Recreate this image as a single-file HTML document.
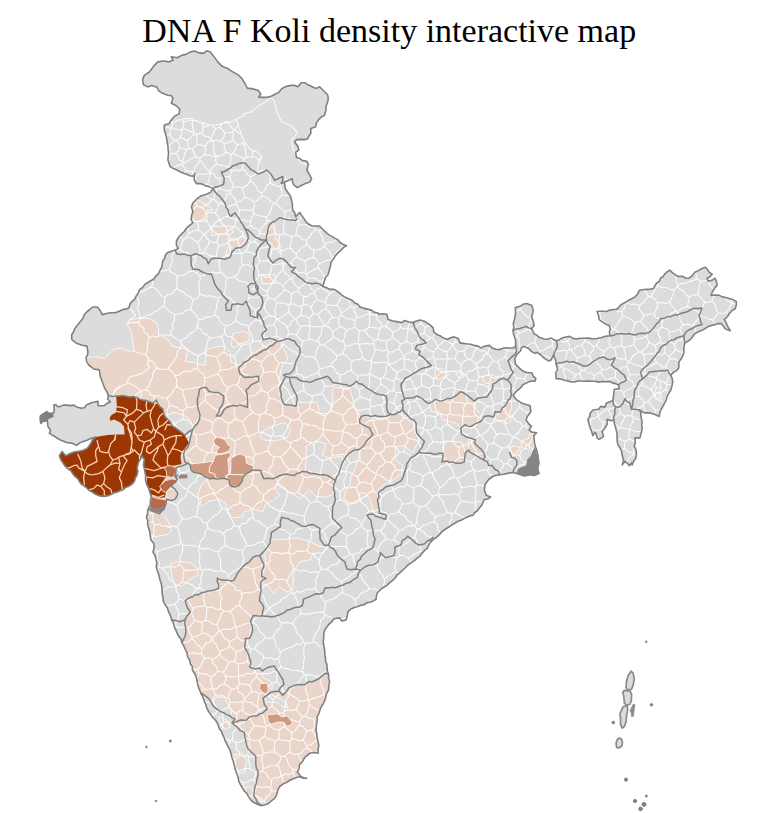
<!DOCTYPE html>
<html lang="en"><head><meta charset="utf-8"><title>DNA F Koli density interactive map</title>
<style>
html,body{margin:0;padding:0;background:#fff;}
body{width:770px;height:813px;position:relative;overflow:hidden;}
h1{position:absolute;left:142.3px;top:10.8px;margin:0;font:normal 34px/40px "Liberation Serif",serif;color:#000;white-space:nowrap;}
</style></head><body>
<h1>DNA F Koli density interactive map</h1>
<svg width="770" height="813" viewBox="0 0 770 813" style="position:absolute;left:0;top:0">
<defs><clipPath id="ind"><path d="M142.6 79.6 L144.3 75.4 L146.8 73.6 L149.4 72.0 L151.6 69.1 L153.6 66.1 L157.8 61.9 L163.7 61.0 L168.8 61.9 L173.0 60.2 L171.3 56.8 L177.2 57.7 L182.3 55.1 L185.9 54.4 L189.0 52.6 L194.1 50.9 L198.3 52.6 L203.4 53.4 L206.8 50.9 L210.1 51.8 L213.5 56.0 L215.6 58.9 L217.7 61.9 L221.9 66.1 L224.9 67.4 L227.9 68.6 L231.2 70.9 L234.6 72.9 L238.3 75.0 L241.4 77.9 L243.0 80.5 L244.7 83.0 L247.3 88.1 L253.2 88.9 L258.2 90.6 L260.8 94.0 L258.8 97.2 L263.2 97.4 L267.6 97.2 L271.0 96.4 L274.0 94.8 L278.8 92.4 L280.8 89.6 L283.6 87.6 L287.5 86.1 L291.6 85.2 L294.9 85.4 L298.0 86.8 L301.2 82.8 L305.2 82.8 L307.8 84.8 L310.8 86.0 L313.5 87.5 L316.4 88.4 L319.6 86.8 L323.6 90.8 L327.6 94.8 L328.3 98.4 L327.6 102.0 L326.1 105.9 L326.0 110.0 L324.4 115.6 L321.2 117.0 L318.8 119.6 L316.4 122.8 L315.6 126.8 L310.8 128.4 L310.8 133.2 L309.0 135.9 L307.6 138.8 L304.4 139.6 L300.4 139.4 L296.4 139.6 L294.8 142.0 L298.0 146.8 L298.8 150.0 L295.6 152.4 L296.4 157.2 L299.5 158.4 L302.0 160.4 L306.8 161.2 L308.4 164.4 L306.8 170.0 L309.2 174.0 L311.6 178.8 L310.0 182.0 L305.2 183.6 L300.4 186.0 L297.2 187.6 L294.0 185.2 L292.5 182.2 L292.4 178.8 L288.4 180.4 L284.4 182.0 L284.8 185.2 L285.2 188.4 L288.4 193.2 L290.5 196.3 L291.4 200.0 L292.2 203.1 L292.5 206.2 L292.5 209.4 L294.7 212.7 L295.6 216.6 L299.7 212.5 L301.8 215.6 L304.0 218.6 L306.0 221.8 L308.8 224.3 L312.2 226.0 L315.9 226.0 L319.5 226.0 L321.8 228.5 L324.4 230.8 L326.8 233.2 L329.4 235.1 L332.4 236.6 L335.1 238.4 L338.1 239.9 L340.4 242.7 L343.2 244.5 L346.5 245.7 L343.6 247.4 L341.3 249.9 L338.0 252.8 L335.1 256.1 L333.2 259.4 L330.9 262.3 L330.6 265.5 L329.8 268.6 L328.8 271.7 L328.0 274.8 L325.7 277.1 L324.7 280.0 L323.8 283.1 L322.6 286.2 L327.8 288.3 L330.8 289.4 L334.0 289.4 L337.2 291.3 L340.3 293.5 L342.7 295.8 L345.6 297.4 L348.6 298.7 L352.1 300.2 L354.8 302.9 L357.8 304.3 L360.0 306.9 L363.1 308.1 L367.3 309.1 L371.4 310.1 L373.8 312.1 L377.0 312.8 L379.7 314.3 L383.4 313.7 L387.0 314.3 L388.1 319.5 L392.2 320.7 L396.4 321.6 L401.6 322.6 L404.7 320.5 L408.7 322.0 L413.0 322.6 L416.5 321.0 L420.3 320.1 L424.3 321.2 L427.9 323.4 L430.6 325.4 L433.0 327.7 L433.8 331.9 L436.8 334.6 L440.6 336.1 L443.8 338.1 L447.3 339.5 L450.5 337.7 L454.1 336.9 L458.3 338.6 L460.0 342.9 L465.9 343.7 L470.2 344.2 L474.4 345.4 L478.0 346.1 L481.1 347.9 L485.1 346.0 L489.5 345.4 L492.1 347.9 L495.8 349.2 L499.7 349.6 L502.9 348.3 L506.4 347.9 L509.8 348.0 L513.2 347.9 L515.7 346.2 L515.6 340.6 L514.7 337.3 L513.5 334.0 L513.1 330.5 L513.8 327.2 L513.3 323.7 L514.2 320.4 L515.1 316.2 L515.6 311.9 L515.2 307.7 L520.6 306.0 L523.4 304.2 L526.6 303.5 L531.6 305.2 L533.3 310.3 L532.6 313.7 L531.6 317.0 L533.3 321.1 L534.2 325.5 L531.6 328.8 L534.2 333.9 L536.9 335.3 L539.2 337.3 L544.3 339.0 L547.7 339.3 L551.0 338.1 L556.1 340.7 L559.1 340.0 L561.6 338.2 L564.5 337.3 L569.6 336.4 L572.8 338.2 L576.4 339.0 L580.3 338.3 L584.3 338.2 L588.2 338.1 L592.6 338.8 L597.0 338.5 L600.9 337.7 L604.7 336.4 L610.2 335.7 L609.3 332.4 L610.3 328.9 L609.2 325.6 L605.6 324.0 L602.3 321.9 L599.1 319.6 L598.5 315.5 L597.1 311.5 L600.1 311.2 L603.1 311.2 L606.1 311.5 L609.3 310.2 L612.7 309.6 L616.2 309.5 L618.6 307.6 L620.7 305.1 L623.3 303.4 L626.1 302.0 L628.8 300.2 L631.6 298.8 L634.4 297.4 L637.5 294.2 L639.4 290.3 L642.9 289.8 L646.5 289.4 L650.1 289.3 L653.6 288.3 L655.0 285.5 L656.7 283.0 L659.4 281.1 L660.6 278.2 L663.2 276.5 L664.9 273.9 L667.1 271.8 L669.7 270.1 L672.5 272.9 L675.8 275.2 L678.9 276.6 L682.5 276.3 L685.5 278.1 L688.9 278.2 L692.3 275.6 L694.9 272.2 L698.3 270.6 L701.6 268.7 L705.0 267.1 L707.5 269.3 L709.1 272.2 L712.1 274.2 L710.0 276.7 L707.1 278.2 L708.1 281.2 L711.9 280.3 L715.1 278.2 L716.5 281.6 L717.1 285.3 L714.4 288.6 L712.1 292.3 L711.1 295.4 L715.2 295.0 L719.2 295.4 L722.4 296.9 L725.9 297.5 L729.3 298.4 L732.9 299.6 L736.3 301.4 L736.3 305.0 L735.3 308.5 L732.1 310.7 L729.3 313.5 L727.2 317.0 L724.2 319.6 L726.1 322.4 L727.2 325.6 L730.3 330.7 L725.2 328.7 L723.3 326.1 L721.2 323.6 L718.1 323.6 L715.1 324.6 L711.6 325.4 L708.1 326.6 L704.7 328.9 L701.0 330.7 L697.1 332.2 L693.9 334.7 L691.7 338.0 L688.9 340.8 L684.9 342.8 L683.8 347.8 L684.0 351.9 L682.8 355.9 L681.1 359.1 L678.8 362.0 L678.9 365.0 L678.8 368.0 L676.7 370.6 L673.8 372.1 L670.7 375.1 L672.2 378.5 L672.7 382.1 L671.9 386.2 L670.7 390.2 L668.8 393.2 L667.1 396.4 L666.2 399.9 L664.5 403.1 L662.9 406.4 L661.1 409.5 L659.8 412.8 L659.3 416.4 L654.3 414.3 L650.0 412.9 L644.3 412.9 L639.3 410.0 L640.7 412.1 L640.9 415.5 L641.3 418.8 L642.1 422.1 L641.7 425.4 L642.2 428.8 L641.4 432.1 L640.0 437.9 L635.0 437.9 L635.3 442.2 L634.3 446.4 L636.0 449.8 L636.4 453.6 L635.7 458.6 L633.4 461.5 L632.1 465.0 L631.4 462.9 L629.3 465.7 L627.4 463.3 L625.0 461.4 L622.1 465.0 L623.6 460.7 L622.1 455.0 L621.7 451.3 L620.0 447.9 L617.9 444.6 L617.1 440.7 L617.1 435.0 L616.6 431.4 L615.7 427.9 L614.6 424.0 L613.6 420.0 L610.7 420.7 L607.1 419.3 L607.1 424.3 L605.0 427.9 L602.1 431.4 L603.6 436.4 L599.3 439.3 L597.1 437.9 L596.4 434.9 L595.0 432.1 L592.9 435.7 L591.4 430.7 L590.1 427.9 L589.3 425.0 L587.9 419.3 L589.7 416.7 L590.0 413.6 L592.9 410.0 L598.6 409.3 L600.7 406.4 L605.0 407.1 L606.4 402.9 L610.7 401.4 L612.9 400.7 L613.6 395.0 L614.3 389.3 L619.3 388.6 L618.6 385.0 L615.7 383.6 L612.6 383.1 L610.0 381.4 L606.2 381.6 L602.4 381.5 L598.6 382.1 L595.2 381.3 L591.7 381.3 L588.3 381.1 L584.8 381.2 L581.4 381.0 L578.0 381.0 L574.7 382.0 L571.3 382.0 L568.0 380.9 L564.5 380.3 L560.4 378.9 L556.1 378.6 L555.8 372.7 L557.8 369.4 L556.1 364.3 L555.8 360.8 L554.4 357.5 L553.6 355.0 L551.0 360.1 L548.5 360.9 L544.3 358.4 L540.9 355.0 L537.5 352.5 L535.0 353.3 L531.6 351.6 L528.2 348.2 L524.0 346.6 L521.5 347.4 L520.6 350.8 L516.4 355.0 L514.7 359.2 L515.6 364.3 L518.2 366.8 L520.6 369.4 L523.8 371.4 L527.4 372.7 L531.6 372.7 L533.3 376.1 L535.8 378.6 L535.0 381.2 L531.5 381.1 L528.2 382.0 L523.2 384.6 L520.6 387.9 L516.4 391.3 L513.1 395.5 L516.8 400.0 L521.4 402.9 L524.3 403.9 L527.3 404.7 L530.2 405.8 L530.8 411.7 L527.3 416.4 L526.1 419.9 L528.4 423.4 L531.4 426.3 L529.0 429.8 L531.9 432.1 L536.6 432.7 L533.7 435.6 L534.3 440.9 L534.7 443.9 L535.5 446.8 L536.8 450.8 L537.8 454.9 L538.3 459.0 L539.0 463.1 L538.2 466.0 L537.8 469.0 L539.0 473.6 L534.3 475.4 L529.6 474.8 L524.9 476.0 L520.3 474.8 L516.8 473.6 L513.2 472.5 L508.6 473.1 L503.9 474.2 L499.2 474.8 L493.4 476.0 L488.7 479.5 L485.2 484.2 L484.3 489.8 L486.2 495.3 L490.7 497.1 L487.6 499.0 L484.0 499.8 L481.8 505.3 L479.4 507.9 L477.4 510.8 L474.7 512.5 L473.0 515.3 L469.8 515.9 L466.9 517.2 L464.1 518.6 L461.2 520.2 L458.1 521.2 L455.3 523.0 L452.3 524.7 L449.4 526.7 L446.4 528.5 L442.8 530.9 L439.8 534.1 L436.8 537.3 L433.1 539.6 L430.6 542.1 L428.7 545.1 L427.1 548.3 L424.3 550.7 L421.9 553.4 L419.8 556.2 L416.9 558.4 L414.2 560.9 L411.0 562.8 L407.8 565.2 L405.1 568.0 L402.1 570.6 L399.8 572.8 L397.2 574.8 L395.5 577.5 L392.8 580.3 L389.6 582.6 L387.3 585.3 L384.2 587.0 L381.3 588.8 L377.2 593.0 L376.4 596.1 L376.1 599.2 L373.4 600.9 L370.6 602.3 L367.3 602.5 L364.7 604.4 L361.2 605.2 L357.8 606.6 L354.3 607.5 L350.8 609.1 L348.0 611.7 L347.3 615.9 L346.0 620.0 L341.8 621.0 L339.7 617.9 L336.6 618.2 L333.5 619.0 L331.8 621.7 L329.4 623.9 L327.3 626.2 L324.6 630.1 L323.7 634.1 L323.7 638.3 L323.3 641.7 L323.6 645.0 L324.4 648.3 L324.8 651.4 L324.8 654.6 L325.5 657.7 L325.5 660.8 L326.8 664.1 L327.1 667.5 L327.3 671.0 L328.6 674.3 L328.6 678.0 L329.6 681.6 L328.8 685.7 L328.6 689.9 L326.4 693.8 L325.5 698.2 L324.4 701.1 L323.1 704.0 L321.3 706.5 L320.0 710.0 L318.8 713.6 L317.1 716.9 L317.2 720.4 L316.6 723.8 L316.1 727.3 L316.2 730.8 L316.8 734.2 L317.1 737.7 L318.2 741.8 L318.8 746.0 L318.0 749.6 L318.2 753.2 L314.0 752.5 L309.9 753.2 L307.3 755.4 L304.7 757.4 L302.6 761.4 L299.5 764.7 L299.1 768.5 L297.4 771.9 L300.5 776.1 L303.5 777.7 L306.8 778.2 L303.0 778.1 L299.5 776.7 L295.7 777.7 L292.2 779.2 L289.4 780.5 L286.8 782.3 L283.9 783.4 L279.7 786.5 L277.7 790.5 L276.6 794.8 L274.6 798.4 L271.4 801.0 L268.6 803.4 L265.2 804.8 L261.0 805.6 L257.9 804.4 L254.8 803.1 L251.2 800.5 L248.6 796.9 L246.9 793.5 L244.1 790.9 L242.3 787.5 L240.4 784.6 L238.9 781.6 L238.2 778.2 L237.4 775.0 L236.1 772.0 L235.1 768.8 L234.2 764.9 L233.2 761.1 L231.9 757.4 L231.1 753.9 L230.0 750.4 L228.3 747.2 L226.8 743.9 L225.1 740.9 L224.2 737.7 L222.5 734.7 L221.6 731.4 L219.4 728.9 L218.4 725.7 L217.2 722.7 L215.3 720.0 L212.5 717.2 L210.2 713.9 L208.1 710.6 L206.7 707.8 L205.9 704.6 L204.5 701.8 L203.4 698.8 L202.4 695.8 L200.8 693.0 L199.1 688.9 L197.7 684.7 L197.1 680.7 L196.2 676.9 L194.5 673.2 L192.5 670.3 L192.3 666.6 L190.3 663.7 L189.6 660.0 L187.6 656.7 L187.1 652.9 L185.3 649.5 L183.8 645.9 L181.9 642.5 L180.9 639.1 L178.8 636.3 L177.3 633.6 L176.2 630.7 L174.7 628.0 L173.7 623.7 L171.6 619.7 L170.4 615.4 L168.4 611.4 L167.3 607.6 L164.9 604.5 L163.2 601.0 L163.1 597.5 L162.1 594.1 L162.2 590.6 L161.8 587.1 L161.3 583.6 L160.1 580.2 L159.3 576.7 L158.3 573.2 L157.0 569.8 L156.2 566.4 L156.9 562.8 L156.0 559.4 L155.1 555.5 L152.9 552.1 L154.1 548.0 L153.9 543.8 L150.8 539.7 L150.2 535.9 L149.8 532.0 L148.7 528.2 L147.7 524.6 L147.8 520.8 L146.4 517.3 L147.6 513.7 L147.7 510.0 L148.9 507.2 L150.5 504.6 L150.3 500.9 L151.4 497.3 L150.4 494.3 L149.6 491.2 L148.6 488.2 L146.4 483.6 L145.5 480.0 L145.7 476.0 L145.0 472.1 L144.3 468.6 L143.6 465.0 L144.3 459.3 L141.4 455.7 L140.7 458.6 L138.6 462.1 L137.1 467.9 L137.8 471.4 L137.1 475.0 L135.3 478.0 L134.3 481.4 L131.9 484.4 L128.6 486.4 L125.5 487.4 L123.1 489.7 L120.0 490.7 L117.2 492.1 L114.1 492.7 L111.4 494.3 L107.6 495.9 L103.6 496.4 L99.5 495.9 L95.7 494.3 L92.2 492.1 L88.6 490.0 L86.4 487.8 L84.1 485.8 L81.4 484.3 L79.5 481.5 L77.7 478.6 L75.0 476.4 L72.9 474.0 L71.2 471.2 L68.6 469.3 L65.3 466.5 L62.9 462.9 L60.7 459.5 L59.3 455.7 L62.1 451.4 L65.7 455.7 L68.6 454.3 L71.4 452.9 L74.9 451.8 L78.6 451.4 L83.0 450.3 L87.1 448.6 L89.4 445.5 L91.4 442.1 L92.9 439.3 L95.7 437.1 L91.5 438.2 L86.9 440.2 L83.3 441.5 L79.8 442.8 L76.6 445.4 L74.0 444.1 L70.9 442.9 L67.5 442.8 L64.3 441.4 L61.0 440.2 L57.6 438.5 L54.5 436.3 L51.8 434.9 L49.3 433.1 L50.6 430.5 L48.0 426.6 L47.3 420.7 L42.8 421.4 L40.8 423.3 L40.2 420.1 L40.2 416.2 L42.8 414.2 L46.7 411.6 L49.3 413.6 L53.8 412.9 L54.3 409.0 L53.8 405.1 L55.8 404.5 L57.1 406.4 L60.2 406.6 L63.1 405.1 L66.2 405.1 L70.1 405.6 L74.0 405.1 L76.6 407.1 L80.4 408.1 L84.4 407.7 L86.3 405.1 L89.2 403.8 L92.1 402.5 L95.1 402.0 L98.0 401.2 L98.0 405.8 L103.8 405.8 L107.1 403.2 L110.3 401.9 L107.7 399.3 L108.4 395.4 L107.0 391.9 L104.7 388.3 L103.2 384.3 L101.8 380.4 L100.3 376.6 L99.8 373.2 L99.3 369.9 L93.6 369.0 L91.3 367.0 L88.8 365.2 L86.7 361.6 L86.0 357.6 L87.6 354.9 L87.9 351.8 L86.9 346.1 L82.2 345.2 L79.3 344.2 L76.4 343.2 L74.0 341.4 L71.7 339.4 L71.7 334.7 L73.5 332.0 L74.5 328.9 L76.8 326.1 L79.0 323.2 L81.2 320.4 L83.3 317.7 L84.5 314.3 L86.9 311.8 L89.8 309.4 L92.7 307.0 L97.4 307.0 L100.3 310.8 L102.2 314.6 L106.5 313.5 L110.8 312.7 L114.1 312.7 L117.3 312.1 L120.3 310.8 L123.1 309.5 L126.0 308.9 L128.9 308.0 L129.9 304.1 L131.9 301.4 L134.6 299.4 L136.1 296.2 L138.2 293.2 L139.4 289.8 L142.7 287.4 L145.1 284.1 L147.9 282.5 L150.7 280.7 L153.7 279.3 L155.7 276.2 L158.5 273.6 L159.9 270.5 L161.6 267.5 L162.3 264.1 L162.7 261.1 L164.6 258.5 L165.2 255.5 L167.1 253.0 L169.9 251.7 L175.5 250.1 L178.2 248.3 L176.4 245.6 L176.4 241.0 L177.9 238.3 L179.7 235.9 L181.9 233.7 L184.2 231.5 L186.0 228.7 L188.3 226.4 L192.8 222.8 L191.0 219.2 L191.7 215.2 L192.9 211.4 L191.4 207.1 L192.9 202.9 L195.1 200.9 L197.1 198.6 L201.4 195.7 L206.4 194.3 L210.7 192.1 L212.9 188.6 L208.6 186.4 L205.5 185.9 L202.9 184.3 L199.7 183.6 L196.4 183.6 L194.3 180.0 L194.1 176.7 L195.0 173.6 L193.6 176.4 L190.0 175.7 L187.2 174.6 L184.3 173.6 L180.5 172.1 L177.1 170.0 L173.3 168.6 L170.0 166.4 L169.0 163.2 L167.9 160.0 L168.2 156.4 L168.6 152.9 L168.1 149.3 L167.9 145.7 L167.0 141.4 L166.4 137.1 L165.4 133.5 L164.3 130.0 L164.3 125.0 L169.3 123.6 L170.7 120.7 L174.3 116.4 L179.3 113.6 L179.7 109.2 L176.4 105.8 L171.3 103.2 L173.0 98.2 L171.3 95.6 L167.8 95.3 L164.5 94.0 L161.3 92.7 L158.6 90.6 L156.9 87.2 L151.9 85.5 L147.7 86.9 L143.4 84.7Z"/></clipPath></defs>
<path d="M142.6 79.6 L144.3 75.4 L146.8 73.6 L149.4 72.0 L151.6 69.1 L153.6 66.1 L157.8 61.9 L163.7 61.0 L168.8 61.9 L173.0 60.2 L171.3 56.8 L177.2 57.7 L182.3 55.1 L185.9 54.4 L189.0 52.6 L194.1 50.9 L198.3 52.6 L203.4 53.4 L206.8 50.9 L210.1 51.8 L213.5 56.0 L215.6 58.9 L217.7 61.9 L221.9 66.1 L224.9 67.4 L227.9 68.6 L231.2 70.9 L234.6 72.9 L238.3 75.0 L241.4 77.9 L243.0 80.5 L244.7 83.0 L247.3 88.1 L253.2 88.9 L258.2 90.6 L260.8 94.0 L258.8 97.2 L263.2 97.4 L267.6 97.2 L271.0 96.4 L274.0 94.8 L278.8 92.4 L280.8 89.6 L283.6 87.6 L287.5 86.1 L291.6 85.2 L294.9 85.4 L298.0 86.8 L301.2 82.8 L305.2 82.8 L307.8 84.8 L310.8 86.0 L313.5 87.5 L316.4 88.4 L319.6 86.8 L323.6 90.8 L327.6 94.8 L328.3 98.4 L327.6 102.0 L326.1 105.9 L326.0 110.0 L324.4 115.6 L321.2 117.0 L318.8 119.6 L316.4 122.8 L315.6 126.8 L310.8 128.4 L310.8 133.2 L309.0 135.9 L307.6 138.8 L304.4 139.6 L300.4 139.4 L296.4 139.6 L294.8 142.0 L298.0 146.8 L298.8 150.0 L295.6 152.4 L296.4 157.2 L299.5 158.4 L302.0 160.4 L306.8 161.2 L308.4 164.4 L306.8 170.0 L309.2 174.0 L311.6 178.8 L310.0 182.0 L305.2 183.6 L300.4 186.0 L297.2 187.6 L294.0 185.2 L292.5 182.2 L292.4 178.8 L288.4 180.4 L284.4 182.0 L284.8 185.2 L285.2 188.4 L288.4 193.2 L290.5 196.3 L291.4 200.0 L292.2 203.1 L292.5 206.2 L292.5 209.4 L294.7 212.7 L295.6 216.6 L299.7 212.5 L301.8 215.6 L304.0 218.6 L306.0 221.8 L308.8 224.3 L312.2 226.0 L315.9 226.0 L319.5 226.0 L321.8 228.5 L324.4 230.8 L326.8 233.2 L329.4 235.1 L332.4 236.6 L335.1 238.4 L338.1 239.9 L340.4 242.7 L343.2 244.5 L346.5 245.7 L343.6 247.4 L341.3 249.9 L338.0 252.8 L335.1 256.1 L333.2 259.4 L330.9 262.3 L330.6 265.5 L329.8 268.6 L328.8 271.7 L328.0 274.8 L325.7 277.1 L324.7 280.0 L323.8 283.1 L322.6 286.2 L327.8 288.3 L330.8 289.4 L334.0 289.4 L337.2 291.3 L340.3 293.5 L342.7 295.8 L345.6 297.4 L348.6 298.7 L352.1 300.2 L354.8 302.9 L357.8 304.3 L360.0 306.9 L363.1 308.1 L367.3 309.1 L371.4 310.1 L373.8 312.1 L377.0 312.8 L379.7 314.3 L383.4 313.7 L387.0 314.3 L388.1 319.5 L392.2 320.7 L396.4 321.6 L401.6 322.6 L404.7 320.5 L408.7 322.0 L413.0 322.6 L416.5 321.0 L420.3 320.1 L424.3 321.2 L427.9 323.4 L430.6 325.4 L433.0 327.7 L433.8 331.9 L436.8 334.6 L440.6 336.1 L443.8 338.1 L447.3 339.5 L450.5 337.7 L454.1 336.9 L458.3 338.6 L460.0 342.9 L465.9 343.7 L470.2 344.2 L474.4 345.4 L478.0 346.1 L481.1 347.9 L485.1 346.0 L489.5 345.4 L492.1 347.9 L495.8 349.2 L499.7 349.6 L502.9 348.3 L506.4 347.9 L509.8 348.0 L513.2 347.9 L515.7 346.2 L515.6 340.6 L514.7 337.3 L513.5 334.0 L513.1 330.5 L513.8 327.2 L513.3 323.7 L514.2 320.4 L515.1 316.2 L515.6 311.9 L515.2 307.7 L520.6 306.0 L523.4 304.2 L526.6 303.5 L531.6 305.2 L533.3 310.3 L532.6 313.7 L531.6 317.0 L533.3 321.1 L534.2 325.5 L531.6 328.8 L534.2 333.9 L536.9 335.3 L539.2 337.3 L544.3 339.0 L547.7 339.3 L551.0 338.1 L556.1 340.7 L559.1 340.0 L561.6 338.2 L564.5 337.3 L569.6 336.4 L572.8 338.2 L576.4 339.0 L580.3 338.3 L584.3 338.2 L588.2 338.1 L592.6 338.8 L597.0 338.5 L600.9 337.7 L604.7 336.4 L610.2 335.7 L609.3 332.4 L610.3 328.9 L609.2 325.6 L605.6 324.0 L602.3 321.9 L599.1 319.6 L598.5 315.5 L597.1 311.5 L600.1 311.2 L603.1 311.2 L606.1 311.5 L609.3 310.2 L612.7 309.6 L616.2 309.5 L618.6 307.6 L620.7 305.1 L623.3 303.4 L626.1 302.0 L628.8 300.2 L631.6 298.8 L634.4 297.4 L637.5 294.2 L639.4 290.3 L642.9 289.8 L646.5 289.4 L650.1 289.3 L653.6 288.3 L655.0 285.5 L656.7 283.0 L659.4 281.1 L660.6 278.2 L663.2 276.5 L664.9 273.9 L667.1 271.8 L669.7 270.1 L672.5 272.9 L675.8 275.2 L678.9 276.6 L682.5 276.3 L685.5 278.1 L688.9 278.2 L692.3 275.6 L694.9 272.2 L698.3 270.6 L701.6 268.7 L705.0 267.1 L707.5 269.3 L709.1 272.2 L712.1 274.2 L710.0 276.7 L707.1 278.2 L708.1 281.2 L711.9 280.3 L715.1 278.2 L716.5 281.6 L717.1 285.3 L714.4 288.6 L712.1 292.3 L711.1 295.4 L715.2 295.0 L719.2 295.4 L722.4 296.9 L725.9 297.5 L729.3 298.4 L732.9 299.6 L736.3 301.4 L736.3 305.0 L735.3 308.5 L732.1 310.7 L729.3 313.5 L727.2 317.0 L724.2 319.6 L726.1 322.4 L727.2 325.6 L730.3 330.7 L725.2 328.7 L723.3 326.1 L721.2 323.6 L718.1 323.6 L715.1 324.6 L711.6 325.4 L708.1 326.6 L704.7 328.9 L701.0 330.7 L697.1 332.2 L693.9 334.7 L691.7 338.0 L688.9 340.8 L684.9 342.8 L683.8 347.8 L684.0 351.9 L682.8 355.9 L681.1 359.1 L678.8 362.0 L678.9 365.0 L678.8 368.0 L676.7 370.6 L673.8 372.1 L670.7 375.1 L672.2 378.5 L672.7 382.1 L671.9 386.2 L670.7 390.2 L668.8 393.2 L667.1 396.4 L666.2 399.9 L664.5 403.1 L662.9 406.4 L661.1 409.5 L659.8 412.8 L659.3 416.4 L654.3 414.3 L650.0 412.9 L644.3 412.9 L639.3 410.0 L640.7 412.1 L640.9 415.5 L641.3 418.8 L642.1 422.1 L641.7 425.4 L642.2 428.8 L641.4 432.1 L640.0 437.9 L635.0 437.9 L635.3 442.2 L634.3 446.4 L636.0 449.8 L636.4 453.6 L635.7 458.6 L633.4 461.5 L632.1 465.0 L631.4 462.9 L629.3 465.7 L627.4 463.3 L625.0 461.4 L622.1 465.0 L623.6 460.7 L622.1 455.0 L621.7 451.3 L620.0 447.9 L617.9 444.6 L617.1 440.7 L617.1 435.0 L616.6 431.4 L615.7 427.9 L614.6 424.0 L613.6 420.0 L610.7 420.7 L607.1 419.3 L607.1 424.3 L605.0 427.9 L602.1 431.4 L603.6 436.4 L599.3 439.3 L597.1 437.9 L596.4 434.9 L595.0 432.1 L592.9 435.7 L591.4 430.7 L590.1 427.9 L589.3 425.0 L587.9 419.3 L589.7 416.7 L590.0 413.6 L592.9 410.0 L598.6 409.3 L600.7 406.4 L605.0 407.1 L606.4 402.9 L610.7 401.4 L612.9 400.7 L613.6 395.0 L614.3 389.3 L619.3 388.6 L618.6 385.0 L615.7 383.6 L612.6 383.1 L610.0 381.4 L606.2 381.6 L602.4 381.5 L598.6 382.1 L595.2 381.3 L591.7 381.3 L588.3 381.1 L584.8 381.2 L581.4 381.0 L578.0 381.0 L574.7 382.0 L571.3 382.0 L568.0 380.9 L564.5 380.3 L560.4 378.9 L556.1 378.6 L555.8 372.7 L557.8 369.4 L556.1 364.3 L555.8 360.8 L554.4 357.5 L553.6 355.0 L551.0 360.1 L548.5 360.9 L544.3 358.4 L540.9 355.0 L537.5 352.5 L535.0 353.3 L531.6 351.6 L528.2 348.2 L524.0 346.6 L521.5 347.4 L520.6 350.8 L516.4 355.0 L514.7 359.2 L515.6 364.3 L518.2 366.8 L520.6 369.4 L523.8 371.4 L527.4 372.7 L531.6 372.7 L533.3 376.1 L535.8 378.6 L535.0 381.2 L531.5 381.1 L528.2 382.0 L523.2 384.6 L520.6 387.9 L516.4 391.3 L513.1 395.5 L516.8 400.0 L521.4 402.9 L524.3 403.9 L527.3 404.7 L530.2 405.8 L530.8 411.7 L527.3 416.4 L526.1 419.9 L528.4 423.4 L531.4 426.3 L529.0 429.8 L531.9 432.1 L536.6 432.7 L533.7 435.6 L534.3 440.9 L534.7 443.9 L535.5 446.8 L536.8 450.8 L537.8 454.9 L538.3 459.0 L539.0 463.1 L538.2 466.0 L537.8 469.0 L539.0 473.6 L534.3 475.4 L529.6 474.8 L524.9 476.0 L520.3 474.8 L516.8 473.6 L513.2 472.5 L508.6 473.1 L503.9 474.2 L499.2 474.8 L493.4 476.0 L488.7 479.5 L485.2 484.2 L484.3 489.8 L486.2 495.3 L490.7 497.1 L487.6 499.0 L484.0 499.8 L481.8 505.3 L479.4 507.9 L477.4 510.8 L474.7 512.5 L473.0 515.3 L469.8 515.9 L466.9 517.2 L464.1 518.6 L461.2 520.2 L458.1 521.2 L455.3 523.0 L452.3 524.7 L449.4 526.7 L446.4 528.5 L442.8 530.9 L439.8 534.1 L436.8 537.3 L433.1 539.6 L430.6 542.1 L428.7 545.1 L427.1 548.3 L424.3 550.7 L421.9 553.4 L419.8 556.2 L416.9 558.4 L414.2 560.9 L411.0 562.8 L407.8 565.2 L405.1 568.0 L402.1 570.6 L399.8 572.8 L397.2 574.8 L395.5 577.5 L392.8 580.3 L389.6 582.6 L387.3 585.3 L384.2 587.0 L381.3 588.8 L377.2 593.0 L376.4 596.1 L376.1 599.2 L373.4 600.9 L370.6 602.3 L367.3 602.5 L364.7 604.4 L361.2 605.2 L357.8 606.6 L354.3 607.5 L350.8 609.1 L348.0 611.7 L347.3 615.9 L346.0 620.0 L341.8 621.0 L339.7 617.9 L336.6 618.2 L333.5 619.0 L331.8 621.7 L329.4 623.9 L327.3 626.2 L324.6 630.1 L323.7 634.1 L323.7 638.3 L323.3 641.7 L323.6 645.0 L324.4 648.3 L324.8 651.4 L324.8 654.6 L325.5 657.7 L325.5 660.8 L326.8 664.1 L327.1 667.5 L327.3 671.0 L328.6 674.3 L328.6 678.0 L329.6 681.6 L328.8 685.7 L328.6 689.9 L326.4 693.8 L325.5 698.2 L324.4 701.1 L323.1 704.0 L321.3 706.5 L320.0 710.0 L318.8 713.6 L317.1 716.9 L317.2 720.4 L316.6 723.8 L316.1 727.3 L316.2 730.8 L316.8 734.2 L317.1 737.7 L318.2 741.8 L318.8 746.0 L318.0 749.6 L318.2 753.2 L314.0 752.5 L309.9 753.2 L307.3 755.4 L304.7 757.4 L302.6 761.4 L299.5 764.7 L299.1 768.5 L297.4 771.9 L300.5 776.1 L303.5 777.7 L306.8 778.2 L303.0 778.1 L299.5 776.7 L295.7 777.7 L292.2 779.2 L289.4 780.5 L286.8 782.3 L283.9 783.4 L279.7 786.5 L277.7 790.5 L276.6 794.8 L274.6 798.4 L271.4 801.0 L268.6 803.4 L265.2 804.8 L261.0 805.6 L257.9 804.4 L254.8 803.1 L251.2 800.5 L248.6 796.9 L246.9 793.5 L244.1 790.9 L242.3 787.5 L240.4 784.6 L238.9 781.6 L238.2 778.2 L237.4 775.0 L236.1 772.0 L235.1 768.8 L234.2 764.9 L233.2 761.1 L231.9 757.4 L231.1 753.9 L230.0 750.4 L228.3 747.2 L226.8 743.9 L225.1 740.9 L224.2 737.7 L222.5 734.7 L221.6 731.4 L219.4 728.9 L218.4 725.7 L217.2 722.7 L215.3 720.0 L212.5 717.2 L210.2 713.9 L208.1 710.6 L206.7 707.8 L205.9 704.6 L204.5 701.8 L203.4 698.8 L202.4 695.8 L200.8 693.0 L199.1 688.9 L197.7 684.7 L197.1 680.7 L196.2 676.9 L194.5 673.2 L192.5 670.3 L192.3 666.6 L190.3 663.7 L189.6 660.0 L187.6 656.7 L187.1 652.9 L185.3 649.5 L183.8 645.9 L181.9 642.5 L180.9 639.1 L178.8 636.3 L177.3 633.6 L176.2 630.7 L174.7 628.0 L173.7 623.7 L171.6 619.7 L170.4 615.4 L168.4 611.4 L167.3 607.6 L164.9 604.5 L163.2 601.0 L163.1 597.5 L162.1 594.1 L162.2 590.6 L161.8 587.1 L161.3 583.6 L160.1 580.2 L159.3 576.7 L158.3 573.2 L157.0 569.8 L156.2 566.4 L156.9 562.8 L156.0 559.4 L155.1 555.5 L152.9 552.1 L154.1 548.0 L153.9 543.8 L150.8 539.7 L150.2 535.9 L149.8 532.0 L148.7 528.2 L147.7 524.6 L147.8 520.8 L146.4 517.3 L147.6 513.7 L147.7 510.0 L148.9 507.2 L150.5 504.6 L150.3 500.9 L151.4 497.3 L150.4 494.3 L149.6 491.2 L148.6 488.2 L146.4 483.6 L145.5 480.0 L145.7 476.0 L145.0 472.1 L144.3 468.6 L143.6 465.0 L144.3 459.3 L141.4 455.7 L140.7 458.6 L138.6 462.1 L137.1 467.9 L137.8 471.4 L137.1 475.0 L135.3 478.0 L134.3 481.4 L131.9 484.4 L128.6 486.4 L125.5 487.4 L123.1 489.7 L120.0 490.7 L117.2 492.1 L114.1 492.7 L111.4 494.3 L107.6 495.9 L103.6 496.4 L99.5 495.9 L95.7 494.3 L92.2 492.1 L88.6 490.0 L86.4 487.8 L84.1 485.8 L81.4 484.3 L79.5 481.5 L77.7 478.6 L75.0 476.4 L72.9 474.0 L71.2 471.2 L68.6 469.3 L65.3 466.5 L62.9 462.9 L60.7 459.5 L59.3 455.7 L62.1 451.4 L65.7 455.7 L68.6 454.3 L71.4 452.9 L74.9 451.8 L78.6 451.4 L83.0 450.3 L87.1 448.6 L89.4 445.5 L91.4 442.1 L92.9 439.3 L95.7 437.1 L91.5 438.2 L86.9 440.2 L83.3 441.5 L79.8 442.8 L76.6 445.4 L74.0 444.1 L70.9 442.9 L67.5 442.8 L64.3 441.4 L61.0 440.2 L57.6 438.5 L54.5 436.3 L51.8 434.9 L49.3 433.1 L50.6 430.5 L48.0 426.6 L47.3 420.7 L42.8 421.4 L40.8 423.3 L40.2 420.1 L40.2 416.2 L42.8 414.2 L46.7 411.6 L49.3 413.6 L53.8 412.9 L54.3 409.0 L53.8 405.1 L55.8 404.5 L57.1 406.4 L60.2 406.6 L63.1 405.1 L66.2 405.1 L70.1 405.6 L74.0 405.1 L76.6 407.1 L80.4 408.1 L84.4 407.7 L86.3 405.1 L89.2 403.8 L92.1 402.5 L95.1 402.0 L98.0 401.2 L98.0 405.8 L103.8 405.8 L107.1 403.2 L110.3 401.9 L107.7 399.3 L108.4 395.4 L107.0 391.9 L104.7 388.3 L103.2 384.3 L101.8 380.4 L100.3 376.6 L99.8 373.2 L99.3 369.9 L93.6 369.0 L91.3 367.0 L88.8 365.2 L86.7 361.6 L86.0 357.6 L87.6 354.9 L87.9 351.8 L86.9 346.1 L82.2 345.2 L79.3 344.2 L76.4 343.2 L74.0 341.4 L71.7 339.4 L71.7 334.7 L73.5 332.0 L74.5 328.9 L76.8 326.1 L79.0 323.2 L81.2 320.4 L83.3 317.7 L84.5 314.3 L86.9 311.8 L89.8 309.4 L92.7 307.0 L97.4 307.0 L100.3 310.8 L102.2 314.6 L106.5 313.5 L110.8 312.7 L114.1 312.7 L117.3 312.1 L120.3 310.8 L123.1 309.5 L126.0 308.9 L128.9 308.0 L129.9 304.1 L131.9 301.4 L134.6 299.4 L136.1 296.2 L138.2 293.2 L139.4 289.8 L142.7 287.4 L145.1 284.1 L147.9 282.5 L150.7 280.7 L153.7 279.3 L155.7 276.2 L158.5 273.6 L159.9 270.5 L161.6 267.5 L162.3 264.1 L162.7 261.1 L164.6 258.5 L165.2 255.5 L167.1 253.0 L169.9 251.7 L175.5 250.1 L178.2 248.3 L176.4 245.6 L176.4 241.0 L177.9 238.3 L179.7 235.9 L181.9 233.7 L184.2 231.5 L186.0 228.7 L188.3 226.4 L192.8 222.8 L191.0 219.2 L191.7 215.2 L192.9 211.4 L191.4 207.1 L192.9 202.9 L195.1 200.9 L197.1 198.6 L201.4 195.7 L206.4 194.3 L210.7 192.1 L212.9 188.6 L208.6 186.4 L205.5 185.9 L202.9 184.3 L199.7 183.6 L196.4 183.6 L194.3 180.0 L194.1 176.7 L195.0 173.6 L193.6 176.4 L190.0 175.7 L187.2 174.6 L184.3 173.6 L180.5 172.1 L177.1 170.0 L173.3 168.6 L170.0 166.4 L169.0 163.2 L167.9 160.0 L168.2 156.4 L168.6 152.9 L168.1 149.3 L167.9 145.7 L167.0 141.4 L166.4 137.1 L165.4 133.5 L164.3 130.0 L164.3 125.0 L169.3 123.6 L170.7 120.7 L174.3 116.4 L179.3 113.6 L179.7 109.2 L176.4 105.8 L171.3 103.2 L173.0 98.2 L171.3 95.6 L167.8 95.3 L164.5 94.0 L161.3 92.7 L158.6 90.6 L156.9 87.2 L151.9 85.5 L147.7 86.9 L143.4 84.7Z" fill="#dcdcdc"/>
<g clip-path="url(#ind)">
<polygon points="86.0,357.6 95.5,356.6 105.1,358.5 108.9,353.7 114.6,349.0 122.2,348.0 128.0,350.9 133.7,350.9 132.7,340.4 130.8,330.8 127.0,325.1 128.9,320.4 137.5,318.4 148.9,318.4 156.6,323.2 158.5,328.9 158.5,334.7 168.0,339.4 171.8,346.1 185.0,349.0 187.4,351.2 185.4,361.2 194.8,362.9 204.8,365.4 206.2,349.9 215.0,346.9 225.0,346.2 230.0,352.4 231.2,362.4 237.5,364.9 240.0,364.9 249.9,355.4 262.4,347.9 274.9,341.2 279.9,339.9 282.4,347.4 286.1,352.4 287.4,359.9 282.4,364.9 281.1,369.9 279.9,376.1 278.7,389.9 281.1,399.9 288.6,405.4 296.1,406.9 297.9,402.4 307.4,402.4 317.4,402.4 319.4,413.6 327.3,413.6 332.3,407.4 332.3,389.9 334.8,387.4 349.8,388.6 352.3,397.4 354.8,407.4 359.8,414.9 359.7,422.9 369.7,427.9 373.0,434.5 366.4,441.2 361.4,447.8 349.7,452.8 344.7,459.4 341.4,469.4 338.1,479.4 336.0,481.1 332.4,494.8 324.9,497.3 314.9,496.1 309.9,489.8 299.9,498.6 290.0,492.3 277.5,482.3 275.0,489.8 279.6,495.0 273.4,500.2 265.1,504.4 263.0,511.6 254.7,509.5 244.3,511.6 242.2,516.8 232.9,517.9 227.7,513.7 225.6,503.3 219.4,499.2 209.0,501.2 201.7,506.4 198.6,503.3 198.2,493.2 201.5,484.9 207.4,478.6 195.0,472.3 190.0,464.8 185.0,462.3 183.7,453.6 187.5,447.4 190.0,439.9 192.5,429.9 184.9,435.3 178.3,429.8 171.7,425.4 168.3,419.8 163.9,414.3 162.8,408.8 158.4,404.3 156.2,400.0 152.8,403.2 142.9,400.0 134.0,396.6 125.2,396.0 116.2,396.0 108.4,395.4 107.0,391.9 103.2,384.3 100.3,376.6 99.3,369.9 93.6,369.0 88.8,365.2" fill="#e9d5ca" stroke="#fff" stroke-width="1" stroke-opacity=".8" stroke-linejoin="round"/>
<polygon points="232.0,340.0 232.5,333.7 243.7,331.2 249.9,334.9 248.7,341.2 239.9,343.7 235.0,347.4 231.2,346.2" fill="#e9d5ca" stroke="#fff" stroke-width="1" stroke-opacity=".8" stroke-linejoin="round"/>
<polygon points="359.9,416.2 369.9,416.9 384.8,418.7 397.3,412.4 406.1,418.7 414.8,425.4 414.8,432.4 419.8,439.9 412.3,452.4 404.8,446.1 396.1,446.1 394.8,459.9 402.3,464.9 401.8,473.6 389.8,482.3 383.6,484.8 377.3,491.1 378.6,507.3 379.8,516.1 373.6,512.8 369.9,499.8 366.1,493.6 359.9,492.3 358.6,499.8 349.9,503.6 343.6,498.6 346.1,489.8 349.9,484.8 351.1,476.1 354.9,469.9 357.4,459.9 359.9,453.6 361.1,447.4 367.4,442.4 373.6,433.7 369.9,427.4 362.4,424.9 359.9,419.9" fill="#e9d5ca" stroke="#fff" stroke-width="1" stroke-opacity=".8" stroke-linejoin="round"/>
<polygon points="271.2,540.0 287.8,539.0 296.1,537.9 308.6,541.0 319.0,546.2 326.2,547.3 323.1,552.5 312.7,553.5 310.6,559.7 300.3,561.8 295.1,568.1 293.0,576.4 293.0,588.8 286.8,592.0 279.5,586.8 273.2,593.0 269.1,586.8 262.9,584.7 261.8,576.4 266.0,563.9 264.9,553.5" fill="#e9d5ca" stroke="#fff" stroke-width="1" stroke-opacity=".8" stroke-linejoin="round"/>
<polygon points="185.1,619.7 190.3,612.4 187.1,607.2 185.1,601.0 192.3,596.8 201.7,592.7 212.1,590.6 218.3,588.5 217.3,578.1 224.5,580.2 233.9,580.2 237.0,574.0 240.0,570.1 246.2,563.9 252.5,557.7 259.7,555.6 263.9,563.9 261.8,576.4 266.0,578.4 260.8,582.6 260.8,593.0 259.7,601.3 263.9,607.5 261.8,615.8 253.6,615.5 250.5,621.8 252.6,630.1 249.5,638.4 245.3,638.4 245.3,648.8 248.6,654.5 250.6,660.8 249.6,667.0 254.8,669.1 260.0,668.1 262.1,671.2 269.4,667.0 274.5,666.0 277.7,671.2 279.7,674.3 282.9,679.5 283.9,684.7 280.8,686.8 278.7,690.9 282.9,695.1 286.0,692.0 289.1,687.8 296.4,684.7 304.7,684.7 308.8,681.6 315.1,680.5 321.3,676.4 325.5,673.2 328.6,674.3 329.6,681.6 328.6,689.9 325.5,698.2 321.3,706.5 317.1,716.9 316.1,727.3 317.1,737.7 318.8,746.0 318.2,753.2 309.9,753.2 304.7,757.4 299.5,764.7 297.4,771.9 300.5,776.1 306.8,778.2 299.5,776.7 292.2,779.2 283.9,783.4 279.7,786.5 276.6,794.8 271.4,801.0 265.2,804.8 261.0,805.6 256.9,802.1 253.8,795.8 254.8,787.5 256.9,779.2 257.9,770.9 255.8,764.7 255.8,756.4 252.7,753.2 247.5,748.1 245.5,739.7 244.4,732.5 240.3,730.4 236.1,726.2 231.9,723.1 235.1,719.0 229.9,715.8 223.6,712.7 216.4,708.6 211.2,702.3 207.0,697.1 200.8,693.0 197.7,684.7 194.5,673.2 190.3,663.7 187.1,652.9 181.9,642.5 185.1,636.3 185.7,628.0" fill="#e9d5ca" stroke="#fff" stroke-width="1" stroke-opacity=".8" stroke-linejoin="round"/>
<polygon points="429.6,404.5 435.5,399.4 440.6,401.1 447.3,398.6 454.1,396.9 460.0,391.8 465.9,394.4 470.1,397.7 474.4,401.1 476.0,409.5 482.8,416.3 481.1,420.5 474.4,423.1 471.0,426.4 465.1,424.7 460.8,427.3 455.8,423.1 449.0,421.4 442.3,419.7 440.6,412.9 431.3,411.2" fill="#e9d5ca" stroke="#fff" stroke-width="1" stroke-opacity=".8" stroke-linejoin="round"/>
<polygon points="443.1,443.3 446.4,441.1 461.9,442.2 464.1,448.9 465.2,453.3 464.1,462.1 456.4,463.2 446.4,461.0 442.0,462.1 443.1,453.3" fill="#e9d5ca" stroke="#fff" stroke-width="1" stroke-opacity=".8" stroke-linejoin="round"/>
<polygon points="468.5,438.5 475.3,440.3 475.3,443.8 478.8,447.3 481.7,450.3 484.6,453.8 485.2,457.3 482.9,458.4 478.2,454.9 473.5,452.6 468.5,450.0" fill="#e9d5ca" stroke="#fff" stroke-width="1" stroke-opacity=".8" stroke-linejoin="round"/>
<polygon points="435.5,369.0 440.6,368.2 446.5,372.4 449.0,374.9 444.0,376.6 439.7,379.2 434.7,378.3" fill="#e9d5ca" stroke="#fff" stroke-width="1" stroke-opacity=".8" stroke-linejoin="round"/>
<polygon points="455.8,374.1 460.8,372.4 464.2,376.6 459.2,378.3" fill="#e9d5ca" stroke="#fff" stroke-width="1" stroke-opacity=".8" stroke-linejoin="round"/>
<polygon points="483.6,375.8 492.9,374.9 498.0,378.3 494.6,382.5 487.0,383.4 482.8,380.8" fill="#e9d5ca" stroke="#fff" stroke-width="1" stroke-opacity=".8" stroke-linejoin="round"/>
<polygon points="261.1,274.7 275.0,274.7 275.0,283.5 262.0,283.5" fill="#e9d5ca" stroke="#fff" stroke-width="1" stroke-opacity=".8" stroke-linejoin="round"/>
<polygon points="495.1,416.9 500.4,412.9 505.1,406.4 508.6,402.3 510.9,399.0 511.5,407.0 509.7,412.9 510.9,421.0 507.4,423.4 501.6,422.2 496.9,420.5" fill="#e9d5ca" stroke="#fff" stroke-width="1" stroke-opacity=".8" stroke-linejoin="round"/>
<polygon points="521.4,440.9 528.4,438.6 529.6,433.9 533.1,435.1 533.7,442.1 534.3,446.8 531.9,451.4 528.4,449.1 524.9,448.5 521.4,446.8" fill="#e9d5ca" stroke="#fff" stroke-width="1" stroke-opacity=".8" stroke-linejoin="round"/>
<polygon points="510.3,446.8 515.6,446.2 520.3,447.9 519.1,450.3 516.2,452.0 514.4,455.5 511.5,452.6" fill="#e9d5ca" stroke="#fff" stroke-width="1" stroke-opacity=".8" stroke-linejoin="round"/>
<polygon points="193.6,202.9 198.6,200.7 210.0,207.1 212.9,210.0 207.1,210.0 207.1,221.4 192.9,221.4 191.4,217.1 192.9,211.4 191.4,207.1" fill="#e9d5ca" stroke="#fff" stroke-width="1" stroke-opacity=".8" stroke-linejoin="round"/>
<polygon points="211.9,226.4 232.9,226.1 232.9,232.8 229.2,234.6 221.0,233.7 211.9,235.5" fill="#e9d5ca" stroke="#fff" stroke-width="1" stroke-opacity=".8" stroke-linejoin="round"/>
<polygon points="228.3,240.1 233.8,241.0 239.2,237.4 243.8,236.4 245.6,240.1 242.0,244.6 239.2,249.2 233.8,248.3 231.0,247.4 229.2,255.6 225.6,255.6 227.4,248.3 229.2,244.6" fill="#e9d5ca" stroke="#fff" stroke-width="1" stroke-opacity=".8" stroke-linejoin="round"/>
<polygon points="270.0,226.0 275.0,229.0 275.0,238.0 280.0,244.0 280.0,253.0 275.0,249.0 271.0,243.0 266.0,241.0" fill="#e9d5ca" stroke="#fff" stroke-width="1" stroke-opacity=".8" stroke-linejoin="round"/>
<polygon points="146.0,513.7 161.2,512.7 165.3,516.8 168.4,522.0 171.6,530.3 167.4,534.5 154.9,536.6 147.0,535.0 146.0,524.1" fill="#e9d5ca" stroke="#fff" stroke-width="1" stroke-opacity=".8" stroke-linejoin="round"/>
<polygon points="170.5,564.6 177.8,561.5 190.3,562.5 196.5,567.7 198.6,575.0 192.3,578.1 186.1,582.3 181.9,586.4 174.7,584.4 171.6,576.0" fill="#e9d5ca" stroke="#fff" stroke-width="1" stroke-opacity=".8" stroke-linejoin="round"/>
<polygon points="168.0,489.5 173.0,488.8 177.0,492.0 177.0,497.0 172.0,499.8 167.0,498.0 166.2,494.0" fill="#e9d5ca" stroke="#fff" stroke-width="1" stroke-opacity=".8" stroke-linejoin="round"/>
<polygon points="218.4,716.9 226.8,720.0 229.9,727.3 224.7,729.4 220.5,723.1" fill="#e9d5ca" stroke="#fff" stroke-width="1" stroke-opacity=".8" stroke-linejoin="round"/>
<polygon points="233.0,755.3 242.3,753.2 246.5,760.5 244.4,773.0 238.2,773.0 234.4,764.7" fill="#e9d5ca" stroke="#fff" stroke-width="1" stroke-opacity=".8" stroke-linejoin="round"/>
<polygon points="245.5,787.5 251.7,786.5 253.8,795.8 250.6,797.9 246.5,793.8" fill="#e9d5ca" stroke="#fff" stroke-width="1" stroke-opacity=".8" stroke-linejoin="round"/>
<polygon points="261.2,432.3 272.4,426.1 284.9,422.3 291.1,429.8 287.4,437.3 274.9,441.1 263.7,439.8 259.9,436.1" fill="#dcdcdc" stroke="#fff" stroke-width="1" stroke-opacity=".8" stroke-linejoin="round"/>
<polygon points="306.1,446.1 314.9,441.1 326.1,443.6 322.3,454.8 329.8,458.5 341.1,456.0 344.8,462.3 338.6,469.8 334.8,478.5 324.9,474.8 314.9,472.3 304.9,471.0 306.1,459.8" fill="#dcdcdc" stroke="#fff" stroke-width="1" stroke-opacity=".8" stroke-linejoin="round"/>
<polygon points="167.4,414.9 174.9,412.4 183.6,414.9 189.9,419.9 193.6,427.3 191.1,434.8 186.1,436.1 179.9,429.8 173.6,422.3 168.6,418.6" fill="#dcdcdc" stroke="#fff" stroke-width="1" stroke-opacity=".8" stroke-linejoin="round"/>
<polygon points="265.2,696.1 271.4,695.1 279.7,698.2 286.0,702.3 288.1,707.5 281.8,706.5 277.7,702.3 271.4,702.3 266.2,702.3" fill="#dcdcdc" stroke="#fff" stroke-width="1" stroke-opacity=".8" stroke-linejoin="round"/>
<polygon points="262.1,671.2 269.4,667.0 274.5,666.0 277.7,671.2 282.9,679.5 283.9,684.7 280.8,686.8 278.7,690.9 271.4,691.9 272.5,684.7 270.4,681.6 263.1,677.4" fill="#dcdcdc" stroke="#fff" stroke-width="1" stroke-opacity=".8" stroke-linejoin="round"/>
<polygon points="213.2,700.3 219.5,695.1 224.7,696.1 226.8,702.3 231.9,710.6 230.9,715.8 223.6,712.7 216.4,708.6" fill="#dcdcdc" stroke="#fff" stroke-width="1" stroke-opacity=".8" stroke-linejoin="round"/>
<polygon points="254.8,795.8 259.0,797.0 263.1,800.0 262.0,805.6 257.0,803.0" fill="#dcdcdc" stroke="#fff" stroke-width="1" stroke-opacity=".8" stroke-linejoin="round"/>
<polygon points="284.8,377.4 279.9,387.4 281.1,397.4 283.6,403.7 289.8,404.9 296.1,406.2 297.3,398.7 294.8,392.4 291.1,384.9 289.8,377.4" fill="#dcdcdc" stroke="#fff" stroke-width="1" stroke-opacity=".8" stroke-linejoin="round"/>
<polygon points="213.2,440.6 216.4,437.5 221.6,438.0 225.7,440.6 227.8,444.7 230.9,446.8 228.8,451.0 223.6,453.1 218.4,454.1 216.4,451.0 219.5,447.3 215.3,445.3" fill="#cf9a82" stroke="#fdeee6" stroke-width="1"/>
<polygon points="215.3,455.1 223.6,454.1 228.8,452.5 230.9,455.1 227.8,459.3 228.8,468.6 228.8,473.8 225.7,475.9 225.7,478.5 216.4,478.5 214.3,473.8 209.1,472.3 209.6,466.6 213.2,461.4" fill="#cf9a82" stroke="#fdeee6" stroke-width="1"/>
<polygon points="230.9,458.2 236.6,455.1 240.3,454.1 245.5,456.2 246.5,463.4 253.8,466.0 252.7,469.7 247.5,472.8 244.4,474.9 229.9,474.4 230.9,468.6" fill="#cf9a82" stroke="#fdeee6" stroke-width="1"/>
<polygon points="190.4,464.0 200.8,462.9 211.2,461.4 213.2,461.4 209.6,466.6 209.1,472.3 214.3,473.8 216.4,478.5 210.1,478.5 204.9,476.9 198.7,473.3 193.5,472.3 190.9,469.7" fill="#cf9a82" stroke="#fdeee6" stroke-width="1"/>
<polygon points="225.7,475.9 229.9,474.4 244.4,474.9 242.3,481.1 239.2,485.3 231.9,486.8 229.4,484.2 229.4,480.1" fill="#cf9a82" stroke="#fdeee6" stroke-width="1"/>
<polygon points="260.0,683.6 267.3,683.2 268.3,689.9 266.2,694.4 262.1,691.9 259.6,688.8" fill="#cf9a82" stroke="#fdeee6" stroke-width="1"/>
<polygon points="267.3,714.8 277.7,713.8 281.8,716.9 287.0,715.8 292.2,722.1 291.2,725.2 286.0,726.2 283.9,722.1 277.7,722.1 271.4,724.2 268.3,722.1" fill="#cf9a82" stroke="#fdeee6" stroke-width="1"/>
<polygon points="116.2,396.0 116.8,404.5 116.2,412.3 111.6,414.9 109.7,417.5 110.3,420.7 114.2,419.4 120.7,422.7 124.0,426.6 124.6,434.4 116.8,434.4 107.7,435.0 99.9,436.3 95.7,437.1 92.9,439.3 91.4,442.1 87.1,448.6 78.6,451.4 71.4,452.9 65.7,455.7 62.1,451.4 59.3,455.7 62.9,462.9 68.6,469.3 75.0,476.4 81.4,484.3 88.6,490.0 95.7,494.3 103.6,496.4 111.4,494.3 120.0,490.7 128.6,486.4 134.3,481.4 137.1,475.0 137.1,467.9 138.6,462.1 140.7,458.6 141.4,455.7 144.3,459.3 143.6,465.0 145.0,472.1 147.1,477.9 146.4,483.6 149.3,489.3 151.4,496.4 152.3,495.5 157.7,498.2 165.0,497.3 165.9,492.8 162.3,490.9 159.6,486.4 165.0,478.2 166.8,476.4 166.4,471.8 164.1,467.7 167.8,465.5 171.4,465.9 176.1,465.2 181.6,464.1 180.5,457.5 181.6,451.9 184.9,448.6 188.9,443.1 184.9,435.3 178.3,429.8 171.7,425.4 168.3,419.8 163.9,414.3 162.8,408.8 158.4,404.3 152.8,403.2 142.9,400.0 134.0,396.6 125.2,396.0" fill="#9c3703"/>
<polygon points="164.1,467.7 167.8,465.5 171.4,465.9 175.0,467.3 175.9,470.9 174.1,476.4 171.4,477.3 166.8,476.4 166.4,471.8" fill="#b8694a" stroke="#fbd3b4" stroke-width="1"/>
<polygon points="159.6,486.4 165.0,480.9 171.4,479.1 177.3,479.6 176.4,482.8 171.4,486.4 168.7,489.1 165.9,492.8 162.3,490.9" fill="#b8694a" stroke="#fbd3b4" stroke-width="1"/>
<polygon points="151.4,496.4 157.7,498.7 165.0,499.6 166.8,501.0 165.0,508.2 160.5,512.8 155.0,511.9 149.6,509.1 150.5,502.8" fill="#b8694a" stroke="#fbd3b4" stroke-width="1"/>
<polygon points="175.0,474.6 187.3,474.6 187.3,478.2 176.0,478.8" fill="#938583"/>
<polygon points="149.6,507.0 158.0,508.5 164.0,506.0 164.1,509.1 160.5,512.8 155.0,511.9 149.6,509.1" fill="#938583"/>
<path d="M204.9 591.7 L199.9 588.1 M204.9 591.7 L203.7 595.2 L203.8 598.7 L204.0 602.2 L205.2 605.7 M188.0 599.9 L190.5 604.4 L193.3 608.8 M188.0 599.9 L191.5 597.6 L193.2 593.6 L195.7 590.4 L199.3 588.3 M205.2 605.7 L201.2 606.5 L197.0 606.6 L193.3 608.8 M199.3 588.3 L199.9 588.1 M736.3 304.4 L735.7 304.3 L731.7 303.0 M728.7 314.5 L726.4 312.0 M731.7 303.0 L729.5 307.7 L726.4 312.0 M731.7 303.0 L731.6 302.6 M731.7 299.2 L731.6 302.6 M221.9 570.5 L220.6 566.9 L220.4 563.1 L220.7 559.2 L218.5 555.7 L218.6 551.8 M221.9 570.5 L218.0 571.3 L214.1 571.2 L210.1 569.3 L206.2 569.5 L202.3 570.6 M200.4 568.6 L202.3 570.6 M200.4 568.6 L199.9 565.0 L199.3 561.4 L199.7 557.8 L199.9 554.2 L198.5 550.7 L199.3 547.1 M218.6 551.8 L214.6 551.4 L211.0 549.5 L207.2 548.2 L202.9 549.2 L199.4 547.1 M199.4 547.1 L199.3 547.1 M140.3 318.8 L143.8 317.0 L147.2 315.3 L151.2 314.4 L154.2 311.8 L157.8 310.5 L160.6 307.4 L164.3 306.2 M140.3 318.8 L139.8 314.9 L138.5 311.2 L137.2 307.5 L138.9 303.3 L138.4 299.5 L136.7 295.9 M164.3 306.2 L164.5 301.9 L164.9 297.6 M164.9 297.6 L161.2 295.3 L158.5 291.8 L155.7 288.5 L151.6 286.8 M136.7 295.9 L139.8 292.6 L144.0 291.0 L147.5 288.5 L151.6 286.8 M205.3 703.3 L207.7 702.3 L212.9 702.3 M203.4 688.8 L200.5 692.3 M203.4 688.8 L207.7 689.7 L211.9 688.3 M215.2 695.1 L213.1 698.5 L212.9 702.3 M215.2 695.1 L213.2 689.2 M211.9 688.3 L213.2 689.2 M248.2 796.0 L254.0 794.5 M258.0 804.4 L258.3 803.9 L261.2 801.1 M254.0 794.5 L258.0 797.3 L261.2 801.1 M261.2 801.1 L264.3 801.5 M264.3 801.5 L266.5 804.2 M212.9 702.3 L215.7 706.3 L217.7 710.7 M217.7 710.7 L215.2 713.7 L211.7 715.3 L211.3 715.4 M178.8 614.6 L178.2 610.8 L176.5 607.4 L174.5 604.2 M178.8 614.6 L183.0 613.5 L187.2 613.4 L191.5 613.7 M188.0 599.9 L183.3 600.2 L178.9 598.7 M191.5 613.7 L193.3 608.8 M178.9 598.7 L177.4 602.0 L174.5 604.2 M215.2 695.1 L219.5 696.9 L224.0 697.5 L228.5 697.8 M228.5 697.8 L230.2 702.0 M217.7 710.7 L221.1 712.1 M221.1 712.1 L224.4 709.1 L228.5 707.3 M228.5 707.3 L230.2 702.0 M242.9 788.6 L243.8 786.2 L243.0 782.7 M243.0 782.7 L238.5 779.5 M238.1 777.7 L238.9 775.0 L238.3 770.9 M234.7 767.2 L234.9 767.0 M234.9 767.0 L238.3 770.9 M236.5 713.7 L232.2 710.8 L228.5 707.3 M236.5 713.7 L239.2 711.2 L242.5 709.8 M230.2 702.0 L234.4 702.2 L238.6 702.2 L242.8 701.6 M242.5 709.8 L243.1 705.7 L242.8 701.6 M136.7 295.9 L136.5 295.6 M151.6 286.8 L152.9 283.0 L151.9 280.1 M152.5 541.9 L151.9 538.8 L153.8 535.5 L154.1 532.0 L153.8 528.3 L154.7 524.9 M154.1 548.1 L154.3 548.2 L157.2 551.5 M157.2 551.5 L160.6 550.4 L163.8 548.7 L167.3 548.0 L170.9 547.5 L174.1 545.8 L177.5 544.9 L180.8 543.5 M154.7 524.9 L158.5 524.3 L162.1 526.0 L165.8 525.9 L169.4 527.4 L173.3 526.0 L176.9 527.2 M176.9 527.2 L179.1 530.9 L179.5 535.2 L180.6 539.2 L180.8 543.5 M152.8 522.2 L148.8 522.2 L147.7 522.5 M152.8 522.2 L154.7 524.9 M166.6 501.6 L168.6 502.2 L173.2 503.2 L177.0 505.8 M177.0 505.8 L178.2 510.4 L179.6 514.8 L182.6 518.6 M182.6 518.6 L179.7 522.8 L176.9 527.2 M152.8 522.2 L153.1 517.9 L152.2 513.8 L151.0 509.8 M304.6 674.7 L302.5 672.1 M304.6 674.7 L301.5 677.3 L299.9 681.2 L297.2 684.2 L294.0 686.6 L290.6 688.9 L288.8 692.6 M283.7 691.2 L281.5 687.9 L279.7 684.4 L276.6 681.9 M283.7 691.2 L288.3 692.7 M288.8 692.6 L288.3 692.7 M302.5 672.1 L298.9 670.8 L295.2 670.3 L291.3 670.2 L287.9 668.5 L284.0 668.6 L280.7 666.5 M280.7 666.5 L277.3 672.3 M276.6 681.9 L276.8 677.1 L277.3 672.3 M273.1 637.4 L269.2 638.6 L265.3 637.2 M273.1 637.4 L275.1 641.0 L275.8 645.2 L278.3 648.5 L280.4 652.0 M265.3 637.2 L263.1 640.6 L259.4 642.6 L256.3 645.2 L254.6 648.9 M280.4 652.0 L280.1 655.7 L278.0 658.7 M278.0 658.7 L274.4 659.5 L271.0 657.6 L267.3 658.8 L263.8 657.4 M254.6 648.9 L257.7 651.7 L261.5 653.8 L263.8 657.4 M252.5 623.0 L248.2 622.9 L244.3 624.3 L240.4 626.0 L236.3 626.7 M252.5 623.0 L251.8 626.9 L250.4 630.5 L250.0 634.5 L249.0 638.3 L246.6 641.6 M236.3 626.7 L236.8 630.3 L237.0 633.8 L237.1 637.4 M246.6 641.6 L241.4 640.5 L237.1 637.4 M282.3 623.4 L279.3 620.9 L277.7 617.2 L274.9 614.5 L272.1 611.9 L269.8 608.8 M282.3 623.4 L280.6 627.3 L277.5 630.2 L274.8 633.5 L273.1 637.4 M253.3 622.4 L254.4 618.9 M253.3 622.4 L256.3 624.8 L258.7 627.9 L260.0 631.7 L263.0 634.2 L265.3 637.2 M254.4 618.9 L257.7 617.2 L260.2 614.4 L264.3 613.9 L266.6 610.7 L269.8 608.8 M229.8 642.2 L233.3 639.6 L237.1 637.4 M229.8 642.2 L227.1 639.7 L223.9 637.6 L222.3 634.1 L219.9 631.3 M236.3 626.7 L235.5 626.3 M235.5 626.3 L231.9 628.7 L227.9 629.4 L223.4 628.9 L219.9 631.3 M282.3 623.4 L285.9 622.5 L289.4 622.7 L292.8 624.2 M280.4 652.0 L283.4 650.1 L286.8 648.8 L290.1 647.6 L293.5 646.5 L296.3 644.1 L300.4 644.6 L303.2 642.1 M292.8 624.2 L295.6 627.4 L296.1 631.8 L298.9 635.0 L302.0 638.0 L303.2 642.1 M302.5 672.1 L302.7 668.5 L303.9 664.9 L303.1 661.2 L304.6 657.7 L303.9 653.9 L303.7 650.2 L304.0 646.6 L305.3 643.1 M280.7 666.5 L279.8 662.4 L278.0 658.7 M303.2 642.1 L305.3 643.1 M207.9 527.6 L206.7 523.2 M207.9 527.6 L211.4 530.0 L215.5 530.9 L219.8 531.2 L223.4 533.6 M206.7 523.2 L209.2 520.7 L211.7 518.2 L214.3 515.8 L217.6 514.1 L220.0 511.4 L222.1 508.5 M223.4 533.6 L226.5 530.3 L231.3 529.0 L234.2 525.4 M234.2 525.4 L232.9 521.3 L230.7 517.6 L228.8 513.8 L227.5 509.7 M227.5 509.7 L222.1 508.5 M199.4 547.1 L199.8 543.4 L201.3 540.2 L204.2 537.6 L204.9 534.0 L205.8 530.5 L207.9 527.6 M199.3 547.1 L195.3 546.1 L191.1 545.6 L186.9 545.3 L182.8 545.0 M182.8 545.0 L180.8 543.5 M182.6 518.6 L186.3 519.2 L189.8 518.4 L193.2 516.4 L196.8 517.0 M196.8 517.0 L200.6 518.3 L202.7 522.2 L206.7 523.2 M225.9 545.7 L221.5 547.8 L218.6 551.8 M225.9 545.7 L224.7 541.7 L224.8 537.5 L223.4 533.6 M205.8 394.2 L204.8 390.7 L202.9 387.5 M205.8 394.2 L204.8 400.3 M204.8 400.3 L201.2 403.1 L198.7 406.8 M182.8 390.0 L186.7 388.7 L190.8 388.8 L194.8 387.8 L198.8 387.0 L202.9 387.5 M182.8 390.0 L182.9 394.5 L184.8 398.5 L185.5 402.9 L187.8 406.7 M187.8 406.7 L191.4 407.7 L195.1 405.9 L198.7 406.8 M422.6 453.4 L421.2 449.1 L419.9 444.7 L417.7 440.7 M422.6 453.4 L419.2 455.0 L416.0 457.3 L412.1 457.7 M403.9 451.9 L408.5 454.2 L412.1 457.7 M403.9 451.9 L405.0 448.4 L405.3 444.7 L408.0 441.7 L408.0 437.9 M408.0 437.9 L412.9 439.2 L417.7 440.7 M267.8 686.6 L269.2 686.1 L272.4 683.0 L276.6 681.9 M263.3 683.4 L263.2 683.2 L259.8 680.0 L256.4 676.7 M277.3 672.3 L273.7 671.5 L270.4 673.4 L266.8 673.4 L263.4 673.8 L259.8 673.6 L256.3 673.7 M256.4 676.7 L256.3 673.7 M253.3 622.4 L252.5 623.0 M254.6 648.9 L251.6 648.9 M246.6 641.6 L249.1 647.2 M251.6 648.9 L249.1 647.2 M203.4 688.8 L201.7 685.4 L198.7 683.0 L197.1 680.8 M211.9 688.3 L212.3 684.3 L210.3 680.5 L211.5 676.6 M211.5 676.6 L208.2 675.2 L205.1 673.5 L201.2 673.8 L198.3 671.6 M196.7 679.3 L198.2 676.0 L198.3 671.6 M211.5 676.6 L215.2 674.7 L217.3 671.1 M217.3 671.1 L216.7 666.7 L212.9 663.7 L212.1 659.4 M198.3 671.6 L197.8 670.2 M197.8 670.2 L200.3 666.4 L202.5 662.5 L204.4 658.3 M204.4 658.3 L208.4 657.9 L212.1 659.4 M188.1 628.2 L189.8 632.9 L192.2 637.2 M188.1 628.2 L191.7 624.8 L194.3 620.5 M192.2 637.2 L196.1 636.7 L199.4 634.9 L202.6 632.8 M202.6 632.8 L201.4 629.4 L202.6 625.7 L201.5 622.3 M194.3 620.5 L197.9 621.3 L201.5 622.3 M175.0 623.9 L176.3 626.5 M175.0 623.9 L177.7 619.6 L178.8 614.6 M191.5 613.7 L193.3 616.9 L194.3 620.5 M176.3 626.5 L180.1 627.9 L184.3 626.7 L188.1 628.2 M211.7 637.8 L207.8 634.2 L202.6 632.8 M211.7 637.8 L211.7 638.4 M191.9 638.5 L192.2 637.2 M191.9 638.5 L194.6 641.1 L196.5 644.4 L199.7 646.4 L201.8 649.5 M201.8 649.5 L203.9 646.4 L206.1 643.4 L210.1 642.0 L211.7 638.4 M205.4 620.2 L209.5 621.2 L213.0 624.0 L217.2 624.4 M205.4 620.2 L201.5 622.3 M211.7 637.8 L215.8 634.9 L218.9 631.0 M217.2 624.4 L218.9 631.0 M205.2 605.7 L207.3 607.7 M207.3 607.7 L206.3 611.8 L206.5 616.1 L205.4 620.2 M163.3 601.3 L163.3 601.0 L163.2 601.0 M165.5 605.3 L169.5 605.5 L174.5 604.2 M178.9 598.7 L178.7 594.4 L176.1 590.8 L176.0 586.6 M162.1 589.2 L164.4 589.9 L167.9 587.1 L172.0 586.9 L176.0 586.6 M157.2 551.5 L157.0 555.5 L157.3 559.4 L159.7 563.2 L158.9 567.3 M158.9 567.3 L156.9 569.3 M175.0 623.9 L173.6 623.6 M149.6 509.0 L148.2 508.8 M149.7 505.9 L149.8 507.6 M221.1 712.1 L222.8 715.3 L223.0 718.9 L223.8 722.3 M236.5 713.7 L236.9 717.2 L235.2 720.7 L236.1 724.2 M236.1 724.2 L231.8 724.7 L228.0 722.0 L223.8 722.3 M247.7 755.5 L248.2 751.5 L250.1 747.8 L249.1 743.6 L250.0 739.7 M247.7 755.5 L243.7 755.9 L239.8 755.3 M249.2 739.0 L250.0 739.7 M249.2 739.0 L245.4 738.5 L242.1 740.9 L238.7 742.4 L234.9 742.0 M239.8 755.3 L239.3 751.7 L236.1 749.1 L236.8 745.1 L234.9 742.0 M288.8 692.6 L291.8 695.8 L295.8 697.7 L299.1 700.5 M288.3 692.7 L288.3 696.7 L285.7 700.1 L285.9 704.1 L284.6 707.8 L284.3 711.7 M284.3 711.7 L287.9 709.8 L292.2 710.6 L295.9 709.1 M295.9 709.1 L298.5 705.2 L299.1 700.5 M304.6 674.7 L305.9 675.3 M305.9 675.3 L306.3 678.8 L307.1 682.2 L305.8 685.8 L305.6 689.3 L306.4 692.8 L308.2 696.2 L307.3 699.8 M299.1 700.5 L303.3 701.1 L307.3 699.8 M323.5 694.0 L323.9 690.2 L322.1 686.8 L321.0 683.2 L319.9 679.6 L320.3 675.8 M323.5 694.0 L320.1 696.4 L316.1 697.5 L312.2 698.8 L308.4 700.5 M305.9 675.3 L309.6 674.5 L313.1 675.7 L316.7 676.4 L320.3 675.8 M307.3 699.8 L308.4 700.5 M295.9 709.1 L298.9 713.2 L302.3 717.0 M309.7 704.6 L308.4 708.5 L307.2 712.5 L304.9 716.0 M309.7 704.6 L308.4 700.5 M304.9 716.0 L302.3 717.0 M283.7 691.2 L280.4 692.9 L277.6 695.3 L274.8 697.5 L272.5 700.5 M272.5 700.5 L270.3 696.8 L266.0 695.1 L265.1 693.8 M284.3 711.7 L282.9 713.1 M279.8 712.8 L282.9 713.1 M279.8 712.8 L276.0 709.3 L271.9 706.3 M272.5 700.5 L271.9 706.3 M513.8 436.9 L516.2 434.3 L519.3 432.3 L520.5 428.8 L523.0 426.3 M513.8 436.9 L517.5 438.3 L520.3 440.9 L524.0 442.2 L526.8 445.0 M533.4 434.3 L531.2 431.6 M529.3 429.4 L528.3 428.2 L525.1 425.7 M533.4 434.3 L532.0 438.0 L531.0 441.8 L528.3 444.9 M526.8 445.0 L528.3 444.9 M523.0 426.3 L525.1 425.7 M512.9 437.1 L509.0 433.9 M512.9 437.1 L511.3 441.8 L508.6 446.0 M509.0 433.9 L504.9 434.4 L500.7 433.2 L496.5 434.4 M508.6 446.0 L505.4 447.9 L501.7 448.1 M501.7 448.1 L497.7 445.5 L493.6 443.0 M496.5 434.4 L494.5 438.5 L493.6 443.0 M513.4 454.6 L519.7 455.6 M513.4 454.6 L510.2 450.8 L508.6 446.0 M519.7 455.6 L521.0 451.4 L524.7 448.7 L526.8 445.0 M513.8 436.9 L512.9 437.1 M461.5 501.0 L458.5 504.5 L456.6 508.6 L454.8 512.8 M461.5 501.0 L466.0 501.5 L470.5 502.7 L475.1 502.8 M454.8 512.8 L458.4 514.4 L461.6 516.8 L465.7 517.5 L465.9 517.7 M475.1 502.8 L475.5 506.5 L474.8 510.1 L474.9 512.4 M497.5 458.7 L491.5 459.4 M497.5 458.7 L498.3 454.9 L499.8 451.5 L501.7 448.1 M491.5 459.4 L487.1 456.9 L484.2 452.7 M493.6 443.0 L487.9 444.6 M484.2 452.7 L487.0 449.1 L487.9 444.6 M490.7 426.2 L488.1 430.0 L484.8 433.0 L480.8 435.4 M490.7 426.2 L494.2 429.9 L496.5 434.4 M487.9 444.6 L486.0 441.2 L482.9 438.6 L480.8 435.4 M447.4 512.1 L451.6 513.9 M447.4 512.1 L445.8 508.5 L443.7 505.2 L443.0 501.2 L439.9 498.4 L439.0 494.5 M451.6 513.9 L454.8 512.8 M461.5 501.0 L458.4 494.7 M458.4 494.7 L454.5 493.9 L450.6 494.8 L446.8 494.8 L442.9 494.7 L439.0 494.5 M451.6 513.9 L452.0 518.2 L449.8 522.2 L449.4 526.4 L449.4 526.7 M410.7 563.0 L410.6 561.5 L407.6 557.9 M423.1 552.0 L420.7 551.3 M420.7 551.3 L417.4 552.9 L414.0 554.4 L411.3 557.1 L407.6 557.9 M342.6 246.2 L341.6 243.5 M342.6 246.2 L344.0 247.2 M298.0 221.5 L299.1 224.3 M298.0 221.5 L300.3 218.4 L301.6 215.2 M313.2 226.8 L309.5 227.3 L306.3 224.4 L302.6 225.1 L299.1 224.3 M313.2 226.8 L313.4 226.0 M682.5 352.5 L683.9 350.1 M682.5 352.5 L678.9 351.2 L675.6 349.3 M686.2 342.1 L682.1 339.7 M682.1 339.7 L677.6 340.8 L674.1 344.0 M675.6 349.3 L674.1 344.0 M675.6 349.3 L672.6 353.1 L669.1 356.4 M674.1 344.0 L670.3 342.1 M670.3 342.1 L665.5 344.5 M669.1 356.4 L664.9 353.3 M664.9 353.3 L664.8 348.9 L665.5 344.5 M101.4 496.0 L101.3 496.1 M122.2 490.0 L122.1 489.9 M99.7 495.6 L99.9 495.9 M239.7 605.4 L239.7 601.5 L241.9 597.9 L241.7 593.9 M239.7 605.4 L235.7 606.3 L233.0 609.3 L229.8 611.4 M229.8 611.4 L223.5 611.1 M241.7 593.9 L239.8 590.8 L235.6 590.1 L234.6 585.9 L231.4 584.3 L228.6 582.1 M221.1 608.7 L223.5 611.1 M221.1 608.7 L220.5 605.0 L220.5 601.2 L221.8 597.4 L219.3 593.7 L220.2 589.9 M228.6 582.1 L225.6 584.5 L222.7 587.0 L220.2 589.9 M254.4 618.9 L251.0 616.7 L248.1 613.9 L245.3 611.1 L241.9 608.9 L239.7 605.4 M269.8 608.8 L269.9 607.9 M269.9 607.9 L266.9 605.0 L265.2 601.3 L263.8 597.4 L262.0 593.8 L259.9 590.3 M257.9 589.6 L259.9 590.3 M257.9 589.6 L254.1 591.6 L250.1 592.9 L245.7 592.5 L241.7 593.9 M235.5 626.3 L234.3 622.5 L233.6 618.4 L232.3 614.7 L229.8 611.4 M217.2 624.4 L218.5 621.0 L220.2 617.7 L221.1 614.1 L223.5 611.1 M218.9 631.0 L219.9 631.3 M207.3 607.7 L212.0 607.1 L216.4 609.4 L221.1 608.7 M204.9 591.7 L208.8 592.3 L212.5 590.5 L216.4 590.8 L220.2 589.9 M228.3 575.0 L225.5 572.2 L221.9 570.5 M228.3 575.0 L228.7 578.6 L228.6 582.1 M199.9 588.1 L199.6 584.5 L201.8 581.2 L200.1 577.4 L202.3 574.2 L202.3 570.6 M384.5 579.5 L387.7 576.3 L391.6 574.1 L395.4 571.8 M384.5 579.5 L384.1 584.3 L381.9 588.4 M395.4 571.8 L398.8 573.5 M396.7 557.9 L395.6 562.5 L394.8 567.1 L395.4 571.8 M396.7 557.9 L392.8 556.7 L388.7 557.8 L384.7 557.7 L380.8 556.9 M380.8 556.9 L379.6 561.3 L377.1 565.1 M377.1 565.1 L378.3 569.0 L380.0 572.7 L383.2 575.6 L384.5 579.5 M396.7 557.9 L399.7 555.5 M399.7 555.5 L404.0 555.6 L407.6 557.9 M225.9 545.7 L229.9 547.9 L234.1 548.8 L238.3 550.0 L242.8 549.9 M228.3 575.0 L231.4 573.3 L233.9 570.8 L237.0 569.1 L240.2 567.5 L242.4 564.5 M242.4 564.5 L243.5 560.9 L243.8 557.2 L242.3 553.5 L242.8 549.9 M257.9 589.6 L257.4 586.1 L255.3 583.1 L255.2 579.5 L254.4 576.1 L253.3 572.7 L252.5 569.3 M242.4 564.5 L245.3 567.1 L249.0 567.9 L252.5 569.3 M275.0 578.8 L274.1 574.5 L270.6 571.4 L269.0 567.4 L267.8 563.3 M275.0 578.8 L272.5 581.8 L269.3 583.8 L265.2 584.8 L262.7 587.8 L259.9 590.3 M252.5 569.3 L256.3 567.7 L260.3 566.6 L263.7 564.1 L267.8 563.3 M287.1 581.0 L289.1 577.3 L291.4 573.8 L293.0 570.0 M287.1 581.0 L288.4 585.0 L291.3 588.5 L292.0 592.8 M293.0 570.0 L296.7 569.5 L300.2 571.4 L303.9 570.3 L307.5 571.3 L311.0 572.8 L314.7 571.8 L318.3 572.6 M292.0 592.8 L293.8 593.7 M293.8 593.7 L297.0 591.5 L301.0 592.2 L304.2 590.3 L307.7 589.0 L311.6 589.4 L314.9 587.9 M318.3 572.6 L317.6 576.4 L315.5 580.0 L316.3 584.2 L314.9 587.9 M275.0 578.8 L279.0 579.8 L283.3 579.1 L287.1 581.0 M272.3 552.9 L269.7 555.9 L270.4 560.3 L267.8 563.3 M272.3 552.9 L276.4 552.3 L280.6 554.1 L284.8 552.8 L288.9 553.2 M288.9 553.2 L289.5 553.6 M289.5 553.6 L290.4 557.7 L290.4 562.0 L293.3 565.6 L293.0 570.0 M269.9 607.9 L272.7 605.3 L276.3 603.7 L279.7 601.9 L281.9 598.4 L286.0 597.5 L288.5 594.4 L292.0 592.8 M292.8 624.2 L294.6 619.8 L298.1 616.8 L301.1 613.2 M301.1 613.2 L300.3 609.1 L298.1 605.4 L297.6 601.2 L295.4 597.6 L293.8 593.7 M301.1 613.2 L304.9 614.1 L308.7 614.1 L312.4 612.7 L316.2 613.3 L320.0 611.8 L323.8 612.7 M323.8 612.7 L325.2 607.6 L325.4 602.4 M325.4 602.4 L323.3 599.5 L320.9 596.8 L319.9 593.1 L316.6 591.1 L314.9 587.9 M378.9 590.4 L378.7 591.5 M378.9 590.4 L374.0 589.1 L369.0 589.0 M369.0 589.0 L366.4 591.4 L362.6 592.3 L359.9 594.5 L357.9 597.8 L354.7 599.4 M354.7 599.4 L355.5 602.9 L356.1 606.4 L356.2 607.0 M381.1 589.0 L378.9 590.4 M333.0 619.8 L330.8 616.9 L327.4 615.9 L324.5 613.9 M324.5 613.9 L323.9 617.8 L320.4 620.5 L320.1 624.4 L319.2 628.1 L317.6 631.6 L315.0 634.6 L313.7 638.1 L313.1 641.9 M313.1 641.9 L316.6 642.9 L319.0 645.9 L322.9 646.2 L324.1 646.9 M342.4 592.5 L339.1 594.7 L336.0 597.2 L332.8 599.4 L328.5 599.9 L325.4 602.4 M342.4 592.5 L345.3 594.4 L349.0 595.2 L352.1 596.9 L354.7 599.4 M323.8 612.7 L324.5 613.9 M346.7 617.6 L344.6 618.3 L340.6 619.1 L340.5 619.1 M305.3 643.1 L309.3 643.1 L313.1 641.9 M320.3 675.8 L324.3 672.5 L327.3 670.9 M420.3 485.8 L416.6 486.3 L413.5 488.4 M420.3 485.8 L424.1 487.7 L427.5 490.0 L429.8 493.7 L433.1 496.2 M413.5 488.4 L414.2 493.0 L413.4 497.6 L413.0 502.2 M433.1 496.2 L430.6 499.5 L428.4 503.0 L425.2 505.6 M413.0 502.2 L416.4 505.1 L420.5 506.9 M425.2 505.6 L420.5 506.9 M406.6 484.6 L410.2 486.1 L413.5 488.4 M406.6 484.6 L407.2 480.9 L407.7 477.2 L407.0 473.3 L408.1 469.7 M423.4 476.2 L420.0 473.9 L416.1 472.8 L412.1 471.8 L409.1 468.8 M423.4 476.2 L422.4 481.1 L420.3 485.8 M408.1 469.7 L409.1 468.8 M447.4 512.1 L443.8 514.8 L439.2 515.1 L435.4 517.3 M438.9 494.4 L439.0 494.5 M438.9 494.4 L433.1 496.2 M435.4 517.3 L433.3 514.0 L430.4 511.4 L428.3 508.0 L425.2 505.6 M255.7 454.1 L253.1 450.9 L252.5 447.0 L250.4 443.6 L250.1 439.6 L248.6 436.0 M255.7 454.1 L260.0 453.7 L264.0 451.7 L268.3 451.3 M268.3 451.3 L267.9 447.3 L270.5 443.8 L270.3 439.8 L271.5 436.0 M271.5 436.0 L267.2 435.1 L263.4 432.5 L259.0 431.9 M259.0 431.9 L255.7 433.6 L252.3 435.2 L248.6 436.0 M259.8 414.6 L256.2 414.2 L253.2 412.4 M259.8 414.6 L259.8 418.9 L258.3 423.2 L258.4 427.5 L259.0 431.9 M253.2 412.4 L249.5 415.1 L246.0 417.9 L243.0 421.5 M248.6 436.0 L247.8 435.8 M247.8 435.8 L246.0 432.4 L245.4 428.6 L243.3 425.3 L243.0 421.5 M385.9 539.0 L384.6 535.7 L381.8 533.2 L380.8 529.8 M385.9 539.0 L383.2 541.4 L380.7 544.1 L378.9 547.3 L377.1 550.5 M377.1 550.5 L373.2 547.6 L368.3 547.0 M368.3 547.0 L367.3 542.9 L366.9 538.8 L367.9 534.6 L367.5 530.4 M380.8 529.8 L376.4 531.2 L371.9 530.1 L367.5 530.4 M423.4 453.9 L427.3 454.4 L431.0 456.0 L434.9 456.9 L439.0 456.5 L442.9 456.8 M423.4 453.9 L424.0 458.0 L426.5 461.3 L427.2 465.3 L429.8 468.6 L430.6 472.6 M430.6 472.6 L432.1 473.0 M432.1 473.0 L434.8 470.7 L438.3 469.6 L440.6 466.6 L444.1 465.6 L447.2 463.9 M447.2 463.9 L446.1 459.7 L442.9 456.8 M423.4 476.2 L426.8 473.9 L430.6 472.6 M409.1 468.8 L411.0 465.4 L409.9 461.1 L412.1 457.7 M422.9 453.5 L423.4 453.9 M422.9 453.5 L422.6 453.4 M440.0 487.5 L438.5 490.8 L438.9 494.4 M440.0 487.5 L437.9 483.9 L435.7 480.4 L433.3 477.0 L432.1 473.0 M448.8 464.4 L451.6 468.1 L453.5 472.1 L454.3 476.7 M448.8 464.4 L447.2 463.9 M454.3 476.7 L451.0 478.2 L448.0 480.3 L445.7 483.1 L443.1 485.6 L440.0 487.5 M341.5 471.3 L338.7 473.6 L335.1 474.9 L332.4 477.2 L330.1 480.2 L327.2 482.3 M341.5 471.3 L345.1 471.8 M340.2 492.1 L337.2 489.4 L334.2 486.6 L330.4 484.8 L327.2 482.3 M340.2 492.1 L345.0 487.5 M345.1 471.8 L346.2 475.7 L343.8 479.6 L343.9 483.6 L345.0 487.5 M198.3 355.8 L203.6 353.0 M198.3 355.8 L194.4 354.6 L191.3 352.2 L188.0 350.0 L185.1 347.3 L182.0 344.9 M203.6 353.0 L205.8 349.5 L206.9 345.5 L207.6 341.4 L210.2 338.1 M182.0 344.9 L180.8 341.5 M180.8 341.5 L183.4 338.9 L186.9 337.4 L189.1 334.3 L192.4 332.5 L195.4 330.3 L197.4 327.1 M210.2 338.1 L207.5 334.8 L203.2 333.3 L201.0 329.4 L197.4 327.1 M164.9 297.6 L167.5 294.7 L171.6 293.8 L174.1 290.8 L176.9 288.2 M159.6 271.3 L161.5 271.2 L165.4 270.6 L169.2 269.4 M176.9 288.2 L177.3 284.3 L176.7 280.2 L177.4 276.3 M169.2 269.4 L171.3 272.4 L174.9 273.7 L177.4 276.3 M177.0 505.8 L178.7 502.6 L180.8 499.7 L184.5 498.0 L186.1 494.7 L187.9 491.6 M196.8 517.0 L196.8 513.3 L198.0 509.8 L197.6 505.9 L200.4 502.7 L200.0 498.9 M187.9 491.6 L191.2 493.0 L193.9 495.4 L197.1 496.9 L200.0 498.9 M214.0 493.6 L213.6 493.4 M214.0 493.6 L217.6 492.4 L220.2 489.7 L223.6 488.1 L226.4 485.7 L229.7 484.5 M229.1 479.8 L229.0 480.2 L229.4 482.1 M230.4 471.5 L228.8 469.2 M207.0 477.6 L207.2 480.5 L208.6 483.8 L209.9 487.2 L213.1 489.8 L213.6 493.4 M214.0 493.6 L216.7 497.0 L218.8 500.7 L220.0 504.8 L222.1 508.5 M200.0 498.9 L203.0 496.6 L206.6 495.7 L209.9 494.3 L213.6 493.4 M166.8 397.8 L170.1 395.7 L172.4 392.8 L173.9 389.2 L176.9 386.8 M166.8 397.8 L162.5 398.1 L158.6 395.6 L154.3 396.2 M154.3 396.2 L150.6 395.2 L149.1 391.1 L145.5 389.9 M145.5 389.9 L147.9 387.2 L149.6 384.2 L150.7 380.8 L152.5 377.7 L152.5 373.8 L154.5 370.9 L156.8 368.1 M176.9 386.8 L176.3 382.9 L176.6 378.9 L174.7 375.3 M174.7 375.3 L172.0 371.8 L168.3 369.3 M168.3 369.3 L164.4 369.3 L160.6 369.2 L156.8 368.1 M182.8 390.0 L176.9 386.8 M197.5 368.5 L200.0 371.6 L203.3 373.9 L204.9 377.7 M197.5 368.5 L193.6 369.1 L190.1 371.5 L185.8 370.9 L182.1 372.3 L178.9 375.4 L174.7 375.3 M202.9 387.5 L204.8 382.8 L204.9 377.7 M198.3 355.8 L197.1 360.0 L197.7 364.3 L197.5 368.5 M182.0 344.9 L180.2 348.5 L177.3 351.4 L176.9 355.8 L174.8 359.2 L172.9 362.7 L169.7 365.4 L168.3 369.3 M140.3 318.8 L138.7 322.5 M164.3 306.2 L167.3 309.4 L170.6 312.2 L174.3 314.4 M174.3 314.4 L174.5 318.0 L173.9 321.5 L171.9 324.7 L173.6 328.5 L170.5 331.6 L171.3 335.3 M171.3 335.3 L167.5 335.1 L163.7 335.0 L160.0 335.4 L156.5 337.2 L152.6 336.0 L149.0 337.7 M138.7 322.5 L140.1 326.0 L143.7 328.0 L144.2 332.1 L147.7 334.2 L149.0 337.7 M171.3 335.3 L174.3 337.5 L177.5 339.6 L180.8 341.5 M156.8 368.1 L155.0 365.0 L153.1 361.9 L149.4 360.3 L147.8 357.0 L146.8 355.9 M146.8 355.9 L146.8 355.9 M145.6 354.6 L145.4 354.3 M149.0 337.7 L148.1 341.9 L147.6 346.1 L147.2 350.4 L145.4 354.3 M255.3 671.7 L255.3 672.2 M255.3 671.7 L252.6 668.1 L249.8 664.6 L247.0 661.3 M255.3 672.2 L251.3 673.7 L246.9 673.4 L243.1 675.9 L238.7 675.6 M247.0 661.3 L242.6 663.3 L237.9 663.9 M238.7 675.6 L238.5 671.7 L238.5 667.8 L237.9 663.9 M263.8 657.4 L262.1 661.2 L260.4 665.0 L256.5 667.6 L255.3 671.7 M256.3 673.7 L255.3 672.2 M251.6 648.9 L249.4 652.8 L248.0 657.0 L247.0 661.3 M229.3 662.1 L234.3 661.3 M229.3 662.1 L225.7 659.9 L222.3 657.4 L219.6 654.2 M234.3 661.3 L236.0 656.5 L235.9 651.5 M235.9 651.5 L232.6 648.6 L229.3 645.7 M229.3 645.7 L226.9 648.5 L223.4 649.7 L220.4 651.5 M220.4 651.5 L219.6 654.2 M223.1 672.2 L225.8 669.2 L227.5 665.6 L229.3 662.1 M223.1 672.2 L217.3 671.1 M212.1 659.4 L216.4 657.6 L219.6 654.2 M249.1 647.2 L244.4 647.7 L240.4 650.5 L235.9 651.5 M237.9 663.9 L234.3 661.3 M229.8 642.2 L229.3 645.7 M211.7 638.4 L213.5 641.9 L216.4 644.7 L217.6 648.7 L220.4 651.5 M201.6 653.6 L204.4 658.3 M201.6 653.6 L201.8 649.5 M191.9 638.5 L188.9 641.8 L184.2 642.8 L182.9 644.3 M201.6 653.6 L198.1 653.9 L194.5 652.8 L191.0 653.2 L187.5 653.9 L187.2 653.9 M176.3 626.5 L174.9 628.4 M243.0 782.7 L246.9 782.4 L250.2 780.1 L254.1 780.0 M254.0 794.5 L255.5 790.4 L256.7 786.3 M254.1 780.0 L256.7 786.3 M234.9 767.0 L235.5 763.3 L234.9 759.6 M238.3 770.9 L242.1 770.1 L245.6 768.2 L249.6 768.5 M247.7 755.5 L248.6 756.2 M234.9 759.6 L239.8 755.3 M249.6 768.5 L249.9 764.3 L248.2 760.3 L248.6 756.2 M254.1 780.0 L256.2 773.5 M249.6 768.5 L253.1 770.7 L256.2 773.5 M181.7 582.3 L182.9 578.4 L183.1 574.2 L184.4 570.4 M181.7 582.3 L176.1 586.4 M176.1 586.4 L174.6 582.9 L171.1 580.8 L168.6 578.1 L167.8 574.1 L164.7 571.7 L163.1 568.3 M163.1 568.3 L167.0 566.5 L171.2 566.7 L175.4 566.9 L179.2 565.0 M184.4 570.4 L182.6 566.9 L179.2 565.0 M199.3 588.3 L195.3 588.3 L192.6 584.9 L189.0 583.7 L185.6 582.2 L181.7 582.3 M200.4 568.6 L196.4 569.4 L192.5 570.6 L188.4 569.9 L184.4 570.4 M176.0 586.6 L176.1 586.4 M158.9 567.3 L163.1 568.3 M182.8 545.0 L182.5 549.1 L182.1 553.1 L180.0 556.9 L180.0 561.0 L179.2 565.0 M249.2 739.0 L248.6 734.5 M236.3 724.4 L236.5 728.8 L233.2 732.3 L232.4 736.4 L232.2 740.6 M236.3 724.4 L238.4 724.6 M234.9 742.0 L232.2 740.6 M238.4 724.6 L240.5 727.6 L242.7 730.4 L245.8 732.3 L248.6 734.5 M223.8 722.3 L222.7 723.7 M218.4 725.7 L219.4 725.4 L222.7 723.7 M282.9 713.1 L284.6 716.3 M302.3 717.0 L299.4 722.0 M290.6 720.1 L292.7 719.7 L295.9 721.3 L299.4 722.0 M537.0 451.4 L534.5 448.7 L530.4 448.1 L528.3 444.9 M533.4 434.3 L534.8 434.5 M512.0 415.9 L514.8 413.1 L517.0 409.7 L519.9 406.9 M512.0 415.9 L508.8 416.5 M503.5 400.4 L501.0 403.1 M503.5 400.4 L507.5 401.2 L511.5 401.3 L515.5 401.2 L519.5 401.7 M519.6 401.7 L519.9 406.9 M501.0 403.1 L503.5 406.1 L505.3 409.6 L505.9 413.7 L508.8 416.5 M490.9 424.3 L490.7 426.2 M490.9 424.3 L494.8 421.0 M509.0 433.9 L507.3 429.7 L505.3 425.5 L505.1 420.7 M494.8 421.0 L499.9 420.2 L505.1 420.7 M512.0 415.9 L514.2 419.1 L516.9 421.7 L520.8 423.1 L523.0 426.3 M508.8 416.5 L505.1 420.7 M669.0 392.9 L668.0 392.5 M668.0 392.5 L666.7 396.2 L665.3 399.9 L664.5 403.1 M666.0 389.0 L668.0 392.5 M666.0 389.0 L666.4 384.3 M666.4 384.3 L670.1 384.6 L672.1 384.9 M624.7 448.5 L621.2 450.3 M624.7 448.5 L628.5 451.9 L633.5 452.9 M626.7 462.5 L629.2 457.8 L633.4 454.4 M626.7 462.5 L626.2 462.4 M624.5 462.1 L623.2 461.8 M633.5 452.9 L633.4 454.4 M627.2 463.2 L626.7 462.5 M633.4 454.4 L636.0 456.1 M537.2 452.3 L537.2 452.4 M537.2 452.3 L535.1 455.4 L534.1 458.9 M534.1 458.9 L535.8 463.8 L538.1 466.7 M537.1 452.1 L537.2 452.3 M519.7 455.6 L521.5 459.5 L524.5 462.5 M524.5 462.5 L529.6 461.6 L534.1 458.9 M475.1 502.8 L475.3 502.6 M475.3 502.6 L479.5 501.3 L483.7 500.6 M524.5 462.5 L524.2 463.4 M538.0 471.5 L538.2 470.7 M538.0 471.5 L532.9 472.4 L528.3 475.0 M524.2 463.4 L525.1 467.5 L526.7 471.2 L528.3 475.0 M538.6 472.1 L538.0 471.5 M528.3 475.0 L528.2 475.1 M422.9 453.5 L425.5 450.8 L428.4 448.3 L429.6 444.4 L432.9 442.3 M444.7 442.1 L443.7 441.5 M444.7 442.1 L443.6 445.7 L443.4 449.5 L444.1 453.3 L442.9 456.8 M432.9 442.3 L436.4 441.5 L440.2 442.9 L443.7 441.5 M471.3 461.2 L467.3 460.9 L464.4 457.5 L460.4 457.2 M471.3 461.2 L475.0 458.3 L477.2 454.2 M460.4 457.2 L458.6 452.6 L459.4 447.6 M477.2 454.2 L475.7 449.9 L472.7 446.3 L471.3 442.0 M459.4 447.6 L463.1 445.1 L467.7 444.7 L471.3 442.0 M448.8 464.4 L453.2 462.9 L456.5 459.6 L460.4 457.2 M444.7 442.1 L448.8 441.4 L452.9 441.1 M459.4 447.6 L455.3 445.2 L452.9 441.1 M471.3 461.2 L471.5 465.6 L473.4 469.5 M454.3 476.7 L457.2 478.1 M473.4 469.5 L470.2 471.3 L466.6 472.3 L464.0 475.3 L460.7 476.9 L457.2 478.1 M475.3 502.6 L475.2 498.6 L476.1 494.7 L475.6 490.7 L475.5 486.7 M458.4 494.7 L460.9 491.2 L461.1 486.9 M475.5 486.7 L471.9 486.6 L468.3 485.9 L464.7 488.0 L461.1 486.9 M461.1 486.9 L459.0 482.6 L457.2 478.1 M434.1 521.7 L430.4 522.4 L427.2 524.8 L423.3 525.1 L420.5 528.3 L416.5 528.4 M434.1 521.7 L437.5 524.3 L437.6 529.1 L440.0 532.4 L440.8 533.0 M416.5 528.4 L420.3 530.1 L424.0 532.0 L426.4 536.0 L431.1 536.3 L433.6 539.3 M435.4 517.3 L434.1 521.7 M394.7 540.3 L394.9 536.4 L398.1 533.5 L398.7 529.7 M394.7 540.3 L398.0 542.9 L399.6 546.8 M399.6 546.8 L403.3 544.6 L407.3 542.7 L410.5 539.7 L414.2 537.3 M398.7 529.7 L402.6 530.0 L405.7 527.1 L409.3 526.0 L413.1 525.7 M414.2 537.3 L416.3 533.1 L416.5 528.4 M416.5 528.4 L414.6 526.1 M414.6 526.1 L413.1 525.7 M385.9 539.0 L390.3 539.9 L394.7 540.3 M380.8 529.8 L384.1 527.1 L384.8 522.6 L387.9 519.7 M387.9 519.7 L390.4 522.4 L393.4 524.6 L396.0 527.3 L398.7 529.7 M380.8 556.9 L379.6 553.3 L377.1 550.5 M399.7 555.5 L398.6 551.2 L399.6 546.8 M420.7 551.3 L420.3 547.3 L416.9 544.6 L416.9 540.3 L414.2 537.3 M399.0 511.2 L395.6 513.4 L391.3 513.7 L388.0 516.1 M399.0 511.2 L401.3 514.6 L405.5 516.1 L407.2 520.1 L410.9 522.2 L413.1 525.7 M387.9 519.7 L388.0 516.1 M416.5 528.4 L416.5 528.4 M420.5 506.9 L418.9 510.6 L417.8 514.4 L416.9 518.4 L416.8 522.6 L414.6 526.1 M402.3 504.1 L400.8 507.7 L399.0 511.2 M402.3 504.1 L406.0 503.9 L409.5 503.4 L413.0 502.2 M342.6 246.2 L340.4 249.4 L337.0 251.7 L335.2 255.5 L332.1 258.0 M325.2 244.1 L328.8 241.9 L333.2 242.2 L336.3 239.0 M325.2 244.1 L324.4 246.4 M324.4 246.4 L327.7 249.8 L330.5 253.5 L332.1 258.0 M325.2 244.1 L322.9 241.1 L322.8 237.2 L320.3 234.3 L319.6 230.6 M319.6 230.6 L322.3 229.0 M285.6 218.4 L289.9 218.6 L293.6 221.4 L298.0 221.5 M285.6 218.4 L285.3 217.9 M285.3 217.9 L284.6 211.3 M292.5 207.7 L291.4 209.0 L288.3 210.8 L284.6 211.3 M548.2 339.1 L551.8 339.9 M552.6 338.9 L551.8 339.9 M520.5 306.0 L520.0 309.5 M520.0 309.5 L523.0 312.6 L525.9 315.9 L530.0 317.6 M530.0 317.6 L531.7 317.3 M520.0 309.5 L515.6 312.0 M530.0 317.6 L531.2 321.7 L528.7 325.9 L530.0 330.0 M533.8 333.1 L532.8 332.3 L530.0 330.0 M731.6 302.6 L727.6 301.0 L724.9 297.3 M722.2 296.8 L720.5 296.4 L718.8 295.4 M651.3 296.7 L655.1 299.3 L657.6 303.1 M651.3 296.7 L653.1 292.8 L655.7 289.3 L657.8 285.6 M657.8 285.6 L661.7 287.4 L666.0 287.4 L669.7 289.4 L674.0 289.5 M674.0 289.5 L673.4 293.8 L671.6 297.8 L669.9 301.8 M669.9 301.8 L665.9 303.4 L661.7 302.4 L657.6 303.1 M728.7 328.1 L726.6 329.3 M694.1 334.5 L694.1 334.5 L696.1 331.2 M697.7 331.9 L696.1 331.2 M683.3 354.4 L682.5 352.5 M680.5 359.9 L678.4 360.9 M669.1 356.4 L670.0 359.0 M678.4 360.9 L674.5 358.8 L670.0 359.0 M665.9 383.3 L668.0 379.8 L668.6 375.6 L671.1 372.4 M665.9 383.3 L666.4 384.3 M671.1 372.4 L673.2 372.7 M678.4 360.9 L678.8 362.5 M670.0 359.0 L667.2 362.3 L666.0 366.5 M666.0 366.5 L668.0 370.0 L671.1 372.4 M666.0 389.0 L662.3 391.7 L658.3 394.0 L653.7 394.8 M664.2 403.8 L661.1 400.5 L656.3 399.2 L653.5 395.5 M653.7 394.8 L653.5 395.5 M665.9 383.3 L661.6 381.0 L657.0 379.3 M662.3 366.9 L660.7 370.9 L658.5 374.5 L656.2 378.1 M662.3 366.9 L666.0 366.5 M657.0 379.3 L656.2 378.1 M653.7 394.8 L651.4 389.7 M657.0 379.3 L655.3 382.8 L652.8 386.0 L651.4 389.7 M651.3 296.7 L648.5 296.5 M639.0 305.6 L642.9 303.2 L645.5 299.6 L648.5 296.5 M639.0 305.6 L639.5 309.6 L642.4 312.5 L643.6 316.2 M657.6 303.1 L657.3 307.0 L655.5 310.4 L654.2 314.0 M643.6 316.2 L647.0 314.6 L650.5 314.1 L654.2 314.0 M643.0 405.0 L644.5 402.3 M643.0 405.0 L644.7 409.3 L644.4 412.9 M655.9 410.4 L652.9 407.7 L650.7 404.1 L647.2 401.9 M655.9 410.4 L654.2 414.2 L654.1 414.2 M647.2 401.9 L644.5 402.3 M661.0 409.8 L655.9 410.4 M653.5 395.5 L650.5 398.8 L647.2 401.9 M624.7 448.5 L624.3 444.7 L625.8 441.2 M625.8 441.2 L620.8 439.7 L617.1 437.5 M633.5 452.9 L633.6 452.8 M634.7 447.2 L633.5 449.0 L633.6 452.8 M635.3 441.5 L629.3 439.0 M625.8 441.2 L629.3 439.0 M626.9 302.3 L626.7 301.6 M626.9 302.3 L630.7 304.4 L635.1 304.0 L639.0 305.6 M648.5 296.5 L646.8 293.1 L644.1 290.6 L643.1 289.8 M656.3 283.6 L657.8 285.6 M246.9 545.3 L251.3 545.7 L255.2 544.2 L259.1 542.5 L263.3 541.8 M246.9 545.3 L245.1 541.8 L243.9 538.0 L241.2 534.8 L240.5 530.8 L239.3 527.0 M239.3 527.0 L242.1 523.8 L246.7 523.2 L248.9 519.0 L252.9 517.6 M252.9 517.6 L254.9 520.8 L259.2 521.1 L261.4 524.2 L264.9 525.5 L267.0 528.6 M267.0 528.6 L265.8 533.0 L264.7 537.5 L263.3 541.8 M242.8 549.9 L246.9 545.3 M272.3 552.9 L269.4 550.7 L267.3 547.8 L265.2 544.8 L263.3 541.8 M234.2 525.4 L239.3 527.0 M274.7 524.1 L278.5 525.2 L280.4 529.2 L284.4 529.9 L287.4 532.1 L290.4 534.3 M274.7 524.1 L270.8 526.2 L267.0 528.6 M288.9 553.2 L289.1 549.4 L290.6 545.8 L289.6 541.9 L288.9 538.0 L290.4 534.3 M289.5 553.6 L293.2 554.1 L296.3 551.2 L299.9 551.1 L303.6 551.6 L307.0 550.3 M321.7 568.9 L318.3 572.6 M321.7 568.9 L319.3 564.8 L319.3 560.1 M319.3 560.1 L316.1 557.9 L313.6 554.6 L309.6 553.3 L307.0 550.3 M326.6 569.5 L330.1 571.4 L332.9 574.1 L335.1 577.5 L338.3 579.8 L341.9 581.6 M326.6 569.5 L329.2 567.1 L332.0 565.0 L335.8 564.3 L338.7 562.3 L340.6 558.7 L344.3 557.8 L347.4 556.1 L350.1 553.8 M341.9 581.6 L345.1 579.3 L348.7 577.3 L351.5 574.4 L355.2 572.7 L358.2 570.1 M350.1 553.8 L352.9 555.4 M352.9 555.4 L353.2 559.3 L354.5 562.8 L356.9 565.9 L358.4 569.4 M358.2 570.1 L358.4 569.4 M342.4 592.5 L342.7 588.8 L341.2 585.2 L341.9 581.6 M321.7 568.9 L326.6 569.5 M369.0 589.0 L367.8 585.5 L365.0 582.9 L362.6 580.1 L361.4 576.6 L359.5 573.5 L358.2 570.1 M377.1 565.1 L373.3 565.9 L369.3 565.6 L365.6 566.7 L362.1 568.5 L358.4 569.4 M368.3 547.0 L365.3 548.9 L361.5 549.3 L359.6 553.0 L355.7 553.1 L352.9 555.4 M247.0 473.2 L249.2 474.4 L252.9 473.3 M231.4 486.3 L232.8 487.9 L235.9 491.1 L240.2 492.9 M252.9 473.3 L253.5 477.1 L252.2 480.7 L252.2 484.5 M252.2 484.5 L249.6 487.2 L245.8 488.2 L243.2 490.9 L240.2 492.9 M227.5 509.7 L230.4 507.6 L233.2 505.1 L237.3 504.9 L240.0 502.4 M252.9 517.6 L252.4 513.5 L251.9 509.3 M251.9 509.3 L248.5 506.1 L243.8 505.0 L240.0 502.4 M240.0 502.4 L240.0 497.6 L240.2 492.9 M274.7 524.1 L276.0 519.7 L279.2 516.3 L280.0 511.8 M251.9 509.3 L254.6 506.8 L256.9 503.7 L260.2 501.8 L263.4 499.9 M280.0 511.8 L276.4 509.8 L272.9 507.7 L269.4 505.5 L266.8 502.1 L263.4 499.9 M252.2 484.5 L255.8 486.3 L257.8 489.8 L260.2 492.9 L263.6 494.8 M263.4 499.9 L263.6 494.8 M215.0 444.7 L212.3 447.2 L211.6 451.9 M220.7 437.9 L221.0 437.8 L225.0 438.4 L228.9 437.5 M211.6 451.9 L215.4 453.2 L216.8 454.9 M228.9 437.5 L234.7 441.0 M234.7 441.0 L235.0 445.6 L234.1 450.2 L234.4 454.8 M234.4 454.8 L232.9 457.1 M230.9 458.6 L228.8 459.6 L228.0 461.2 M247.8 435.8 L244.0 435.9 L240.9 437.6 L237.9 439.5 L234.7 441.0 M229.0 423.5 L232.5 421.0 L236.2 419.0 M229.0 423.5 L227.9 427.0 L227.7 430.5 L228.1 434.0 L228.9 437.5 M236.2 419.0 L239.4 420.8 L243.0 421.5 M252.8 458.3 L255.7 454.1 M252.8 458.3 L249.3 456.5 L245.6 456.8 M235.9 455.5 L234.4 454.8 M252.8 458.3 L254.2 461.7 L252.3 465.3 L252.4 465.5 M253.4 467.4 L254.1 468.7 L253.8 472.3 M253.8 472.3 L252.9 473.3 M204.8 400.3 L207.2 403.0 L210.2 404.9 L212.5 407.7 L215.5 409.5 L218.5 411.5 M218.5 411.5 L217.9 418.1 M217.9 418.1 L212.5 422.6 M198.7 406.8 L198.7 410.5 L199.2 414.1 L200.9 417.5 M200.9 417.5 L204.7 419.4 L208.8 420.5 L212.5 422.6 M217.9 418.1 L222.1 418.9 L225.2 421.8 L229.0 423.5 M216.1 437.7 L214.5 435.4 L211.6 431.7 M212.5 422.6 L212.4 427.2 L211.6 431.7 M264.6 412.9 L259.8 414.6 M264.6 412.9 L267.9 414.4 L271.6 415.2 L274.2 418.1 M271.5 436.0 L272.3 435.6 M274.2 418.1 L274.9 421.7 L273.7 425.1 L271.9 428.4 L273.8 432.2 L272.3 435.6 M187.8 406.7 L183.8 410.2 M166.8 397.8 L168.5 401.6 L169.7 405.6 M183.8 410.2 L179.9 410.2 L176.9 407.2 L173.3 406.3 L169.7 405.6 M154.5 403.3 L153.9 400.0 L154.3 396.2 M169.7 405.6 L167.6 409.5 L167.1 414.0 L165.6 416.1 M345.1 471.8 L345.8 471.5 M345.0 487.5 L348.8 488.2 L352.7 487.1 L356.5 487.7 M356.5 487.7 L359.3 483.0 M359.3 483.0 L357.7 477.0 M345.8 471.5 L350.1 472.6 L353.8 475.1 L357.7 477.0 M388.0 516.1 L386.1 512.7 L381.8 511.9 L379.8 508.6 M367.5 530.4 L363.9 528.8 L361.9 525.4 M361.8 524.3 L361.9 525.4 M361.8 524.3 L363.2 520.8 L365.7 518.0 L366.7 514.3 L368.7 511.2 M379.8 508.6 L376.3 510.4 L372.6 511.2 L368.7 511.2 M347.6 504.3 L352.0 503.8 L356.3 502.7 L360.0 500.1 M347.6 504.3 L348.5 509.4 L348.1 514.5 M348.1 514.5 L350.8 518.0 L355.5 518.6 L358.8 521.2 L361.8 524.3 M368.7 511.2 L367.4 507.7 L365.3 505.0 L361.9 503.2 L360.0 500.1 M347.6 504.3 L344.3 501.2 L340.2 499.4 M340.2 492.1 L340.2 495.8 L340.2 499.4 M356.5 487.7 L357.3 491.7 L359.4 495.4 L360.2 499.4 M360.0 500.1 L360.2 499.4 M277.7 248.3 L271.8 249.6 M277.7 248.3 L279.3 244.1 L278.9 239.5 L279.9 235.2 M267.1 236.2 L266.2 239.8 L267.3 243.3 L268.0 246.7 M267.1 236.2 L271.2 234.5 L275.5 233.4 M271.8 249.6 L268.0 246.7 M275.5 233.4 L279.9 235.2 M259.9 233.3 L257.2 237.5 L254.1 241.4 M259.9 233.3 L263.9 233.8 L267.1 236.2 M254.1 241.4 L257.5 244.0 L259.4 247.9 M259.4 247.9 L263.8 247.9 L268.0 246.7 M260.0 261.3 L263.8 260.8 L267.7 260.6 M260.0 261.3 L257.6 255.7 M267.7 260.6 L270.3 257.4 L271.3 253.6 L271.8 249.6 M257.6 255.7 L259.1 251.9 L259.4 247.9 M285.6 218.4 L284.0 222.1 L283.7 225.9 L283.6 229.7 L284.3 233.6 M284.3 233.6 L279.9 235.2 M285.3 217.9 L281.7 218.3 L278.3 219.4 L275.1 220.7 L271.9 222.3 M271.9 222.3 L274.2 225.6 L274.2 229.7 L275.5 233.4 M146.1 482.5 L146.3 482.4 M211.6 451.9 L208.0 452.9 M211.6 431.7 L207.6 432.3 L203.7 433.8 L199.7 434.8 L195.6 435.0 M195.6 435.0 L196.4 438.7 L196.3 442.4 L196.9 446.1 M208.0 452.9 L204.0 451.1 L200.1 449.2 L196.9 446.1 M182.8 451.0 L184.4 453.3 M184.4 453.3 L181.0 455.9 M162.1 483.0 L162.7 483.2 M163.2 481.4 L163.5 482.4 M164.0 499.5 L163.6 497.7 M138.7 322.5 L134.9 322.3 L131.2 322.8 L127.5 323.8 M239.4 683.9 L237.2 687.5 M239.4 683.9 L238.9 680.1 L238.3 676.2 M238.3 676.2 L234.0 676.6 L229.7 676.9 L225.5 675.3 M231.9 689.7 L237.2 687.5 M231.9 689.7 L228.5 686.1 L224.0 684.1 M224.0 684.1 L226.0 679.9 L225.5 675.3 M256.4 676.7 L253.7 679.3 L251.2 682.0 L249.9 685.7 M238.7 675.6 L238.3 676.2 M249.9 685.7 L246.5 684.4 L243.0 683.8 L239.4 683.9 M223.1 672.2 L225.5 675.3 M228.5 697.8 L229.1 693.3 L231.9 689.7 M213.2 689.2 L217.2 688.3 L220.2 685.3 L224.0 684.1 M257.6 706.7 L257.6 702.3 L258.2 698.1 L259.4 693.9 M257.6 706.7 L254.0 705.5 L251.3 702.6 L247.3 702.3 L244.3 700.0 M244.3 700.0 L244.5 699.0 M244.5 699.0 L247.0 696.5 L249.1 693.6 L252.3 691.7 M259.4 693.9 L256.2 691.7 L252.3 691.7 M242.8 701.6 L244.3 700.0 M237.2 687.5 L238.6 692.0 L243.1 694.5 L244.5 699.0 M249.9 685.7 L252.3 691.7 M262.5 692.2 L259.4 693.9 M256.7 786.3 L261.2 787.2 L265.8 786.8 L270.3 787.7 M256.2 773.5 L262.2 770.9 M262.2 770.9 L266.2 773.2 L268.2 777.4 L271.6 780.2 M271.6 780.2 L271.4 784.0 L270.3 787.7 M264.3 801.5 L265.9 797.2 L269.9 794.3 L271.4 789.8 M271.4 789.8 L270.3 787.7 M262.2 770.9 L263.6 768.4 M248.6 756.2 L253.1 756.8 L257.5 755.7 L262.0 755.1 M263.6 768.4 L262.7 764.0 L261.9 759.6 L262.0 755.1 M271.6 780.2 L274.3 777.6 L278.5 777.9 L281.3 775.5 M281.3 775.5 L280.2 772.0 L279.8 768.2 L277.4 765.1 M263.6 768.4 L267.0 767.4 L270.3 765.8 L273.9 765.6 L277.4 765.1 M259.2 740.7 L254.6 740.5 L250.0 739.7 M259.2 740.7 L261.0 744.8 L262.5 749.0 L263.2 753.5 M263.2 753.5 L262.0 755.1 M316.2 726.2 L315.1 726.1 M318.1 714.9 L316.9 716.3 L313.6 719.3 M315.1 726.1 L313.6 719.3 M317.5 739.3 L317.0 739.2 M311.9 730.1 L314.7 734.5 L317.0 739.2 M311.9 730.1 L315.1 726.1 M319.6 711.0 L319.6 711.1 M319.6 711.0 L316.2 709.1 L312.9 706.9 L309.7 704.6 M304.9 716.0 L309.0 718.2 L313.6 719.3 M318.1 751.5 L316.6 752.0 L315.1 752.7 M307.0 747.9 L307.0 746.1 M307.0 747.9 L310.4 750.2 L312.3 752.8 M317.0 739.2 L314.3 742.4 L311.0 744.7 L307.0 746.1 M250.9 715.6 L255.7 713.8 L259.1 709.9 M250.9 715.6 L249.8 718.9 M249.8 718.9 L252.0 722.5 L254.0 726.1 M260.0 710.3 L259.1 709.9 M260.0 710.3 L262.2 713.9 L263.9 717.8 L264.6 722.1 L266.7 725.9 M254.0 726.1 L257.9 725.7 L261.7 726.4 L265.5 727.3 M266.7 725.9 L265.5 727.3 M242.5 709.8 L246.1 713.6 L250.9 715.6 M257.6 706.7 L259.1 709.9 M236.1 724.2 L236.3 724.4 M238.4 724.6 L242.4 723.1 L245.6 719.9 L249.8 718.9 M248.6 734.5 L251.1 730.2 L254.0 726.1 M271.9 706.3 L268.3 708.7 L263.7 708.0 L260.0 710.3 M279.8 712.8 L278.3 714.3 M271.1 724.0 L269.0 725.4 M269.0 725.4 L266.7 725.9 M264.2 736.2 L265.7 731.8 L265.5 727.3 M264.2 736.2 L259.2 740.7 M264.2 736.2 L267.4 738.7 L271.6 739.3 L274.9 741.7 M263.2 753.5 L266.8 752.7 L270.5 751.9 L274.3 751.8 M274.9 741.7 L274.3 746.8 L274.3 751.8 M277.4 765.1 L279.9 761.3 L280.9 756.8 M274.3 751.8 L277.7 754.2 L280.9 756.8 M269.0 725.4 L271.9 727.5 L275.0 729.1 L278.4 730.2 M284.8 723.8 L284.6 726.7 M278.4 730.2 L281.3 728.2 L284.6 726.7 M274.9 741.7 L278.9 738.6 M278.4 730.2 L279.1 734.4 L278.9 738.6 M299.7 725.0 L296.9 727.4 L295.2 730.9 L291.8 732.7 M299.7 725.0 L303.8 727.2 L306.6 730.9 M306.6 730.9 L304.9 735.5 L303.1 739.9 M303.1 739.9 L299.2 740.7 L295.6 739.3 L291.9 738.7 M291.9 738.7 L291.8 732.7 M299.4 722.0 L299.7 725.0 M284.6 726.7 L288.1 729.8 L291.8 732.7 M311.9 730.1 L306.6 730.9 M307.0 746.1 L305.1 743.0 L303.1 739.9 M278.9 738.6 L282.3 740.5 L286.2 740.5 L289.9 741.0 M289.9 741.0 L291.9 738.7 M516.8 378.3 L520.7 378.2 L524.5 378.9 M516.8 378.3 L515.9 381.7 L513.8 384.8 L513.3 388.4 M513.3 388.4 L515.7 391.9 L515.9 392.0 M526.5 381.7 L524.5 378.9 M526.5 381.7 L525.9 383.2 M503.8 389.8 L503.6 393.3 L503.0 396.8 L503.5 400.4 M503.8 389.8 L508.4 388.3 L513.3 388.4 M528.9 381.8 L526.5 381.7 M525.1 425.7 L527.6 422.2 M519.9 406.9 L522.9 410.3 L526.8 412.5 M527.6 416.0 L526.8 412.5 M633.6 452.8 L636.4 453.1 M588.9 417.8 L590.4 419.1 M590.4 419.1 L590.3 423.0 L589.6 426.3 M595.6 409.7 L597.6 412.2 L598.5 416.0 M598.5 416.0 L598.4 416.0 M598.4 416.0 L594.7 418.4 L590.4 419.1 M595.1 430.5 L589.9 427.1 M595.1 430.5 L595.0 432.1 M513.6 469.0 L512.9 472.5 M513.6 469.0 L510.5 466.4 L507.6 463.6 M507.6 463.6 L504.0 464.0 M504.0 464.0 L502.3 467.7 L499.9 471.1 L499.0 474.8 M524.2 463.4 L520.5 465.0 L517.0 467.0 L513.6 469.0 M513.4 454.6 L512.3 458.2 L508.9 460.2 L507.6 463.6 M497.5 458.7 L501.2 460.7 L504.0 464.0 M417.7 440.7 L420.0 437.1 L421.6 433.2 L424.3 429.8 M432.9 442.3 L431.6 437.8 L429.4 433.8 L426.3 430.3 M424.3 429.8 L426.3 430.3 M477.2 454.2 L480.8 453.7 L484.2 452.7 M480.8 435.4 L479.7 435.3 M471.3 442.0 L471.6 441.0 M479.7 435.3 L475.3 437.7 L471.6 441.0 M490.9 424.3 L486.6 422.8 L483.2 420.0 L479.6 417.4 M479.6 417.4 L478.9 417.4 M478.9 417.4 L477.6 420.8 L476.6 424.3 L474.3 427.2 M479.7 435.3 L477.7 430.7 L474.3 427.2 M471.6 441.0 L469.2 438.1 L467.4 434.5 L463.1 433.3 L461.5 429.7 M474.3 427.2 L470.6 428.2 L466.8 427.5 L463.0 427.4 M463.0 427.4 L461.5 429.7 M452.9 441.1 L453.7 437.2 L456.7 434.6 L458.3 431.2 M458.3 431.2 L461.5 429.7 M478.9 417.4 L475.9 415.5 M463.0 427.4 L462.5 422.3 L462.8 417.1 M475.9 415.5 L471.6 416.4 L467.1 416.0 L462.8 417.1 M474.7 470.6 L474.5 474.4 L475.2 478.1 L476.6 481.7 L476.5 485.5 M474.7 470.6 L479.0 471.5 L483.2 469.7 L487.5 470.3 M476.5 485.5 L481.2 484.8 L485.0 485.7 M487.5 470.3 L489.5 474.3 L492.9 476.4 M473.4 469.5 L474.7 470.6 M475.5 486.7 L476.5 485.5 M491.5 459.4 L489.9 462.9 L489.1 466.7 L487.5 470.3 M188.5 233.9 L188.5 229.8 L187.2 227.4 M188.5 233.9 L192.9 231.0 L198.2 230.4 M191.9 221.0 L192.5 220.1 M192.5 220.1 L197.0 221.9 M198.2 230.4 L198.6 226.0 L197.0 221.9 M194.6 257.2 L200.0 253.3 M194.6 257.2 L191.4 254.9 L187.9 253.1 L183.9 252.2 L180.6 249.9 M200.0 253.3 L200.0 249.4 L199.0 245.8 L197.5 242.3 M197.5 242.3 L194.2 240.3 L191.2 237.7 L187.2 237.0 M180.6 249.9 L180.9 246.3 L182.2 243.1 L183.4 239.7 M187.2 237.0 L183.4 239.7 M169.2 269.4 L170.7 265.3 L172.6 261.4 L171.3 256.7 L173.5 252.9 M177.4 276.3 L181.6 275.6 L185.6 274.3 L189.2 271.6 L193.6 271.5 M173.5 252.9 L176.7 250.5 L180.6 249.9 M193.6 271.5 L193.5 267.9 L193.0 264.3 L195.5 260.9 L194.6 257.2 M188.5 233.9 L187.2 237.0 M198.2 230.4 L204.1 233.9 M204.1 233.9 L202.1 236.8 L200.1 239.8 L197.5 242.3 M179.1 236.7 L180.1 237.2 L183.4 239.7 M191.2 218.3 L192.5 220.1 M173.5 252.9 L172.0 251.1 M259.9 233.3 L259.7 232.2 M271.9 222.3 L267.3 219.8 M267.3 219.8 L265.8 223.1 L263.3 225.9 L261.1 228.8 L259.7 232.2 M332.1 258.0 L332.2 259.3 M332.2 259.3 L333.1 259.5 M319.6 230.6 L315.6 230.1 M315.6 230.1 L313.2 226.8 M626.9 302.3 L625.0 305.3 L624.2 308.9 L621.7 311.5 M613.4 309.6 L614.0 309.9 L617.8 311.2 L621.7 311.5 M635.1 322.7 L632.2 320.4 L629.2 318.5 L626.0 317.0 L622.5 316.0 M635.1 322.7 L640.8 321.0 M643.6 316.2 L640.8 321.0 M621.7 311.5 L622.5 316.0 M415.4 371.8 L416.7 368.2 L414.9 364.3 L416.4 360.8 M415.4 371.8 L411.4 373.0 M416.4 360.8 L412.3 361.3 L408.5 359.4 L404.5 358.9 M411.4 373.0 L408.5 370.9 L405.5 368.7 M404.5 358.9 L404.0 363.9 L405.5 368.7 M530.0 330.0 L526.1 329.5 L522.9 332.1 L519.2 332.2 M513.4 324.6 L515.4 326.1 L515.9 330.2 L519.2 332.2 M669.4 270.3 L670.1 270.5 M674.0 289.5 L677.4 286.6 M677.4 286.6 L677.6 286.0 M677.6 286.0 L676.5 281.5 L675.8 277.0 L674.8 274.5 M717.9 313.0 L716.1 308.8 L714.8 304.3 L711.9 300.6 M717.9 313.0 L715.5 316.6 L712.8 319.9 M712.8 319.9 L708.5 318.7 L704.3 317.0 L699.7 316.6 M711.9 300.6 L708.5 302.5 L704.7 301.9 M704.7 301.9 L703.2 305.7 L701.8 309.6 L698.8 312.6 M698.8 312.6 L699.7 316.6 M726.4 312.0 L722.3 313.7 L717.9 313.0 M715.6 295.1 L713.6 296.7 L711.9 300.6 M714.4 324.8 L712.8 319.9 M696.1 331.2 L693.4 325.4 M693.4 325.4 L694.9 322.0 L697.9 319.7 L699.7 316.6 M687.6 306.4 L691.1 308.8 L695.2 310.3 L698.8 312.6 M687.6 306.4 L688.2 301.5 L689.3 296.8 M689.3 296.8 L693.3 295.0 L697.7 294.4 M697.7 294.4 L701.3 298.1 L704.7 301.9 M669.7 331.3 L674.9 331.4 L679.6 329.1 M669.7 331.3 L666.2 328.4 L661.9 327.2 M661.9 327.2 L661.9 322.2 M661.9 322.2 L664.1 319.3 L667.5 317.8 L669.8 315.0 L672.4 312.5 L675.9 311.2 M679.6 329.1 L683.3 324.6 M683.3 324.6 L681.0 321.6 L679.8 318.1 L679.4 314.2 L676.6 311.5 M676.6 311.5 L675.9 311.2 M682.1 339.7 L681.1 336.2 L681.4 332.4 L679.6 329.1 M670.3 342.1 L669.7 338.5 L669.1 335.0 L669.7 331.3 M669.9 301.8 L670.8 305.6 L674.1 307.9 L675.9 311.2 M654.2 314.0 L655.8 317.6 L659.9 318.9 L661.9 322.2 M693.4 325.4 L688.4 324.2 L683.3 324.6 M687.6 306.4 L683.8 307.8 L680.1 309.4 L676.6 311.5 M689.3 296.8 L685.8 294.8 L683.8 291.2 L680.1 289.5 L677.4 286.6 M635.1 322.7 L634.1 326.5 L632.6 330.1 L631.3 333.8 M631.3 333.8 L626.1 333.0 L620.9 333.9 M622.5 316.0 L620.3 319.2 L618.4 322.5 L616.7 326.1 L613.9 328.8 M620.9 333.9 L617.3 331.5 L613.9 328.8 M640.8 321.0 L643.3 324.8 L646.6 327.9 L648.5 332.1 M661.9 327.2 L658.8 329.9 M648.5 332.1 L653.4 329.9 L658.8 329.9 M665.5 344.5 L659.9 342.3 M658.8 329.9 L657.9 334.1 L660.7 338.0 L659.9 342.3 M631.3 333.8 L634.9 339.1 M648.5 332.1 L646.6 336.1 M634.9 339.1 L639.0 339.0 L642.9 337.7 L646.6 336.1 M659.9 342.3 L654.8 345.5 M654.8 345.5 L648.9 342.5 M646.6 336.1 L648.9 342.5 M551.8 339.9 L552.8 341.7 M563.8 337.5 L564.0 337.9 L567.0 341.0 M567.0 341.0 L563.5 342.4 L559.8 340.1 L558.2 340.2 M555.7 340.5 L552.8 341.7 M535.7 334.7 L536.0 338.6 L534.5 342.4 M534.5 342.4 L537.4 346.7 L539.7 351.4 M539.7 351.4 L544.0 350.1 L547.7 347.4 L552.0 345.9 M552.0 345.9 L552.8 341.7 M598.4 416.0 L599.9 420.2 L603.5 422.7 M595.1 430.5 L598.8 430.5 L601.9 428.5 M603.5 422.7 L601.9 428.5 M603.3 429.9 L601.9 428.5 M638.8 396.4 L642.1 399.0 L644.5 402.3 M638.8 396.4 L634.2 396.4 L630.5 399.1 L626.1 400.1 M643.0 405.0 L640.1 407.6 L636.4 408.7 L632.7 409.4 M632.7 409.4 L631.0 406.1 L627.4 404.3 L625.9 400.9 M626.1 400.1 L625.9 400.9 M616.6 431.3 L618.4 428.3 M603.5 422.7 L607.1 421.2 M609.9 420.4 L611.8 419.9 M618.4 428.3 L616.8 425.0 L614.6 423.7 M612.1 420.4 L611.8 419.9 M348.1 514.5 L344.0 516.2 L340.2 518.2 L336.9 521.1 L333.5 523.8 M361.9 525.4 L359.2 527.7 L355.9 529.2 L353.9 532.5 L350.9 534.3 L347.6 535.9 M333.5 523.8 L337.1 525.4 L339.6 528.1 L341.4 531.7 L344.7 533.7 L347.6 535.9 M319.3 560.1 L320.2 556.6 L322.8 554.0 L324.1 550.7 L327.4 548.6 L328.6 545.2 M350.1 553.8 L348.5 550.4 L346.4 547.3 M328.6 545.2 L332.0 546.5 L335.7 546.3 L339.2 546.6 L342.9 546.4 L346.4 547.3 M346.4 547.3 L347.1 543.5 L346.2 539.6 L347.6 535.9 M253.2 412.4 L250.1 409.1 L249.9 404.2 L247.1 400.8 M236.2 419.0 L234.3 414.9 L234.3 410.5 L233.9 406.1 M247.1 400.8 L244.1 402.8 L240.9 404.3 L237.3 404.9 L233.9 406.1 M218.5 411.5 L222.1 409.3 L224.8 405.9 L228.4 403.7 M228.4 403.7 L233.9 406.1 M205.8 394.2 L209.7 394.4 L213.6 393.3 L217.5 394.2 L221.4 393.4 L225.3 393.7 M228.4 403.7 L226.7 400.6 L226.4 397.0 L225.3 393.7 M267.4 392.8 L270.9 390.2 L274.2 387.4 L278.0 385.3 L281.4 382.7 M267.4 392.8 L261.4 390.2 M261.4 390.2 L260.9 386.3 L258.5 383.1 L257.6 379.3 M275.9 372.1 L271.7 371.4 L267.4 372.1 L263.2 372.5 M275.9 372.1 L277.5 375.8 L279.1 379.4 L281.4 382.7 M263.2 372.5 L261.3 376.6 L257.6 379.3 M264.6 412.9 L267.0 409.6 L266.0 405.2 L268.3 401.9 L269.4 398.2 M269.4 398.2 L267.4 392.8 M247.1 400.8 L247.7 399.0 M247.7 399.0 L250.4 395.7 L255.2 395.6 L258.0 392.5 L261.4 390.2 M300.8 437.6 L300.5 434.1 L300.8 430.5 L302.4 427.2 L302.3 423.6 M300.8 437.6 L304.4 438.6 L306.8 441.6 L310.6 442.3 L313.4 444.8 M302.3 423.6 L305.9 424.1 L309.4 424.9 L313.0 425.2 L316.5 426.4 L319.5 429.1 L323.3 428.8 M313.4 444.8 L316.4 441.2 L319.9 438.2 L322.7 434.4 M322.7 434.4 L323.5 429.4 M323.5 429.4 L323.3 428.8 M380.6 384.0 L380.5 379.0 M380.6 384.0 L378.8 387.0 L376.5 389.7 L374.0 392.2 M380.5 379.0 L376.7 377.3 L373.0 375.7 L369.5 373.6 M369.5 373.6 L369.5 373.6 M369.5 373.6 L369.4 378.2 L370.0 382.9 L368.4 387.4 M368.4 387.4 L370.7 390.4 L374.0 392.2 M383.4 397.3 L386.4 394.2 L389.3 391.1 M383.4 397.3 L379.0 394.8 L374.1 393.2 M380.6 384.0 L384.0 385.8 L386.9 388.1 L389.3 391.1 M374.1 393.2 L374.0 392.2 M183.0 418.9 L178.3 420.9 L174.8 424.6 M183.0 418.9 L187.0 420.2 L190.2 422.8 L193.3 425.7 M174.8 424.6 L174.8 427.2 M185.6 436.1 L186.1 436.1 L189.9 434.3 L194.0 433.4 M194.0 433.4 L192.9 429.6 L193.3 425.7 M183.8 410.2 L183.1 414.5 L183.0 418.9 M170.1 422.3 L170.8 422.5 L174.8 424.6 M200.9 417.5 L197.8 419.7 L195.9 423.0 L193.3 425.7 M184.4 453.3 L184.7 453.3 M195.6 435.0 L194.0 433.4 M196.9 446.1 L193.2 446.9 L190.8 449.7 L187.9 451.7 L184.7 453.3 M367.3 467.0 L363.3 469.6 L360.7 473.4 L357.7 477.0 M367.3 467.0 L366.5 464.7 M366.5 464.7 L363.3 462.6 L360.0 460.7 M345.8 471.5 L347.0 466.7 L350.4 463.1 M350.4 463.1 L355.1 461.4 L360.0 460.7 M341.2 442.2 L345.2 445.2 L349.1 448.2 M341.2 442.2 L337.8 445.0 L333.5 446.2 M332.4 455.3 L331.7 450.6 L333.5 446.2 M332.4 455.3 L336.9 454.9 L341.5 454.2 L346.0 455.1 M346.0 455.1 L346.6 451.2 L349.1 448.2 M343.6 432.0 L342.0 437.0 L341.2 442.2 M343.6 432.0 L343.2 430.9 M322.7 434.4 L325.6 437.2 L328.0 440.4 L330.3 443.7 L333.5 446.2 M343.2 430.9 L339.2 430.9 L335.2 431.6 L331.3 430.5 L327.4 429.8 L323.5 429.4 M341.5 471.3 L337.9 468.7 L335.6 465.0 L332.2 462.3 L329.6 458.9 M329.6 458.9 L332.4 455.3 M350.4 463.1 L347.3 459.6 L346.0 455.1 M359.4 448.6 L356.4 445.7 M359.4 448.6 L363.2 448.5 L366.9 448.0 L370.7 447.7 M356.4 445.7 L357.1 438.8 M370.7 447.7 L371.8 443.0 L372.3 438.1 M372.3 438.1 L368.7 436.9 L365.5 434.4 L361.5 434.2 M357.1 438.8 L361.5 434.2 M360.0 460.7 L359.9 456.7 L359.6 452.6 L359.4 448.6 M349.1 448.2 L352.5 446.2 L356.4 445.7 M366.5 464.7 L369.6 462.5 L371.2 459.1 L373.9 456.6 L375.3 453.1 M375.3 453.1 L373.5 450.0 L370.7 447.7 M343.6 432.0 L347.4 432.8 L350.7 434.7 L353.5 437.6 L357.1 438.8 M331.0 410.7 L326.1 415.4 M331.0 410.7 L331.2 405.0 M326.1 415.4 L322.4 415.2 L319.5 412.9 L315.9 412.1 L313.0 409.8 L309.6 408.7 M331.2 405.0 L328.4 402.5 L325.6 400.0 L324.2 396.2 L321.1 393.9 M321.1 393.9 L316.6 394.8 L312.0 396.0 M309.6 408.7 L310.0 404.4 L312.3 400.4 L312.0 396.0 M373.3 490.7 L376.0 493.2 L379.8 493.8 L382.4 496.4 M373.3 490.7 L371.4 484.1 M376.2 474.5 L375.1 477.9 L372.5 480.6 L371.4 484.1 M376.2 474.5 L380.0 475.2 L383.2 477.2 L386.1 479.9 L389.8 480.7 M382.4 496.4 L385.4 493.3 L389.2 491.6 L393.0 489.9 M389.8 480.7 L391.2 485.3 L393.1 489.8 M393.1 489.8 L393.0 489.9 M379.8 508.6 L380.8 504.6 L380.3 500.2 L382.4 496.4 M360.2 499.4 L363.7 497.5 L367.1 495.5 L369.7 492.3 L373.3 490.7 M359.3 483.0 L363.5 482.1 L367.4 483.2 L371.4 484.1 M375.8 473.2 L370.9 470.9 L367.3 467.0 M375.8 473.2 L376.2 474.5 M402.3 504.1 L401.0 499.9 L396.7 497.6 L394.8 493.8 L393.0 489.9 M395.8 469.6 L399.9 470.4 L404.0 470.0 L408.1 469.7 M395.8 469.6 L392.8 472.8 L391.7 476.9 L389.8 480.7 M406.6 484.6 L403.7 487.1 L399.6 486.5 L396.4 488.4 L393.1 489.8 M255.6 310.2 L259.5 307.7 L264.1 307.0 M255.6 310.2 L255.4 315.2 L256.0 320.1 M270.7 315.7 L267.9 313.2 L265.4 310.6 L264.1 307.0 M270.7 315.7 L266.5 316.6 L263.1 319.8 L258.7 320.6 M258.7 320.6 L256.0 320.1 M255.6 310.2 L252.4 307.8 L249.8 304.8 L246.9 302.1 M246.9 302.1 L243.1 304.7 L238.4 305.1 M248.4 326.7 L251.7 322.9 L256.0 320.1 M248.4 326.7 L245.4 324.8 L241.7 324.6 L238.8 322.4 L235.4 321.3 M238.4 305.1 L237.0 309.0 L237.4 313.3 L236.1 317.2 L235.4 321.3 M268.8 297.7 L265.5 301.8 L264.1 307.0 M268.8 297.7 L267.5 295.8 M246.9 302.1 L249.1 298.1 M249.1 298.1 L252.7 296.9 L256.5 297.8 L260.1 296.1 L263.8 295.8 L267.5 295.8 M256.4 266.2 L258.1 270.6 L258.8 275.2 M256.4 266.2 L251.8 266.5 L247.4 264.6 L242.9 265.3 M258.8 275.2 L256.8 279.1 L253.8 282.4 M242.9 265.3 L240.2 267.8 L238.9 271.4 L237.2 274.7 L234.0 276.8 M234.0 276.8 L237.3 279.4 L241.1 281.2 L245.4 282.0 L248.8 284.6 M253.8 282.4 L248.8 284.6 M227.4 278.2 L234.0 276.8 M227.4 278.2 L225.5 281.9 L226.1 286.2 L225.4 290.1 L223.8 293.9 M238.4 305.1 L235.5 302.8 L232.3 300.9 L230.0 297.8 L226.5 296.4 L223.8 293.9 M249.1 298.1 L249.5 293.6 L247.9 289.1 L248.8 284.6 M267.5 295.8 L267.3 291.7 M267.3 291.7 L263.6 289.9 L260.2 287.6 L257.6 284.2 L253.8 282.4 M251.1 241.9 L248.5 244.9 L247.5 249.1 L244.7 252.0 M251.1 241.9 L246.8 238.9 L242.8 235.5 M242.8 235.5 L237.6 239.8 M237.6 239.8 L238.9 244.2 L239.3 248.9 L240.6 253.4 M244.7 252.0 L241.4 253.8 M241.4 253.8 L240.6 253.4 M254.1 241.4 L251.1 241.9 M257.6 255.7 L253.5 253.7 L249.3 252.1 L244.7 252.0 M242.8 232.7 L242.8 235.5 M242.8 232.7 L245.3 230.0 L247.5 227.1 L250.9 225.4 M259.7 232.2 L257.4 229.0 L253.5 228.1 L250.9 225.4 M260.0 261.3 L256.4 266.2 M242.9 265.3 L241.3 261.6 L242.2 257.6 L241.4 253.8 M220.6 271.7 L219.1 266.7 L219.4 261.6 M220.6 271.7 L224.0 275.0 L227.4 278.2 M240.6 253.4 L236.1 253.6 L231.7 252.9 M231.7 252.9 L228.2 254.4 L224.9 256.3 L221.8 258.5 L219.4 261.6 M199.7 276.0 L197.2 272.9 L193.6 271.5 M199.7 276.0 L203.3 275.8 L206.5 273.6 L209.9 272.6 L213.4 272.0 L217.3 273.3 L220.6 271.7 M202.9 253.0 L200.0 253.3 M202.9 253.0 L206.7 253.2 L209.5 256.2 L213.4 255.8 L216.5 257.8 M216.5 257.8 L219.4 261.6 M190.9 469.2 L188.3 470.7 L184.8 472.6 L180.7 472.5 M187.5 489.7 L189.4 486.6 L191.5 483.7 L195.3 482.3 L196.4 478.6 L198.3 475.5 L200.5 474.3 M187.5 489.7 L183.6 487.8 L180.7 484.7 L177.7 481.7 M177.7 481.7 L178.1 476.8 L180.7 472.5 M208.0 452.9 L205.4 455.7 L204.5 459.5 L203.2 462.6 M184.7 453.3 L186.0 457.0 L189.6 458.9 L190.9 462.5 L193.2 463.7 M176.9 465.2 L177.9 466.0 L178.8 469.6 L180.7 472.5 M187.9 491.6 L187.5 489.7 M176.6 482.1 L177.7 481.7 M145.4 354.3 L145.2 354.5 M197.2 206.0 L202.0 207.7 M197.2 206.0 L195.5 202.8 L195.3 200.7 M202.0 207.7 L205.2 204.9 L209.3 203.1 L211.9 199.6 M211.9 199.6 L207.9 196.9 L205.6 194.5 M210.1 173.0 L209.7 177.1 L208.9 181.0 L206.9 184.6 M210.1 173.0 L213.8 173.9 L215.8 177.4 L219.2 178.6 M206.9 184.6 L210.5 185.8 L213.6 187.9 L216.8 189.8 M219.2 178.6 L220.2 183.5 L218.9 188.4 M216.8 189.8 L218.9 188.4 M213.9 199.5 L211.9 199.6 M213.9 199.5 L214.9 194.5 L216.8 189.8 M206.4 186.0 L206.5 184.9 M206.5 184.9 L206.9 184.6 M182.3 161.3 L178.8 159.6 L178.0 155.3 L174.5 153.6 M182.3 161.3 L183.9 157.4 L184.8 153.3 L186.6 149.5 M174.5 153.6 L178.0 151.4 L179.8 147.8 M186.6 149.5 L179.8 147.8 M170.8 127.9 L167.3 127.2 L164.3 127.9 M170.8 127.9 L171.1 127.6 M171.1 127.6 L172.3 124.0 L171.9 122.3 M171.9 122.3 L171.8 122.0 M179.9 137.6 L176.6 140.2 M179.9 137.6 L183.9 138.7 L187.4 140.7 M176.6 140.2 L178.9 143.7 L179.8 147.8 M186.6 149.5 L189.1 148.3 M187.4 140.7 L187.8 144.6 L189.1 148.3 M169.7 134.6 L166.1 136.1 L166.1 136.1 M169.7 134.6 L172.0 138.0 L175.3 140.2 M175.3 140.2 L172.3 142.6 L169.4 145.3 M169.4 145.3 L167.6 144.4 M170.8 127.9 L169.7 134.6 M179.9 137.6 L181.7 133.7 L181.6 129.4 M176.6 140.2 L175.3 140.2 M171.1 127.6 L174.5 129.0 L178.0 129.7 L181.6 129.4 M170.0 152.2 L171.0 153.4 M170.0 152.2 L169.4 145.3 M171.0 153.4 L174.5 153.6 M168.5 152.0 L170.0 152.2 M172.2 167.7 L171.5 167.4 M172.2 167.7 L172.3 167.9 M171.0 153.4 L169.0 156.4 L168.7 160.1 L168.3 161.0 M197.8 670.2 L193.9 668.9 L192.4 668.7 M323.5 694.0 L325.9 696.3 M319.6 711.0 L319.7 710.9 M234.9 759.6 L232.6 759.5 M222.5 734.5 L222.4 734.5 M222.5 734.5 L225.8 738.5 L230.2 741.0 M230.2 741.0 L228.6 744.3 L227.5 745.5 M222.7 723.7 L222.3 727.3 L221.7 730.9 L222.5 734.5 M232.2 740.6 L230.2 741.0 M280.9 756.8 L284.7 756.1 M289.9 741.0 L290.1 744.7 L289.9 748.4 L289.8 752.2 M289.8 752.2 L284.7 756.1 M307.0 747.9 L303.7 749.5 L301.6 753.0 L297.8 753.9 M289.8 752.2 L293.5 754.3 L297.8 753.9 M297.8 753.9 L299.2 757.1 L300.7 760.3 L301.5 762.6 M526.8 412.5 L530.8 411.7 M539.7 351.4 L539.5 354.0 M554.8 350.7 L552.0 345.9 M554.8 350.7 L553.8 354.8 L553.7 355.4 M541.0 355.1 L543.0 355.5 L546.7 355.7 L549.7 358.0 L551.8 358.6 M527.7 372.7 L526.5 375.1 L524.5 378.9 M443.7 441.5 L442.8 437.4 L442.7 433.1 L440.9 429.3 M426.3 430.3 L431.1 429.5 L435.3 426.9 M440.9 429.3 L435.3 426.9 M458.3 431.2 L454.3 429.4 L450.7 427.0 L447.5 424.0 M440.9 429.3 L443.7 425.9 L447.5 424.0 M473.3 404.1 L474.4 407.9 L474.1 411.9 L475.9 415.5 M473.3 404.1 L466.9 402.9 M462.8 417.1 L462.6 416.9 M462.6 416.9 L463.9 412.7 L463.6 408.2 L465.2 404.0 M466.9 402.9 L465.2 404.0 M192.4 210.1 L194.0 208.9 L197.2 206.0 M242.8 232.7 L238.7 229.7 L235.1 226.0 M250.9 225.4 L250.5 221.5 M235.7 219.2 L235.1 226.0 M235.7 219.2 L235.8 219.2 M235.8 219.2 L239.2 221.0 L243.2 219.4 L246.7 221.2 L250.5 221.5 M284.3 233.6 L288.0 235.4 L292.0 236.4 M299.1 224.3 L297.1 227.5 L296.4 231.2 L296.1 235.0 M292.0 236.4 L296.1 235.0 M315.6 230.1 L312.0 233.0 L309.7 237.2 L306.2 240.2 M296.1 235.0 L299.5 236.7 L302.3 239.4 L306.2 240.2 M324.4 246.4 L321.3 248.7 L317.7 249.7 L314.0 250.3 M314.0 250.3 L310.2 247.9 L307.1 244.6 M306.2 240.2 L307.1 244.6 M314.0 250.3 L313.2 257.3 M332.2 259.3 L331.5 260.2 M313.2 257.3 L316.8 259.5 L318.7 263.3 M331.5 260.2 L327.0 260.2 L323.0 262.5 L318.7 263.3 M267.3 291.7 L269.5 288.2 L271.2 284.5 L273.5 281.1 M258.8 275.2 L262.3 275.0 L265.6 277.2 L269.2 276.6 M273.5 281.1 L269.2 276.6 M283.1 285.5 L286.4 281.6 L290.7 278.7 M283.1 285.5 L278.7 283.4 L274.5 281.0 M290.7 278.7 L288.5 275.4 L285.1 273.3 L283.2 269.8 M274.5 281.0 L275.9 277.7 L277.9 274.7 L280.5 272.1 L283.2 269.8 M267.7 260.6 L272.0 264.1 M269.2 276.6 L270.1 272.5 L271.8 268.5 L272.0 264.1 M259.3 341.3 L252.7 341.1 M259.3 341.3 L263.4 338.0 M252.7 341.1 L252.3 337.3 L251.5 333.6 L248.6 330.6 L248.4 326.7 M258.7 320.6 L262.6 323.7 L265.8 327.4 M265.8 327.4 L263.9 330.7 L264.3 334.5 L263.4 338.0 M265.8 327.4 L269.5 325.1 L273.8 324.7 M263.4 338.0 L267.7 337.2 L272.1 337.4 L276.3 336.0 M273.8 324.7 L275.9 328.2 L276.6 332.0 L276.3 336.0 M599.8 312.6 L600.5 318.8 M599.8 312.6 L597.4 312.3 M600.5 318.8 L599.5 319.9 M600.3 311.2 L599.8 312.6 M613.0 329.0 L613.9 328.8 M613.0 329.0 L610.0 326.3 L607.0 323.6 L603.6 321.4 L600.5 318.8 M445.0 338.6 L444.8 339.9 M454.5 342.6 L455.6 338.1 L455.6 337.5 M454.5 342.6 L453.0 344.2 M444.8 339.9 L448.6 342.1 L452.5 344.2 M453.0 344.2 L452.5 344.2 M461.4 364.1 L457.6 362.0 L454.9 358.6 M461.4 364.1 L460.6 370.4 M460.6 370.4 L457.0 371.4 L453.2 371.2 L449.5 371.4 L445.8 372.1 M454.9 358.6 L448.4 359.0 M445.8 372.1 L446.6 367.7 L446.5 363.1 L448.4 359.0 M444.8 339.9 L441.6 343.4 L437.6 346.1 M437.6 346.1 L435.5 341.5 L432.0 337.8 M432.0 337.8 L435.6 333.5 M433.1 328.3 L432.5 327.2 M420.6 320.2 L420.8 323.2 M420.8 323.2 L425.3 327.1 M430.7 325.5 L425.3 327.1 M392.6 336.0 L392.8 331.9 M392.6 336.0 L394.6 339.2 L398.2 341.1 L400.3 344.2 M400.3 344.2 L406.6 341.5 M407.6 328.2 L403.9 329.0 L400.5 327.2 M407.6 328.2 L408.3 328.9 M392.8 331.9 L397.1 330.3 L400.5 327.2 M406.6 341.5 L406.8 337.2 L407.6 333.1 L408.3 328.9 M409.7 322.1 L409.5 324.2 L407.6 328.2 M420.8 323.2 L417.6 325.4 L414.4 327.5 L410.9 329.1 M408.3 328.9 L410.9 329.1 M389.3 391.1 L393.3 390.6 M380.5 379.0 L382.7 377.8 M382.7 377.8 L386.5 378.1 L390.0 380.5 L394.0 380.2 M393.3 390.6 L394.2 385.4 L394.0 380.2 M373.4 343.4 L369.8 343.9 L366.2 343.5 L362.6 343.7 L359.1 344.4 M373.4 343.4 L375.1 349.9 M359.1 344.4 L360.0 348.9 L362.1 353.0 L362.3 357.6 M362.3 357.6 L366.1 360.2 L370.7 360.6 M375.1 349.9 L374.2 353.7 L372.5 357.2 L370.7 360.6 M358.0 376.3 L361.7 374.7 L365.9 375.5 L369.5 373.6 M358.0 376.3 L354.2 373.9 L351.5 370.3 M351.5 370.3 L350.9 365.8 L352.3 361.4 M352.3 361.4 L355.4 359.6 L359.3 359.7 L362.3 357.6 M369.5 373.6 L370.4 369.7 L371.5 365.8 L371.3 361.7 M370.7 360.6 L371.3 361.7 M399.1 348.7 L401.5 352.9 L403.9 357.2 M399.1 348.7 L395.7 350.0 L392.6 352.0 L388.8 351.9 M388.8 351.9 L387.4 355.6 L388.8 359.5 L388.0 363.3 M403.9 357.2 L403.9 358.1 M403.9 358.1 L399.9 359.1 L396.6 361.6 L393.0 363.5 L388.8 364.1 M388.0 363.3 L388.8 364.1 M388.8 364.1 L388.8 364.1 M392.6 336.0 L390.5 339.3 L386.8 340.6 M400.3 344.2 L399.1 348.7 M386.8 340.6 L386.6 345.4 L386.9 350.1 M386.9 350.1 L388.8 351.9 M375.1 349.9 L379.1 349.5 L383.0 351.2 L386.9 350.1 M371.3 361.7 L375.4 363.1 L379.7 362.4 L383.9 362.1 L388.0 363.3 M404.5 358.9 L403.9 358.1 M405.5 368.7 L400.9 370.1 L396.8 372.4 M396.8 372.4 L393.8 370.0 L391.0 367.3 L388.8 364.1 M382.7 377.8 L384.8 374.6 L386.3 371.2 L386.1 367.0 L388.8 364.1 M396.8 372.4 L396.3 378.0 M394.0 380.2 L396.3 378.0 M461.4 364.1 L464.4 361.1 L468.4 359.5 M458.2 351.7 L456.1 354.9 L454.9 358.6 M458.2 351.7 L463.8 351.1 M463.8 351.1 L465.1 355.8 L468.4 359.5 M469.2 380.0 L467.7 383.4 L466.5 386.9 L465.3 390.4 M469.2 380.0 L473.1 380.7 L477.1 380.7 M477.1 380.7 L478.7 383.9 M478.7 383.9 L476.3 387.5 L475.1 391.6 M475.1 391.6 L470.7 390.9 L466.3 391.4 M466.3 391.4 L465.3 390.4 M476.4 367.3 L478.3 372.1 L479.1 377.2 M476.4 367.3 L473.0 370.2 L468.4 371.3 L465.4 374.9 M465.4 374.9 L469.2 380.0 M479.1 377.2 L477.1 380.7 M488.6 391.6 L486.0 394.2 L482.9 396.2 L479.2 396.9 M488.6 391.6 L490.1 394.8 L491.7 398.0 L492.5 401.5 L494.4 404.5 M487.0 406.6 L483.2 403.1 L478.5 400.9 M487.0 406.6 L493.3 405.7 M478.5 400.9 L479.2 396.9 M493.3 405.7 L494.4 404.5 M479.6 417.4 L482.6 414.2 L483.7 409.7 L487.0 406.6 M473.3 404.1 L478.5 400.9 M494.8 421.0 L493.4 417.2 L493.1 413.4 L493.2 409.5 L493.3 405.7 M466.9 402.9 L467.3 399.0 L465.8 395.2 L466.3 391.4 M475.1 391.6 L479.2 396.9 M501.0 403.1 L494.4 404.5 M519.2 332.2 L517.3 335.5 M534.5 342.4 L530.7 343.6 L527.4 345.6 L525.4 347.1 M520.9 349.7 L520.9 349.7 M517.3 335.5 L518.5 339.0 L519.9 342.4 L519.5 346.3 L520.9 349.7 M520.4 351.0 L520.4 350.7 M520.9 349.7 L520.4 350.7 M695.5 271.9 L696.2 274.3 L696.4 278.7 M707.8 280.4 L707.7 280.5 M707.7 280.5 L701.1 281.4 M701.1 281.4 L696.4 278.7 M677.6 286.0 L680.9 283.4 L685.3 283.6 L688.8 281.4 L692.9 280.7 L696.4 278.7 M714.1 289.1 L711.4 287.3 L709.2 284.2 L707.7 280.5 M697.7 294.4 L698.6 290.0 L699.1 285.5 L701.1 281.4 M645.0 368.4 L644.7 363.9 L644.7 359.3 L643.9 354.9 M645.0 368.4 L649.0 366.9 L652.7 364.7 L656.5 362.8 M643.9 354.9 L647.6 353.7 L651.5 353.6 L655.4 354.0 M656.5 362.8 L655.4 358.8 L656.3 354.8 M656.3 354.8 L655.4 354.0 M662.3 366.9 L659.7 364.5 L656.5 362.8 M656.2 378.1 L652.5 376.4 L648.3 375.9 L644.9 373.3 M644.9 373.3 L644.8 368.8 M644.8 368.8 L645.0 368.4 M654.8 345.5 L656.3 349.6 L655.4 354.0 M641.3 352.3 L643.9 349.1 L647.3 346.5 L648.9 342.5 M641.3 352.3 L643.9 354.9 M664.9 353.3 L660.8 355.1 L656.3 354.8 M634.9 339.1 L633.8 344.5 M641.3 352.3 L638.5 351.7 M633.8 344.5 L636.2 348.0 L638.5 351.7 M620.9 333.9 L622.2 337.8 L621.6 341.8 L621.6 345.8 M621.6 345.8 L624.1 347.2 M633.8 344.5 L629.1 346.5 L624.1 347.2 M620.7 427.6 L621.2 423.6 L623.7 420.4 L624.7 416.6 M620.7 427.6 L625.0 428.5 L629.3 429.7 M629.3 429.7 L630.4 429.1 M630.4 429.1 L630.5 425.0 L633.0 421.6 L633.5 417.7 M624.7 416.6 L628.2 415.4 L631.9 415.9 M633.5 417.7 L631.9 415.9 M629.3 439.0 L628.9 434.4 L629.3 429.7 M618.4 428.3 L620.7 427.6 M641.6 431.3 L637.8 431.7 L634.0 431.1 L630.4 429.1 M641.5 419.4 L638.4 419.3 L633.5 417.7 M632.7 409.4 L631.9 415.9 M611.8 419.9 L612.1 418.9 M624.7 416.6 L620.5 413.3 M612.1 418.9 L616.6 416.6 L620.5 413.3 M625.9 400.9 L622.8 403.6 L619.3 405.7 M619.3 405.7 L619.6 409.6 L620.5 413.3 M333.5 523.8 L332.2 523.7 M328.6 545.2 L328.2 541.1 L325.3 538.2 L325.0 534.1 L322.5 530.9 M332.2 523.7 L328.6 525.5 L325.4 528.1 L322.5 530.9 M340.2 499.4 L336.9 500.9 L334.2 503.3 L331.0 505.1 L327.7 506.4 M332.2 523.7 L332.0 520.0 L329.9 516.9 L330.7 513.0 L328.8 509.8 L327.7 506.4 M307.0 550.3 L308.9 546.5 L308.8 542.2 L311.1 538.5 L311.3 534.2 L312.2 530.2 M322.5 530.9 L317.4 529.3 L312.2 530.2 M290.4 534.3 L294.2 533.5 L296.3 529.8 L299.7 528.4 L303.5 527.6 L306.3 525.2 M306.3 525.2 L309.0 528.0 L312.2 530.2 M268.7 472.7 L272.3 474.9 L275.0 478.0 L277.9 481.0 M268.7 472.7 L269.7 468.6 L272.2 465.0 L273.1 460.8 L273.9 456.6 M277.9 481.0 L280.8 478.2 L284.0 475.6 L286.5 472.3 L289.5 469.5 M289.5 469.5 L286.7 466.8 L284.1 463.8 L282.6 460.1 L280.3 456.9 M273.9 456.6 L280.3 456.9 M253.8 472.3 L257.5 472.5 L261.3 471.7 L265.0 471.5 L268.7 472.7 M263.6 494.8 L266.8 492.9 L269.0 489.7 L272.9 488.6 L275.5 485.9 L278.0 483.1 M278.0 483.1 L277.9 481.0 M268.3 451.3 L270.6 454.6 L273.9 456.6 M290.5 446.5 L288.3 449.5 L286.1 452.5 L283.2 454.7 L280.3 456.9 M290.5 446.5 L290.5 443.4 M290.5 443.4 L286.1 440.4 L282.9 436.2 M272.3 435.6 L275.8 436.4 L279.4 435.8 L282.9 436.2 M290.5 446.5 L292.7 449.3 L295.5 451.5 L297.5 454.5 L300.2 456.8 L302.6 459.4 M289.5 469.5 L293.7 469.1 L297.9 469.0 M297.9 469.0 L298.6 465.4 L301.6 462.9 L302.6 459.4 M300.8 437.6 L297.7 440.1 L293.6 440.9 L290.5 443.4 M313.4 444.8 L314.5 449.7 L313.3 454.6 M302.6 459.4 L306.0 457.5 L309.6 456.0 L313.3 454.6 M329.6 458.9 L326.0 459.5 L322.5 460.8 M313.3 454.6 L316.6 456.3 L319.2 459.1 L322.5 460.8 M280.0 511.8 L280.3 511.6 M278.0 483.1 L280.4 487.0 L285.1 488.7 L287.4 492.6 M280.3 511.6 L282.3 508.0 L284.4 504.4 L285.4 500.5 L286.9 496.8 L287.4 492.6 M306.3 525.2 L304.4 520.5 L304.1 515.5 M280.3 511.6 L284.4 511.5 L288.2 513.2 L292.3 513.1 L296.2 514.4 L300.1 515.2 L304.1 515.5 M247.7 399.0 L246.2 395.7 L243.4 393.3 L242.0 389.9 L239.0 387.7 L237.2 384.6 M257.6 379.3 L254.0 377.8 L249.9 377.7 L246.8 374.7 L242.8 374.2 M242.8 374.2 L239.8 377.0 L239.5 381.4 L237.2 384.6 M225.3 393.7 L228.5 387.6 M228.5 387.6 L232.5 385.2 L237.2 384.6 M204.9 377.7 L209.2 377.2 L213.0 375.1 L217.3 374.2 M228.5 387.6 L225.4 385.7 L223.1 383.0 L221.8 379.5 L220.2 376.3 L217.3 374.2 M343.2 430.9 L344.7 427.6 L346.2 424.3 M323.3 428.8 L323.1 424.1 L324.1 419.6 L326.1 415.4 M331.0 410.7 L334.8 412.2 L338.8 413.3 L342.5 415.3 M346.2 424.3 L343.4 420.2 L342.5 415.3 M361.5 434.2 L362.7 429.6 L361.4 425.0 M361.4 425.0 L358.4 423.1 M346.2 424.3 L350.3 424.2 L354.4 424.0 L358.4 423.1 M331.2 405.0 L334.4 402.9 L337.1 400.3 L340.4 398.5 L342.4 395.1 M321.1 393.9 L323.5 390.2 L324.5 386.0 M324.5 386.0 L328.3 386.3 L332.1 386.4 L335.7 383.7 L339.5 384.6 M339.5 384.6 L343.0 389.1 M343.0 389.1 L342.4 395.1 M340.1 375.0 L340.0 379.8 L339.5 384.6 M340.1 375.0 L344.3 374.3 L347.5 371.4 L351.5 370.3 M358.0 376.3 L356.7 381.1 L355.2 386.0 M343.0 389.1 L347.4 389.2 L350.9 385.9 L355.2 386.0 M368.4 387.4 L363.4 387.4 L359.0 389.6 M355.2 386.0 L359.0 389.6 M395.8 469.6 L394.3 465.4 L391.0 462.5 M403.9 451.9 L399.2 451.7 M399.2 451.7 L396.9 455.6 L392.9 458.3 L391.0 462.5 M375.8 473.2 L377.8 469.8 L379.8 466.6 L383.6 464.9 L385.7 461.7 M375.3 453.1 L380.1 453.3 M380.1 453.3 L382.5 457.7 L385.7 461.7 M385.7 461.7 L391.0 462.5 M372.3 438.1 L377.6 435.0 M361.4 425.0 L365.4 423.9 L368.6 421.0 L372.8 420.2 M372.8 420.2 L373.3 420.5 M377.6 435.0 L377.1 431.2 L375.6 427.7 L374.0 424.2 L373.3 420.5 M383.4 397.3 L384.2 402.3 M384.2 402.3 L389.4 402.0 L394.3 403.8 M393.3 390.6 L396.1 392.6 M394.3 403.8 L393.8 399.9 L396.4 396.5 L396.1 392.6 M291.6 397.0 L292.3 397.1 M291.6 397.0 L288.4 399.1 L285.9 402.2 L282.1 403.7 M292.3 397.1 L293.1 401.0 L294.8 404.5 L298.4 407.0 L298.1 411.5 L301.0 414.4 M282.1 403.7 L282.8 407.5 L282.8 411.4 L282.5 415.2 M282.5 415.2 L287.0 417.3 L291.2 419.9 M291.2 419.9 L295.2 419.9 L299.1 418.8 M299.1 418.8 L301.0 414.4 M269.4 398.2 L274.2 398.8 L278.3 400.9 L282.1 403.7 M281.9 382.8 L283.8 386.7 L287.5 389.4 L289.1 393.5 L291.6 397.0 M281.9 382.8 L281.4 382.7 M309.6 408.7 L305.2 411.4 L301.0 414.4 M312.0 396.0 L307.5 394.0 L304.3 390.3 M304.3 390.3 L300.0 392.1 L295.6 393.7 L292.3 397.1 M274.2 418.1 L278.5 417.3 L282.5 415.2 M282.9 436.2 L284.3 432.9 L286.9 430.0 L287.6 426.3 L289.5 423.2 L291.2 419.9 M302.3 423.6 L299.1 418.8 M217.8 297.7 L218.2 301.4 L216.4 304.6 L216.9 308.3 L215.0 311.5 L215.0 315.1 M217.8 297.7 L214.2 297.1 L210.8 295.7 L207.0 296.2 L203.5 295.3 L200.0 294.5 M215.0 315.1 L211.0 316.9 L206.5 316.8 L202.7 319.3 L198.3 319.5 M192.7 299.9 L197.1 298.2 L200.0 294.5 M192.7 299.9 L192.0 304.9 L190.8 309.7 M190.8 309.7 L193.9 312.5 L196.7 315.6 L198.3 319.5 M235.4 321.3 L231.5 324.3 L226.7 325.9 M226.7 325.9 L223.0 324.1 L220.0 321.4 L218.5 317.2 L215.0 315.1 M223.8 293.9 L221.4 296.7 L217.8 297.7 M199.7 276.0 L200.3 279.7 L198.7 283.4 L199.5 287.1 L199.0 290.8 L200.0 294.5 M210.2 338.1 L214.3 337.8 L218.3 337.3 L222.1 335.5 M197.4 327.1 L198.0 323.3 L198.3 319.5 M226.7 325.9 L224.6 329.1 L224.6 333.0 M222.1 335.5 L224.6 333.0 M176.9 288.2 L179.8 290.8 L183.8 292.1 L186.3 295.3 L190.2 296.7 L192.7 299.9 M174.3 314.4 L178.7 314.0 L182.9 313.2 L186.4 309.9 L190.8 309.7 M237.6 239.8 L233.8 238.8 L229.9 239.3 M231.7 252.9 L229.9 249.7 L230.2 245.9 L228.1 242.8 M229.9 239.3 L228.1 242.8 M216.5 257.8 L216.3 253.5 L217.4 249.4 L218.7 245.4 M228.1 242.8 L223.6 244.9 L218.7 245.4 M113.6 393.3 L113.9 394.2 M113.7 393.1 L116.2 389.9 L119.9 387.5 L121.0 386.1 M121.0 386.1 L121.0 386.1 M232.5 140.3 L237.2 144.4 M232.5 140.3 L233.1 136.0 L233.0 131.7 M240.9 133.5 L239.1 133.0 L235.0 130.1 M243.8 140.8 L242.7 143.4 M233.0 131.7 L234.2 130.3 M235.0 130.1 L234.2 130.3 M242.7 143.4 L237.2 144.4 M206.5 184.9 L202.8 183.7 L199.0 183.2 L196.7 183.6 M210.1 173.0 L209.9 172.6 M209.9 172.6 L206.4 174.0 L202.7 174.1 L198.9 174.3 L195.4 175.3 M195.4 175.3 L195.8 179.6 L195.4 181.9 M286.0 179.7 L285.4 176.5 M286.0 179.7 L288.4 179.6 M268.7 172.4 L265.6 170.1 L261.7 170.3 M268.7 172.4 L269.8 171.3 M261.7 170.3 L261.7 169.5 M259.1 162.2 L259.1 162.2 M259.1 162.2 L259.0 159.7 M259.0 159.7 L261.2 158.0 M238.3 125.3 L236.9 126.4 L235.0 130.1 M187.4 140.7 L191.1 137.3 L194.5 133.6 M197.1 144.6 L192.1 149.1 M197.1 144.6 L197.1 139.4 L196.5 134.2 M189.1 148.3 L192.1 149.1 M194.5 133.6 L196.5 134.2 M200.1 160.6 L198.1 163.4 L195.7 166.1 L194.5 169.5 L192.0 172.1 M200.1 160.6 L199.7 158.5 M199.7 158.5 L196.8 157.1 M196.8 157.1 L192.8 157.6 L189.6 159.6 L186.4 161.9 L182.9 163.5 M182.9 163.5 L182.6 165.0 M182.6 165.0 L186.2 170.7 M186.2 170.7 L192.0 172.1 M210.1 171.6 L206.9 169.4 L204.8 166.3 L202.9 163.0 L200.1 160.6 M210.1 171.6 L209.9 172.6 M195.4 175.3 L194.7 174.6 M194.5 174.5 L192.0 172.1 M216.7 164.0 L215.6 160.4 L216.2 156.8 M216.7 164.0 L212.8 167.3 L210.1 171.6 M216.2 156.8 L212.2 156.0 L208.3 155.0 L204.2 154.8 M204.2 154.8 L199.7 158.5 M205.1 146.3 L205.6 150.7 L204.2 154.8 M205.1 146.3 L201.2 145.0 L197.1 144.6 M192.1 149.1 L194.2 153.2 L196.8 157.1 M182.3 161.3 L182.9 163.5 M172.2 167.7 L175.6 166.3 L178.9 164.7 L182.6 165.0 M184.2 173.6 L186.2 170.7 M281.3 775.5 L282.2 775.8 M271.4 789.8 L275.6 791.4 L277.5 791.6 M282.2 775.8 L282.7 780.3 L283.8 783.5 M299.2 768.1 L297.6 769.6 L293.6 770.2 M292.8 772.0 L294.3 775.8 L295.2 777.9 M292.8 772.0 L293.6 770.2 M284.7 756.1 L287.2 759.5 L288.2 763.8 L290.6 767.3 L293.6 770.2 M282.2 775.8 L285.4 773.7 L289.7 774.4 L292.8 772.0 M465.4 374.9 L463.0 373.9 M454.6 385.2 L455.8 381.7 L459.2 379.8 L460.1 376.1 L463.0 373.9 M454.6 385.2 L455.1 388.4 M465.3 390.4 L460.5 390.2 L455.7 389.3 M455.1 388.4 L455.7 389.3 M465.2 404.0 L461.0 402.4 L456.5 402.4 L452.3 401.4 M455.7 389.3 L453.6 393.1 L453.3 397.4 L452.3 401.4 M202.0 207.7 L204.7 210.3 L205.5 214.0 M213.9 199.5 L218.7 203.4 M218.7 203.4 L217.9 208.5 L215.2 212.9 M215.2 212.9 L210.2 212.2 L205.5 214.0 M197.0 221.9 L200.7 220.2 L204.4 218.7 M204.4 218.7 L205.5 214.0 M228.9 122.7 L222.8 123.1 M228.9 122.7 L229.4 121.8 M234.2 130.3 L231.1 126.8 L228.9 122.7 M219.7 127.5 L222.8 129.6 L224.5 133.0 M219.7 127.5 L215.7 128.6 M215.7 128.6 L213.9 132.0 L212.0 135.5 L211.0 139.3 M224.5 133.0 L223.9 137.5 L221.0 141.2 M221.0 141.2 L216.8 140.1 L212.6 141.1 M212.6 141.1 L211.5 140.5 M211.5 140.5 L211.0 139.3 M233.0 131.7 L228.8 132.8 L224.5 133.0 M222.0 123.4 L219.7 127.5 M211.7 125.1 L212.9 126.3 L215.7 128.6 M209.2 124.7 L207.3 126.2 L203.5 127.2 M203.5 127.2 L201.8 132.9 M201.8 132.9 L204.3 135.9 L208.3 136.7 L211.0 139.3 M232.5 140.3 L228.6 142.6 L224.2 143.5 M224.2 143.5 L221.0 141.2 M226.1 152.0 L224.2 148.0 L224.2 143.5 M226.1 152.0 L223.3 154.7 L219.8 155.7 L216.3 156.6 M216.3 156.6 L214.3 153.0 L213.5 149.1 L214.2 144.9 L212.6 141.1 M216.2 156.8 L216.3 156.6 M205.1 146.3 L207.5 142.5 L211.5 140.5 M196.5 134.2 L201.8 132.9 M331.5 260.2 L331.7 261.2 M317.9 267.8 L318.7 263.3 M317.9 267.8 L321.3 271.7 L323.9 276.3 M329.1 270.9 L328.7 271.1 L327.3 274.7 L323.9 276.3 M313.2 257.3 L308.8 258.8 L305.0 261.5 M306.4 274.1 L305.3 273.2 M306.4 274.1 L310.0 271.7 L314.0 269.8 L317.9 267.8 M305.0 261.5 L305.9 265.4 L305.9 269.3 L305.3 273.2 M324.5 386.0 L323.0 382.4 L321.3 379.0 L319.9 375.5 L318.3 372.0 M304.3 390.3 L303.2 386.2 L303.9 382.0 L303.8 377.8 M318.3 372.0 L315.0 374.2 L311.2 375.1 L307.7 376.9 L303.8 377.8 M281.9 382.8 L285.3 381.3 L288.9 380.5 L291.7 378.1 L294.3 375.3 L297.8 374.2 M297.8 374.2 L301.4 375.0 L303.8 377.8 M567.6 351.1 L569.5 349.1 M567.6 351.1 L563.3 350.3 L559.0 351.3 L554.8 350.7 M567.0 341.0 L567.1 341.1 M569.5 349.1 L569.5 344.7 L567.1 341.1 M571.2 337.3 L567.1 341.1 M415.4 371.8 L418.5 374.0 L422.4 374.0 M416.4 360.8 L419.7 357.9 M419.7 357.9 L425.4 360.3 M424.7 373.0 L422.4 374.0 M424.7 373.0 L425.8 371.3 M425.4 360.3 L425.3 364.0 L426.5 367.6 L425.8 371.3 M433.5 351.8 L433.2 357.1 M433.5 351.8 L437.4 347.5 M437.4 347.5 L442.0 349.9 L446.7 351.9 M433.2 357.1 L434.8 358.7 M434.8 358.7 L439.2 359.1 L443.6 358.9 L448.0 358.6 M446.7 351.9 L448.0 358.6 M437.6 346.1 L437.4 347.5 M452.5 344.2 L450.1 348.5 L446.7 351.9 M425.4 360.3 L429.5 359.1 L433.2 357.1 M425.8 371.3 L428.9 369.0 L432.4 367.7 L436.3 367.4 M436.3 367.4 L435.0 363.1 L434.8 358.7 M453.0 344.2 L454.6 348.6 L458.2 351.7 M448.4 359.0 L448.0 358.6 M400.5 327.2 L399.9 323.3 L399.1 322.1 M425.3 327.1 L424.1 332.8 M410.9 329.1 L414.3 332.9 L418.8 335.4 M418.8 335.4 L424.1 332.8 M432.0 337.8 L430.2 337.9 M430.2 337.9 L427.3 335.3 L424.1 332.8 M477.8 346.1 L477.0 348.3 M477.0 348.3 L476.4 348.5 M476.4 348.5 L472.0 346.4 L467.3 344.9 M467.3 344.9 L466.9 343.8 M463.8 351.1 L466.0 348.2 L467.3 344.9 M468.4 359.5 L470.5 359.6 M470.5 359.6 L473.1 356.2 L473.8 351.9 L476.4 348.5 M454.5 342.6 L458.3 341.8 L459.5 341.7 M478.7 383.9 L483.8 384.9 L488.4 387.5 M488.6 391.6 L489.2 389.4 M489.2 389.4 L488.4 387.5 M503.8 389.8 L502.7 388.5 M489.2 389.4 L493.6 388.0 L498.2 388.6 L502.7 388.5 M651.4 389.7 L648.0 388.1 L644.8 385.9 L640.8 385.6 M644.9 373.3 L644.8 373.5 M644.8 373.5 L642.7 377.3 L643.0 381.9 L640.8 385.6 M638.8 396.4 L638.4 391.6 L639.1 386.9 M639.1 386.9 L640.8 385.6 M638.5 351.7 L635.9 354.2 L632.6 356.0 L630.9 359.4 L628.2 361.8 M624.1 347.2 L624.2 351.1 L625.8 354.8 L625.1 358.8 M625.1 358.8 L628.2 361.8 M621.6 345.8 L617.7 346.4 L613.9 347.9 M613.9 347.9 L616.0 352.6 L616.0 357.8 M625.1 358.8 L620.5 359.0 L616.0 357.8 M644.8 368.8 L641.8 366.7 L638.5 365.4 L635.0 364.4 L631.6 363.2 L628.2 362.0 M628.2 362.0 L628.2 361.8 M596.3 345.7 L599.8 348.9 L603.9 351.4 M596.3 345.7 L599.0 341.6 L599.8 337.9 M608.2 336.0 L610.0 339.0 L608.8 343.0 L610.4 346.5 M610.4 346.5 L606.9 348.6 L603.9 351.4 M613.0 329.0 L610.7 332.5 L609.6 333.7 M613.9 347.9 L610.4 346.5 M565.1 380.4 L565.2 379.5 L565.6 375.8 L563.4 372.3 L563.9 368.6 M555.9 373.9 L556.5 372.9 L558.7 369.0 L562.1 366.0 M563.9 368.6 L562.1 366.0 M567.6 351.1 L566.3 355.4 L565.3 359.7 L563.8 363.9 M556.0 363.1 L558.2 364.3 L562.0 365.7 M563.8 363.9 L562.0 365.7 M562.1 366.0 L562.0 365.7 M603.4 354.9 L599.4 357.9 L595.6 361.0 M603.4 354.9 L606.8 359.0 L611.3 361.7 M595.6 361.0 L597.6 363.9 L600.5 366.2 L601.6 369.8 M601.6 369.8 L606.6 369.3 L610.8 366.7 M610.8 366.7 L611.3 361.7 M616.0 357.8 L611.3 361.7 M603.9 351.4 L603.4 354.9 M613.1 399.5 L614.9 402.1 L617.0 405.3 M617.0 405.3 L613.0 408.0 L608.3 409.6 M605.2 406.5 L606.6 409.0 M606.6 409.0 L608.3 409.6 M612.1 418.9 L610.4 414.2 L608.3 409.6 M619.3 405.7 L617.0 405.3 M598.5 416.0 L600.8 413.3 L603.8 411.3 L606.6 409.0 M298.4 492.0 L301.3 494.8 L305.1 496.6 L307.9 499.6 L310.1 503.2 M298.4 492.0 L299.4 488.1 L301.0 484.5 L303.1 480.9 L303.1 476.8 M303.1 476.8 L307.3 477.4 L311.5 476.5 L315.7 476.8 L319.9 478.0 M315.4 501.3 L310.1 503.2 M315.4 501.3 L317.7 497.8 L318.3 493.6 L319.0 489.4 L322.1 486.2 L322.7 482.0 M322.7 482.0 L319.9 478.0 M287.4 492.6 L291.1 492.9 L294.8 493.4 L298.4 492.0 M304.1 515.5 L306.2 511.4 L307.6 507.1 L310.1 503.2 M297.9 469.0 L300.4 472.9 L303.1 476.8 M322.5 460.8 L322.5 465.2 L320.8 469.3 L320.7 473.7 L319.9 478.0 M327.7 506.4 L323.3 505.5 L319.9 502.1 L315.4 501.3 M327.2 482.3 L322.7 482.0 M261.3 362.1 L256.8 360.1 L252.0 359.0 M261.3 362.1 L261.1 365.7 L263.5 368.9 L263.2 372.5 M242.8 374.2 L241.3 369.7 M241.3 369.7 L244.7 367.7 L245.8 363.4 L249.3 361.6 L252.0 359.0 M271.0 354.1 L267.1 356.0 L264.4 359.3 L261.3 362.1 M271.0 354.1 L268.0 350.9 L265.9 346.9 L261.9 344.8 L259.3 341.3 M252.7 341.1 L250.2 343.8 M252.0 359.0 L251.6 355.2 L251.0 351.4 L250.2 347.7 L250.2 343.8 M224.6 333.0 L227.3 336.3 L231.9 337.1 L235.2 339.8 L237.8 343.3 L241.3 345.6 M250.2 343.8 L245.6 344.0 L241.3 345.6 M360.0 396.8 L356.0 400.1 L352.8 404.1 M360.0 396.8 L364.9 398.5 L369.7 400.3 M369.7 400.3 L370.9 405.9 M357.0 410.0 L353.1 407.0 M357.0 410.0 L361.2 410.2 L365.3 409.1 L369.5 408.9 M370.9 405.9 L369.5 408.9 M353.1 407.0 L352.8 404.1 M342.4 395.1 L345.8 398.2 L348.7 401.9 L352.8 404.1 M359.0 389.6 L359.7 393.1 L360.0 396.8 M374.1 393.2 L371.5 396.5 L369.7 400.3 M384.2 402.3 L381.9 405.5 M381.9 405.5 L378.2 404.6 L374.6 406.6 L370.9 405.9 M342.5 415.3 L346.3 412.8 L348.9 408.9 L353.1 407.0 M358.4 423.1 L357.1 418.9 L357.6 414.4 L357.0 410.0 M372.8 420.2 L372.1 416.3 L369.7 412.9 L369.5 408.9 M386.1 417.4 L384.0 413.6 L383.2 409.5 L381.9 405.5 M386.1 417.4 L386.0 417.6 M373.3 420.5 L377.5 419.1 L382.0 419.3 L386.0 417.6 M393.6 446.1 L389.3 446.6 L384.9 447.1 M393.6 446.1 L395.1 441.7 L395.1 437.0 M384.9 447.1 L384.3 442.8 L380.9 439.7 L379.9 435.6 M395.1 437.0 L390.8 435.4 L388.0 431.9 M388.0 431.9 L384.0 433.9 L379.9 435.6 M399.2 451.7 L397.0 448.3 L393.6 446.1 M380.1 453.3 L383.5 451.0 L384.9 447.1 M408.0 437.9 L406.0 434.4 M406.0 434.4 L403.3 433.4 M403.3 433.4 L399.1 435.2 L395.1 437.0 M377.6 435.0 L379.9 435.6 M403.3 433.4 L403.3 429.6 L401.0 426.4 L399.9 422.8 M399.9 422.8 L394.8 422.8 L389.7 422.4 M389.7 422.4 L387.8 426.9 L388.0 431.9 M389.7 422.4 L386.0 417.6 M386.1 417.4 L389.4 415.7 L392.1 413.5 L394.6 411.1 L396.4 407.8 M394.3 403.8 L396.5 407.5 M396.4 407.8 L396.5 407.5 M399.9 422.8 L404.1 417.9 M396.4 407.8 L399.8 410.5 L402.2 414.1 L404.1 417.9 M396.1 392.6 L401.7 392.3 M396.5 407.5 L400.5 405.8 L405.0 405.2 L408.5 402.3 M401.7 392.3 L403.0 396.3 L407.2 398.3 L408.5 402.3 M433.2 378.8 L433.7 385.0 M433.2 378.8 L436.7 377.2 L439.1 374.0 L442.2 371.9 M446.3 376.3 L445.5 372.4 M446.3 376.3 L443.5 379.3 L441.1 382.5 L440.0 386.5 M440.0 386.5 L433.7 385.0 M442.2 371.9 L445.5 372.4 M424.7 373.0 L429.0 375.8 L433.2 378.8 M422.4 374.0 L421.1 377.8 L421.6 381.6 L421.8 385.5 M421.8 385.5 L425.5 386.9 L429.2 388.3 M429.2 388.3 L433.7 385.0 M436.3 367.4 L438.6 370.5 L442.2 371.9 M454.6 385.2 L452.8 381.4 L448.6 379.7 L446.3 376.3 M460.6 370.4 L463.0 373.9 M445.8 372.1 L445.5 372.4 M455.1 388.4 L450.6 387.6 L446.3 389.1 L442.0 389.6 M442.0 389.6 L440.0 386.5 M133.9 396.4 L135.6 395.3 L138.2 393.0 L141.1 390.9 M140.7 398.9 L140.6 398.7 L140.9 394.8 L141.2 390.9 M141.2 390.9 L141.1 390.9 M127.2 382.0 L127.2 382.0 M127.2 382.0 L128.5 382.8 L131.8 384.6 L135.1 386.4 L138.1 388.7 L141.1 390.9 M145.5 389.9 L141.2 390.9 M242.7 143.4 L243.2 143.8 M237.2 144.4 L235.3 149.2 L233.0 153.7 M246.6 157.3 L245.4 152.8 L245.4 148.0 L243.2 143.8 M246.6 157.3 L244.4 159.0 M244.4 159.0 L240.9 156.6 L236.9 155.4 L233.0 153.7 M216.7 164.0 L220.6 165.3 L224.7 165.9 L228.6 167.2 M226.1 152.0 L230.8 154.3 M228.6 167.2 L230.4 163.1 L231.0 158.7 L230.8 154.3 M230.8 154.3 L233.0 153.7 M218.9 188.4 L222.6 189.7 L226.4 190.8 L230.4 190.7 M218.7 203.4 L220.4 203.4 M230.4 190.7 L230.3 193.0 M230.3 193.0 L226.9 194.7 L225.6 198.5 L223.6 201.5 L220.4 203.4 M243.2 143.8 L246.1 144.0 M251.8 156.4 L252.9 152.6 L253.0 150.3 M251.8 156.4 L246.6 157.3 M259.0 159.7 L255.7 157.3 L251.8 156.4 M182.0 129.1 L183.8 125.6 L183.6 121.6 M182.0 129.1 L186.3 129.2 L190.0 131.2 L193.8 132.9 M183.6 121.6 L188.3 120.9 L192.4 119.5 M193.8 132.9 L192.8 128.4 L192.2 123.9 L192.8 119.8 M181.6 129.4 L182.0 129.1 M181.7 119.4 L183.6 121.6 M194.5 133.6 L193.8 132.9 M203.5 127.2 L201.9 123.0 L201.3 122.4 M201.3 122.4 L201.3 122.4 M438.0 414.4 L436.2 410.2 L435.0 405.8 L434.2 401.4 M438.0 414.4 L443.0 414.5 L448.0 415.2 M450.0 413.4 L448.0 415.2 M450.0 413.4 L450.3 408.2 L450.2 403.0 M450.2 403.0 L446.9 401.9 L443.6 400.5 L440.4 399.3 M434.2 401.4 L440.4 399.3 M435.3 426.9 L436.1 421.9 L435.1 416.9 M447.5 424.0 L447.4 419.6 L448.0 415.2 M435.1 416.9 L438.0 414.4 M462.6 416.9 L458.7 414.6 L454.0 415.2 L450.0 413.4 M452.3 401.4 L450.2 403.0 M442.0 389.6 L440.0 394.2 L440.4 399.3 M432.8 401.1 L434.2 401.4 M432.8 401.1 L430.4 398.6 M430.4 398.6 L431.0 393.3 L429.2 388.3 M227.7 216.3 L223.6 217.6 L220.2 220.2 M227.7 216.3 L227.4 211.9 L226.6 207.6 M215.2 212.9 L218.0 216.2 L219.9 220.2 M226.6 207.6 L224.0 204.8 L220.4 203.4 M220.2 220.2 L219.9 220.2 M235.7 219.2 L231.4 218.4 L227.7 216.3 M235.1 226.0 L231.0 228.5 L227.2 231.5 M220.2 220.2 L222.5 224.0 L226.0 227.1 L227.2 231.5 M204.4 218.7 L206.6 221.5 L208.8 224.3 L211.0 227.3 M219.9 220.2 L216.2 221.6 L213.7 224.6 L211.0 227.3 M229.9 239.3 L228.2 235.9 L226.9 232.4 M227.2 231.5 L226.9 232.4 M235.8 219.2 L238.5 215.0 L239.6 210.2 M226.6 207.6 L231.2 205.5 L236.2 204.3 M239.6 210.2 L236.2 204.3 M230.3 193.0 L232.5 196.2 L235.4 199.0 L236.4 202.9 M236.2 204.3 L236.4 202.9 M284.6 211.3 L281.7 208.6 L278.5 206.3 L276.1 203.1 M289.8 195.3 L289.4 195.4 L285.7 195.5 L282.0 195.1 M276.1 203.1 L278.3 198.5 L282.0 195.1 M286.0 179.7 L282.1 182.4 L280.2 186.8 M268.7 172.4 L270.2 175.8 L270.1 179.4 L270.1 183.0 M270.1 183.0 L273.2 184.8 L276.6 186.1 L280.2 186.8 M282.0 195.1 L281.9 190.8 L280.2 186.8 M233.2 187.4 L237.9 186.8 L242.4 187.7 M233.2 187.4 L232.6 183.4 L230.5 179.9 L229.9 176.0 M242.4 187.7 L247.0 185.2 L250.3 181.2 M242.2 169.3 L238.9 171.0 L235.0 169.7 L231.8 171.6 M242.2 169.3 L245.7 171.0 L247.6 174.7 L250.7 176.9 M250.7 176.9 L250.3 181.2 M229.9 176.0 L231.8 171.6 M230.4 190.7 L233.2 187.4 M245.1 197.5 L241.0 200.6 L236.4 202.9 M245.1 197.5 L243.5 192.7 L242.4 187.7 M219.2 178.6 L222.6 176.9 L226.4 177.0 L229.9 176.0 M244.4 159.0 L243.2 164.1 L242.2 169.3 M228.6 167.2 L231.8 171.6 M261.7 170.3 L258.0 172.5 L254.4 174.8 L250.7 176.9 M261.8 193.1 L265.1 190.2 L266.5 185.7 L270.1 183.0 M261.8 193.1 L258.1 191.0 L256.3 186.9 L253.9 183.5 L250.3 181.2 M296.2 253.5 L292.9 251.4 L290.8 248.1 M296.2 253.5 L296.3 257.2 M296.3 257.2 L293.2 259.6 L291.0 262.7 M290.8 248.1 L287.3 248.3 L284.1 250.3 L280.5 250.2 M280.5 250.2 L281.0 253.7 L280.9 257.4 L281.9 260.8 L283.1 264.2 M291.0 262.7 L287.2 263.6 L283.3 264.3 M283.1 264.2 L283.3 264.3 M292.0 236.4 L291.4 240.3 L290.2 244.1 L290.8 248.1 M307.1 244.6 L303.9 246.2 L300.9 248.1 L298.9 251.3 L296.2 253.5 M305.0 261.5 L300.9 259.0 L296.3 257.2 M305.3 273.2 L301.6 272.2 L297.8 273.2 M297.8 273.2 L295.6 269.6 L293.8 265.9 L291.0 262.7 M277.7 248.3 L280.5 250.2 M272.0 264.1 L275.7 265.0 L279.4 263.7 L283.1 264.2 M292.0 278.6 L294.6 275.6 L297.8 273.2 M292.0 278.6 L290.7 278.7 M283.2 269.8 L283.3 264.3 M273.5 281.1 L274.5 281.0 M359.1 344.4 L358.1 343.5 M358.1 343.5 L353.7 343.7 L349.8 345.6 L345.5 346.2 M352.3 361.4 L348.9 359.0 L346.4 355.5 L342.6 353.7 M345.5 346.2 L344.3 350.1 L342.6 353.7 M268.8 297.7 L274.4 299.6 M283.1 285.5 L284.4 289.8 M274.4 299.6 L277.9 296.5 L281.3 293.2 L284.4 289.8 M584.3 338.2 L584.6 341.1 M596.3 345.7 L593.7 346.4 M593.7 346.4 L589.5 343.2 L584.6 341.1 M411.8 344.0 L418.1 341.3 M411.8 344.0 L412.7 350.4 M418.1 341.3 L420.3 344.2 L423.8 345.4 M412.7 350.4 L415.5 352.9 L419.0 354.1 M419.0 354.1 L421.7 350.6 L424.2 346.9 M424.2 346.9 L423.8 345.4 M406.6 341.5 L411.8 344.0 M418.8 335.4 L418.1 341.3 M403.9 357.2 L406.2 354.0 L410.1 353.1 L412.7 350.4 M430.2 337.9 L426.3 341.0 L423.8 345.4 M419.7 357.9 L419.0 354.1 M433.5 351.8 L428.4 350.2 L424.2 346.9 M380.1 328.1 L376.2 327.9 L372.4 327.6 L368.5 327.4 M380.1 328.1 L379.0 331.7 L378.3 335.3 L377.8 339.0 M377.8 339.0 L374.1 341.4 M374.1 341.4 L372.5 338.1 L369.0 336.3 L366.8 333.6 L365.6 330.0 M365.6 330.0 L368.5 327.4 M386.8 340.6 L382.1 340.8 L377.8 339.0 M373.4 343.4 L374.1 341.4 M358.1 343.5 L358.9 339.3 L358.8 335.0 L359.3 330.8 M359.3 330.8 L365.6 330.0 M392.8 331.9 L389.4 328.8 L385.6 326.5 M389.3 319.9 L387.7 322.4 L385.6 326.5 M380.1 328.1 L382.3 326.5 M385.6 326.5 L382.3 326.5 M470.5 359.6 L475.9 363.9 M477.0 348.3 L480.2 350.8 L484.5 351.0 L487.6 353.6 M487.6 353.6 L483.8 355.2 L482.2 359.3 L479.0 361.5 L475.9 363.9 M476.4 367.3 L476.6 366.5 M476.6 366.5 L475.9 363.9 M503.7 348.2 L503.9 348.3 L507.1 350.7 M507.3 347.9 L507.2 350.6 M507.1 350.7 L507.2 350.6 M487.7 353.6 L487.6 353.6 M487.7 353.6 L489.3 348.9 L491.2 347.0 M517.3 335.5 L514.7 337.2 M520.4 350.7 L516.0 350.9 L511.6 350.8 L507.2 350.6 M626.1 400.1 L624.4 396.7 L623.7 393.0 M639.1 386.9 L634.6 385.9 M634.6 385.9 L631.3 388.7 L626.8 389.8 L623.7 393.0 M614.1 391.2 L614.8 390.8 L619.7 389.6 M623.7 393.0 L619.7 389.6 M595.6 361.0 L591.7 360.4 M593.7 346.4 L593.3 350.3 L590.5 353.2 L589.7 356.9 M591.7 360.4 L589.7 356.9 M600.7 372.6 L597.0 373.6 L594.3 376.4 M600.7 372.6 L601.6 369.8 M591.7 360.4 L588.3 362.7 L587.6 367.1 L584.5 369.7 M584.5 369.7 L587.0 373.0 L591.7 373.2 L594.3 376.4 M595.1 381.3 L593.8 380.2 M592.8 381.3 L593.8 380.2 M606.7 381.5 L606.9 380.9 M606.9 380.9 L603.7 376.8 L600.7 372.6 M593.8 380.2 L594.3 376.4 M236.4 366.3 L236.1 362.6 L235.1 359.2 L233.6 355.9 M236.4 366.3 L232.3 367.4 L228.4 369.3 L224.1 369.7 L219.8 370.5 M233.6 355.9 L228.3 355.0 L223.9 352.1 M219.8 370.5 L220.1 365.7 L218.3 361.5 L217.0 357.1 M217.0 357.1 L220.3 354.3 L223.9 352.1 M241.3 369.7 L236.4 366.3 M241.3 345.6 L239.2 349.4 L237.1 353.2 L233.6 355.9 M217.3 374.2 L219.8 370.5 M222.1 335.5 L222.3 339.7 L223.9 343.7 L224.6 347.8 L223.9 352.1 M203.6 353.0 L207.8 355.5 L212.5 356.0 L217.0 357.1 M406.0 434.4 L409.1 431.8 L412.5 429.5 L414.9 426.1 M424.3 429.8 L423.1 428.4 M414.9 426.1 L419.0 427.1 L423.1 428.4 M435.1 416.9 L430.3 415.8 L425.3 415.4 M423.1 428.4 L424.8 424.2 L425.6 419.9 L425.3 415.4 M432.8 401.1 L430.0 403.5 L428.9 407.4 L425.7 409.6 L423.2 412.4 M425.3 415.4 L423.2 412.4 M403.6 390.2 L407.8 389.4 L412.0 389.0 L416.2 389.1 M403.6 390.2 L404.4 385.8 L404.6 381.3 M409.3 378.7 L404.6 381.3 M409.3 378.7 L412.5 381.4 L413.3 385.8 L416.5 388.6 M416.5 388.6 L416.2 389.1 M396.3 378.0 L400.3 379.9 L404.6 381.3 M401.7 392.3 L403.6 390.2 M411.4 373.0 L409.3 378.7 M421.8 385.5 L416.5 388.6 M430.4 398.6 L425.9 399.5 L421.3 399.5 L416.8 398.4 M416.8 398.4 L416.0 393.8 L416.2 389.1 M216.7 242.3 L218.3 238.5 L219.0 234.4 M216.7 242.3 L212.9 242.6 L209.4 240.9 M219.0 234.4 L214.4 232.0 L210.8 228.3 M209.4 240.9 L206.7 237.8 L205.5 233.8 M205.5 233.8 L208.2 231.0 L210.8 228.3 M218.7 245.4 L216.7 242.3 M226.9 232.4 L223.2 234.3 L219.0 234.4 M202.9 253.0 L205.4 249.2 L208.1 245.4 L209.4 240.9 M211.0 227.3 L210.8 228.3 M204.1 233.9 L205.5 233.8 M274.3 203.2 L271.0 201.6 L268.3 199.2 L265.6 196.8 L262.0 195.8 M274.3 203.2 L271.9 206.5 L270.5 210.4 L269.2 214.3 L266.1 217.1 M262.0 195.8 L258.4 199.5 L254.1 202.3 M266.1 217.1 L262.1 216.2 L258.0 215.6 L254.2 213.8 M254.1 202.3 L254.4 206.2 L252.6 209.8 M254.2 213.8 L252.6 209.8 M261.8 193.1 L262.0 195.8 M276.1 203.1 L274.3 203.2 M267.3 219.8 L266.1 217.1 M245.1 197.5 L250.2 198.8 L254.1 202.3 M250.5 221.5 L251.8 217.3 L254.2 213.8 M239.6 210.2 L243.9 209.7 L248.3 210.6 L252.6 209.8 M332.8 331.6 L336.4 328.9 L340.3 326.6 M332.8 331.6 L333.2 337.3 M343.4 341.2 L339.6 341.0 L336.5 338.7 L333.2 337.3 M343.4 341.2 L344.6 337.7 L344.7 333.8 L346.9 330.7 M340.3 326.6 L343.9 328.2 L346.9 330.7 M359.3 330.8 L355.2 327.6 M345.5 346.2 L343.4 341.2 M346.9 330.7 L350.7 328.2 L355.2 327.6 M340.3 326.6 L338.5 322.3 L338.7 317.6 M354.7 320.7 L355.2 327.6 M354.7 320.7 L351.4 318.9 L347.5 318.8 L344.2 316.9 L340.9 315.3 M340.9 315.3 L338.7 317.6 M306.4 274.1 L307.6 277.6 M323.9 276.3 L323.6 279.8 M307.6 277.6 L311.4 278.4 L315.3 278.1 L318.6 281.1 L322.6 280.7 M323.6 279.8 L322.6 280.7 M340.1 375.0 L336.5 372.7 L334.6 368.7 L331.4 366.0 M318.3 372.0 L320.0 368.9 M331.4 366.0 L327.6 366.8 L323.8 368.0 L320.0 368.9 M342.6 353.7 L336.8 356.0 M331.4 366.0 L332.3 362.2 L335.9 359.8 L336.8 356.0 M333.2 337.3 L330.4 340.1 L327.0 342.0 L324.2 344.8 M336.8 356.0 L334.0 352.7 L331.0 349.8 L327.4 347.6 L324.2 344.8 M295.7 319.0 L294.6 318.9 M295.7 319.0 L297.7 323.3 L300.8 326.8 M288.4 334.6 L292.3 333.7 L296.2 334.9 M288.4 334.6 L288.3 330.8 L287.3 327.1 M287.3 327.1 L290.2 324.8 L291.8 321.3 L294.6 318.9 M296.2 334.9 L298.5 330.8 L300.8 326.8 M294.6 363.0 L297.1 359.4 L298.3 355.2 M294.6 363.0 L290.7 363.8 L286.9 363.2 L283.0 362.3 L279.1 363.2 M298.3 355.2 L295.8 352.2 L292.1 350.9 L288.9 348.8 L286.0 346.4 L283.0 344.2 M283.0 344.2 L280.4 348.0 L277.3 351.4 L273.9 354.4 M279.1 363.2 L275.7 359.3 L273.9 354.4 M275.9 372.1 L277.1 367.5 L279.1 363.2 M297.8 374.2 L296.7 370.5 L296.2 366.6 L294.6 363.0 M271.0 354.1 L273.9 354.4 M276.3 336.0 L279.8 337.7 L283.0 339.9 M283.0 339.9 L283.0 344.2 M569.7 349.2 L574.1 349.0 L577.6 345.9 L581.8 345.4 M569.7 349.2 L572.5 351.8 L574.6 355.0 L577.6 357.4 M581.8 345.4 L584.4 349.8 L585.0 354.8 M577.6 357.4 L581.6 356.9 L585.0 354.8 M569.5 349.1 L569.7 349.2 M584.6 341.1 L581.8 345.4 M563.8 363.9 L568.0 362.4 L572.4 363.4 L576.7 362.9 M576.7 362.9 L577.6 357.4 M589.7 356.9 L585.0 354.8 M576.7 362.9 L579.1 366.8 L582.0 370.4 M584.5 369.7 L582.0 370.4 M376.1 314.9 L378.3 313.5 M376.1 314.9 L370.1 314.3 M370.1 314.3 L369.7 313.9 M369.4 313.1 L371.4 310.1 M369.4 313.1 L369.7 313.9 M382.3 326.5 L380.2 322.6 L377.2 319.3 L376.1 314.9 M368.5 327.4 L369.7 323.1 L369.3 318.6 L370.1 314.3 M356.3 318.0 L354.7 320.7 M356.3 318.0 L359.6 317.0 L363.1 316.4 L366.1 314.4 L369.7 313.9 M366.0 308.8 L367.1 309.4 L369.4 313.1 M354.1 307.6 L353.9 311.3 L356.5 314.3 L356.3 318.0 M354.1 307.6 L357.7 306.3 L358.8 305.4 M487.7 353.6 L490.8 356.9 L492.9 361.0 M476.6 366.5 L480.2 368.4 L484.3 366.6 L487.9 368.3 M492.9 361.0 L490.1 364.4 L487.9 368.3 M479.1 377.2 L484.0 376.2 L488.9 375.0 M487.9 368.3 L488.9 375.0 M488.4 387.5 L489.3 384.1 L490.0 380.6 L491.2 377.2 M502.7 388.5 L502.4 384.4 L501.4 380.4 L502.1 376.3 M502.1 376.3 L498.4 376.1 L494.9 378.0 L491.2 377.2 M488.9 375.0 L491.2 377.2 M629.7 374.8 L628.3 378.6 M629.7 374.8 L628.5 370.4 L626.5 366.4 M628.3 378.6 L623.9 380.1 L619.8 382.1 M626.5 366.4 L622.3 366.9 L619.3 369.8 L615.6 371.2 M615.6 371.2 L615.5 377.8 M615.5 377.8 L619.8 382.1 M644.8 373.5 L640.9 373.1 L637.3 374.9 L633.5 374.7 L629.7 374.8 M634.6 385.9 L632.2 381.6 L628.3 378.6 M628.2 362.0 L626.5 366.4 M619.7 389.6 L619.0 385.8 L619.8 382.1 M610.8 366.7 L615.6 371.2 M606.9 380.9 L610.8 378.2 L615.5 377.8 M576.4 374.4 L580.1 373.1 M576.4 374.4 L574.2 378.1 L572.1 381.9 L572.0 382.0 M580.1 373.1 L580.8 377.6 L584.2 381.2 L584.2 381.2 M563.9 368.6 L568.4 369.8 L572.2 372.6 L576.4 374.4 M582.0 370.4 L580.1 373.1 M422.4 412.1 L418.6 414.3 L414.1 414.9 L410.4 417.2 M422.4 412.1 L420.8 407.8 L418.4 404.0 L415.2 400.7 M415.2 400.7 L409.4 402.6 M409.4 402.6 L409.9 406.2 L409.3 409.8 L408.4 413.4 L409.8 416.9 M409.8 416.9 L410.4 417.2 M414.9 426.1 L413.6 421.1 L410.4 417.2 M423.2 412.4 L422.4 412.1 M416.8 398.4 L415.2 400.7 M408.5 402.3 L409.4 402.6 M404.1 417.9 L409.8 416.9 M292.0 278.6 L293.4 282.6 L296.0 285.6 L298.9 288.6 M307.6 277.6 L306.5 282.4 M306.5 282.4 L302.6 285.4 L298.9 288.6 M284.4 289.8 L288.3 291.3 L291.3 294.2 M291.3 294.2 L294.5 292.0 L298.2 290.9 M298.9 288.6 L298.2 290.9 M301.2 306.1 L301.6 310.9 L300.6 315.5 M301.2 306.1 L303.6 304.6 M303.6 304.6 L307.7 304.9 L311.0 307.3 M300.6 315.5 L305.3 315.9 L309.5 318.1 M311.0 307.3 L313.5 313.7 M309.5 318.1 L313.5 313.7 M291.3 294.2 L291.4 299.5 L289.7 304.5 M289.7 304.5 L293.7 303.8 L297.3 305.9 L301.2 306.1 M304.0 296.6 L300.3 294.6 L298.2 290.9 M304.0 296.6 L303.4 300.5 L303.6 304.6 M295.7 319.0 L300.6 315.5 M309.5 325.6 L309.9 321.9 L309.5 318.1 M309.5 325.6 L309.1 326.0 M309.1 326.0 L304.9 325.6 L300.8 326.8 M318.3 314.4 L319.7 318.4 L322.5 321.6 L324.0 325.5 M318.3 314.4 L321.5 310.9 L325.7 308.7 M325.7 308.7 L328.5 311.3 L331.0 314.2 L332.4 317.8 M332.4 317.8 L329.5 319.9 L327.8 323.4 L324.7 325.4 M324.7 325.4 L324.0 325.5 M309.5 325.6 L313.5 327.0 L317.8 326.5 L322.0 327.1 M322.0 327.1 L324.0 325.5 M313.5 313.7 L318.3 314.4 M332.8 331.6 L329.4 327.6 L324.7 325.4 M338.7 317.6 L332.4 317.8 M317.3 299.8 L314.4 293.4 M317.3 299.8 L321.5 301.1 L325.6 302.7 M325.6 302.7 L326.6 298.1 L329.3 294.3 M329.3 294.3 L327.3 291.0 L323.9 289.4 L320.9 287.2 M320.9 287.2 L317.5 289.0 L314.9 291.9 M314.9 291.9 L314.4 293.4 M304.0 296.6 L307.7 296.4 L310.7 293.6 L314.4 293.4 M311.0 307.3 L313.5 302.9 L317.3 299.8 M325.7 308.7 L326.6 304.8 M326.6 304.8 L325.6 302.7 M322.6 280.7 L320.9 287.2 M306.5 282.4 L309.6 285.3 L311.4 289.4 L314.9 291.9 M335.8 290.5 L336.2 291.3 M338.2 292.0 L336.2 291.3 M323.6 279.8 L324.6 280.3 M329.3 294.3 L332.3 291.7 L336.2 291.3 M298.5 355.1 L300.6 351.9 L300.8 348.0 L302.1 344.5 L303.1 341.0 M298.5 355.1 L302.6 354.6 L306.3 357.0 L310.4 356.4 L314.2 357.5 M314.2 357.5 L316.2 354.5 L316.4 350.6 L318.1 347.4 L320.5 344.5 M309.7 338.9 L303.1 341.0 M309.7 338.9 L314.2 340.1 L318.5 341.9 M318.5 341.9 L320.5 344.5 M283.0 339.9 L286.5 338.1 L288.4 334.6 M296.2 334.9 L299.1 338.5 L303.1 341.0 M298.3 355.2 L298.5 355.1 M320.0 368.9 L318.1 365.1 L317.2 360.8 L314.2 357.5 M324.2 344.8 L320.5 344.5 M309.1 326.0 L310.1 330.3 L308.8 334.6 L309.7 338.9 M322.0 327.1 L321.7 331.0 L321.2 334.8 L318.7 338.1 L318.5 341.9 M289.2 305.0 L288.8 308.6 L288.6 312.3 M289.2 305.0 L285.4 303.4 L281.4 302.7 L277.3 303.0 M288.6 312.3 L284.9 314.9 L281.3 317.7 L277.0 319.2 M277.3 303.0 L275.6 306.2 L274.7 309.6 L275.6 313.4 L274.7 316.8 M274.7 316.8 L276.6 319.1 M276.6 319.1 L277.0 319.2 M289.7 304.5 L289.2 305.0 M294.6 318.9 L291.6 315.6 L288.6 312.3 M274.4 299.6 L277.3 303.0 M287.3 327.1 L284.3 323.9 L280.4 321.8 L277.0 319.2 M270.7 315.7 L274.7 316.8 M273.8 324.7 L276.6 319.1 M505.0 356.9 L501.2 359.4 L497.3 361.9 M505.0 356.9 L508.0 360.0 L511.0 363.2 L513.9 366.3 M497.3 361.9 L499.5 364.8 L499.3 368.9 L502.9 371.1 L503.2 374.9 M503.2 374.9 L507.4 374.2 L511.4 373.1 M511.4 373.1 L512.3 369.6 L513.9 366.3 M507.1 350.7 L505.0 356.9 M492.9 361.0 L497.3 361.9 M516.7 365.4 L513.9 366.3 M502.1 376.3 L503.2 374.9 M516.8 378.3 L514.9 374.9 L511.4 373.1 M347.1 298.4 L341.8 296.5 M347.1 298.4 L349.8 302.0 L350.7 306.4 M341.8 296.5 L339.0 300.6 L337.2 305.2 M350.7 306.4 L347.6 308.7 L344.7 311.2 L341.2 312.9 M341.2 312.9 L339.9 308.7 L337.2 305.2 M347.4 298.2 L347.1 298.4 M339.9 293.2 L341.8 296.5 M354.1 307.6 L350.7 306.4 M326.6 304.8 L330.1 305.0 L333.6 305.5 L337.2 305.2 M340.9 315.3 L341.2 312.9 M133.7 350.9 L141.3 353.7 L145.2 354.5 M145.2 354.5 L146.1 354.7 L146.8 355.9 M146.8 355.9 L148.9 359.5 L147.0 364.2 L149.9 367.1 L143.2 372.8 L135.6 375.7 L129.9 376.6 L127.2 382.0 M127.2 382.0 L126.0 384.3 L121.0 386.1 M121.0 386.1 L118.4 387.1 L114.6 390.0 L112.7 395.7 M128.9 308.0 L130.8 308.9 L135.6 315.6 L128.9 320.4 M170.0 122.5 L171.9 122.3 M171.9 122.3 L174.7 122.0 L178.9 120.1 L181.7 119.4 M181.7 119.4 L185.6 118.4 L190.7 118.4 L193.2 120.1 L201.3 122.4 M201.3 122.4 L202.5 122.7 L209.2 124.7 M209.2 124.7 L211.0 125.2 L219.4 124.4 L222.0 123.4 M222.0 123.4 L226.2 121.8 L229.4 121.8 M229.4 121.8 L232.9 121.8 L236.3 119.3 M236.3 119.3 L243.1 115.9 L244.7 113.4 L251.5 111.7 L259.9 104.9 L264.8 102.4 L270.8 98.0 M270.8 98.0 L274.0 100.4 L275.6 106.8 L278.8 116.4 L282.0 122.0 L288.4 124.4 L293.2 127.6 L297.2 132.4 L294.8 136.4 L291.6 139.6 L292.4 146.8 L294.8 153.2 L298.0 158.8 L302.8 163.6 L306.8 164.4 M236.3 119.3 L239.7 129.8 L243.0 139.7 L243.8 140.8 M243.8 140.8 L250.0 149.2 L253.0 150.3 M253.0 150.3 L256.4 151.6 L262.0 156.4 L259.1 162.2 M259.1 162.2 L258.8 162.8 L257.2 171.0" fill="none" stroke="#fff" stroke-width="1.05" stroke-opacity="0.92" stroke-linejoin="round"/>
<path d="M77.9 454.3 L80.7 460.7 L82.1 467.9 L85.0 471.4 M69.3 467.9 L73.6 465.7 L77.1 465.0 L78.6 467.9 L85.0 471.4 M85.0 471.4 L83.6 477.1 L84.3 483.6 M85.0 471.4 L87.1 466.4 L92.9 463.6 L97.1 461.4 L95.7 455.7 L95.7 450.7 L98.6 446.4 M98.6 446.4 L97.1 440.7 M98.6 446.4 L100.0 451.4 L106.4 452.9 L108.6 451.4 M108.6 451.4 L110.7 443.6 L114.3 440.0 L115.7 435.0 M108.6 451.4 L110.0 456.4 L112.9 460.0 M112.9 460.0 L117.1 458.6 L118.6 457.1 M118.6 457.1 L122.9 455.7 M122.9 455.7 L130.0 453.6 M130.0 453.6 L132.2 451.8 M132.2 451.8 L132.8 451.2 M132.8 451.2 L134.3 450.0 M112.9 460.0 L110.0 465.0 M110.0 465.0 L106.4 467.9 L102.9 471.4 M102.9 471.4 L98.6 473.6 L91.4 475.0 L87.1 473.6 L85.0 471.4 M102.9 471.4 L105.0 477.9 L103.6 483.6 M103.6 483.6 L106.4 486.4 L110.7 489.3 L112.1 493.6 M103.6 483.6 L100.7 486.4 M100.7 486.4 L97.1 485.0 L93.6 488.6 L90.0 489.3 M100.7 486.4 L104.3 490.7 L104.3 495.7 M118.6 457.1 L120.0 463.6 M120.0 463.6 L118.6 469.3 L121.4 472.1 M121.4 472.1 L119.3 477.9 L121.4 482.1 L122.1 487.9 M122.9 455.7 L127.1 460.7 L124.3 465.0 L121.4 472.1 M110.0 465.0 L115.7 462.9 L120.0 463.6 M130.0 453.6 L130.1 452.8 M130.1 452.8 L131.6 445.0 M131.6 445.0 L132.1 442.1 L131.9 441.2 M131.9 441.2 L130.0 433.6 L127.9 427.9 M134.3 450.0 L139.3 455.0 M116.4 411.4 L124.3 412.9 L126.4 416.4 M126.4 416.4 L132.9 412.9 L136.4 409.3 M136.4 409.3 L140.7 410.7 L143.6 412.9 M143.6 412.9 L147.1 411.4 M147.1 411.4 L151.4 410.0 M151.4 410.0 L155.0 404.3 M126.4 416.4 L123.6 420.0 L127.9 424.3 M127.9 424.3 L130.0 420.7 L134.3 422.1 M134.3 422.1 L138.6 417.9 L143.6 412.9 M151.4 410.0 L150.0 415.7 L151.4 421.4 L153.6 428.6 M153.6 428.6 L155.7 431.4 M155.7 431.4 L158.6 427.1 M158.6 427.1 L157.9 420.0 L160.0 415.7 M160.0 415.7 L163.6 412.9 M127.9 424.3 L128.6 428.6 L131.4 432.9 L132.1 438.6 L131.9 441.2 M131.9 441.2 L131.6 445.0 M131.6 445.0 L131.4 447.1 L132.8 451.2 M132.8 451.2 L132.9 451.4 L132.2 451.8 M132.2 451.8 L130.1 452.8 M130.1 452.8 L130.0 452.9 L125.7 454.3 M134.3 422.1 L135.7 428.6 L134.3 432.1 L137.1 435.7 M137.1 435.7 L141.4 435.0 L142.9 430.7 L147.1 429.3 L151.4 432.9 L153.6 428.6 M137.1 435.7 L139.3 440.0 L144.3 442.1 M144.3 442.1 L150.0 440.0 M150.0 440.0 L154.3 437.1 L155.7 431.4 M144.3 442.1 L142.9 447.1 L141.4 452.9 L139.3 457.1 M150.0 440.0 L151.4 444.3 L147.1 447.1 L146.4 451.4 L150.0 453.6 L154.3 450.0 L158.6 446.4 M158.6 446.4 L162.9 444.3 M162.9 444.3 L164.3 440.0 M164.3 440.0 L162.9 435.7 L158.6 432.9 L155.7 431.4 M164.3 440.0 L170.0 437.1 L175.7 435.7 M175.7 435.7 L181.4 435.7 M162.9 444.3 L165.7 450.0 M165.7 450.0 L167.9 455.7 M167.9 455.7 L170.0 452.9 L172.1 448.6 M172.1 448.6 L175.7 442.9 L176.4 437.1 M158.6 446.4 L157.1 451.4 L154.3 455.7 L152.9 460.0 L157.1 464.3 L160.7 467.9 L165.0 467.1 M167.9 455.7 L167.1 461.4 L167.9 465.7 M147.1 477.1 L152.9 477.9 L157.1 475.7 L162.9 476.4 L167.1 477.1 M150.0 488.6 L154.3 490.0 L158.6 492.9 L161.4 488.6 M115.0 440.0 L115.7 435.0 M165.0 429.8 L167.2 424.3 L171.7 425.4 M145.1 468.5 L154.0 470.7 L160.6 468.5 L165.0 467.4 M151.7 495.1 L158.4 497.3 L163.9 495.1 M115.6 406.7 L123.0 407.7 L127.4 409.9 L126.4 416.4 M136.4 409.3 L137.0 402.0 L136.0 397.0 M147.1 411.4 L146.0 405.0 L147.0 401.0 M176.4 437.1 L175.7 435.7 M139.3 457.1 L139.6 459.7 M84.3 483.6 L84.0 487.0 M122.1 487.9 L122.0 490.0 M167.1 477.1 L167.4 477.2 M147.1 477.1 L146.5 478.0 M69.3 467.9 L67.0 467.5 M90.0 489.3 L88.6 490.0 M158.6 427.1 L163.0 425.0 L168.3 419.8 M172.1 448.6 L178.0 450.0 L181.6 451.9" fill="none" stroke="#fbd3b4" stroke-width="1.25" stroke-linecap="round" stroke-linejoin="round"/>
<circle cx="253.6" cy="289" r="2.1" fill="#f6eeee"/>
<path d="M655 383 L656.5 388 L654.5 393 L656 398 L659 401 M659.5 381.5 L661 387 L659.5 392 L661.5 396 L660 401 M655 388 L661 387 M654.5 393 L660 392 M656 398 L661.5 396" fill="none" stroke="#fff" stroke-width="0.9" stroke-opacity=".9"/>
</g>
<path d="M212.9 188.6 L215.5 187.0 L218.6 186.4 L223.6 184.3 L224.3 178.6 L222.8 175.4 L221.4 172.1 L224.4 171.5 L227.1 170.0 L230.2 168.1 L232.9 165.7 L235.9 165.0 L238.6 163.6 L241.8 163.1 L245.0 162.9 L248.6 167.1 L251.2 169.6 L254.3 171.4 L258.0 174.0 L262.8 172.4 L266.8 170.0 L270.8 174.0 L272.8 177.2 L274.8 180.4 L279.6 178.0 L282.8 176.4 L282.7 180.1 L281.2 183.6 L284.4 182.0 M212.9 188.6 L214.9 191.5 L217.1 194.3 L219.6 196.1 L221.4 198.6 L225.0 202.9 L225.8 206.7 L227.9 210.0 L228.7 213.5 L230.7 216.4 L235.0 212.9 L237.9 217.1 L239.6 219.6 L241.0 222.2 L242.9 224.6 L244.7 228.3 L248.3 230.1 L252.0 233.7 L255.6 237.4 L258.6 238.3 L261.1 240.1 L266.5 240.1 M266.5 240.1 L266.4 236.3 L267.7 232.7 L268.0 229.0 L269.0 225.8 L271.0 223.0 L274.7 221.3 L278.0 219.0 L280.0 217.7 L284.1 218.9 L288.3 219.7 L292.0 220.1 L295.6 220.8 L296.6 218.7 M266.5 240.1 L267.6 243.4 L270.0 246.0 L269.4 249.3 L268.3 252.6 L268.0 256.0 L270.2 259.7 L273.0 263.0 L276.2 260.2 L280.0 258.2 L283.4 259.1 L286.2 261.3 L288.7 264.5 L291.4 267.5 L295.6 267.5 L291.4 271.7 L295.4 273.8 L298.7 276.9 L301.9 278.8 L304.6 281.6 L308.1 283.1 L312.2 283.7 L316.4 283.1 L319.8 284.1 L322.6 286.2 M175.5 250.1 L176.4 253.7 L180.5 254.6 L184.6 254.1 L187.7 255.4 L191.0 255.6 L195.5 253.7 L201.0 255.6 L203.5 257.7 L206.5 259.2 L208.3 263.8 L211.0 259.2 L214.1 258.3 L217.4 258.3 L221.1 258.5 L224.7 259.2 L230.1 257.4 L231.9 251.9 L235.6 248.3 L241.1 247.4 L244.0 245.4 L246.5 242.8 L248.3 238.3 L247.9 235.0 L246.5 231.9 L244.7 228.3 M191.0 255.6 L191.0 261.0 L191.3 265.2 L192.8 269.2 L196.0 269.3 L199.2 269.8 L201.7 271.8 L204.6 272.9 L207.7 274.1 L211.0 273.8 L212.6 277.3 L213.7 281.1 L215.2 284.9 L217.4 288.3 L219.4 290.6 L221.4 292.8 L222.8 295.6 L225.7 298.2 L228.3 301.1 L225.6 304.7 L226.5 310.2 L231.0 310.2 L231.9 304.7 L237.4 303.8 L242.9 304.7 L246.5 301.1 L247.5 304.9 L249.2 308.4 L250.3 311.9 L250.2 315.6 L253.7 316.9 L257.4 317.8 M266.5 240.1 L263.6 242.1 L261.1 244.6 L258.3 247.9 L256.5 251.9 L256.3 255.2 L254.0 257.8 L253.8 261.0 L253.3 264.6 L254.5 268.3 L253.8 271.9 L253.6 275.0 L253.9 278.1 L254.7 281.1 L256.1 284.1 L255.8 287.7 L257.6 290.6 L258.3 293.8 L262.0 297.4 L262.9 302.9 L261.1 308.4 L257.4 312.0 L257.4 317.8 M257.4 317.8 L258.3 313.2 L260.3 315.8 L261.5 318.8 L263.3 321.5 L264.2 325.9 L266.6 329.8 L263.9 332.1 L261.6 334.8 L263.3 339.8 L266.6 338.9 L269.9 338.1 L273.8 339.4 L277.4 341.2 M192.5 429.9 L194.5 426.4 L197.5 423.6 L198.8 420.8 L199.8 418.0 L200.0 414.9 L199.0 411.6 L198.0 408.3 L197.5 404.9 L197.4 401.5 L197.6 398.2 L198.7 394.9 L198.9 391.7 L200.0 388.7 L203.0 387.6 L206.2 387.4 L208.7 391.2 L213.0 392.4 L217.4 392.4 L220.8 393.9 L223.7 396.2 L223.5 400.6 L222.4 404.9 L219.9 408.3 L218.7 412.4 L216.2 416.1 L219.9 416.1 L222.4 413.3 L223.7 409.9 L226.5 407.5 L229.9 406.2 L233.2 405.5 L236.7 406.1 L239.9 404.9 L243.7 406.0 L247.4 407.4 L247.6 403.0 L247.4 398.7 L247.1 394.3 L246.1 389.9 L248.7 388.0 L250.6 385.2 L253.6 383.7 L258.6 381.2 L258.6 376.2 L255.4 376.4 L252.4 377.4 L248.7 376.9 L244.9 377.4 L242.4 375.6 L239.9 373.7 L239.1 370.6 L238.7 367.5 L241.4 365.2 L243.6 362.5 L246.5 361.5 L249.0 359.8 L251.1 357.5 L253.8 355.4 L257.2 354.5 L259.9 352.5 L263.2 350.4 L267.0 349.0 L269.9 346.2 L272.8 345.2 L274.9 342.8 L277.4 341.2 L280.5 341.0 L283.4 340.1 L286.1 338.7 L289.2 338.9 L291.9 340.2 L294.8 341.2 L296.7 344.8 L299.8 347.5 L300.2 350.6 L299.8 353.7 L298.0 357.5 L296.1 361.2 L295.1 364.1 L294.7 367.1 L293.6 370.0 L289.8 373.7 L286.6 373.9 L283.6 374.9 M284.8 377.4 L283.5 380.9 L281.6 384.1 L279.9 387.4 L280.2 390.7 L281.3 394.0 L281.1 397.4 L282.3 400.6 L283.6 403.7 L286.6 405.0 L289.8 404.9 L292.9 405.6 L296.1 406.2 L296.7 402.5 L297.3 398.7 L296.5 395.4 L294.8 392.4 L292.9 388.7 L291.1 384.9 L290.1 381.2 L289.8 377.4 M283.6 374.9 L286.4 376.8 L289.8 377.4 L293.0 377.2 L296.1 377.4 L298.9 379.7 L302.3 381.2 L306.1 381.4 L309.8 382.4 L313.1 381.1 L316.3 379.6 L319.8 378.7 L323.6 377.5 L327.3 376.2 L330.3 378.9 L332.3 382.4 L336.1 382.9 L339.8 383.7 L343.2 384.3 L346.6 384.7 L349.7 386.3 L353.4 384.2 L356.4 381.3 L358.8 383.5 L362.2 384.2 L364.7 386.3 L367.1 388.2 L369.7 389.7 L372.3 391.2 L374.7 393.0 L377.6 394.0 L380.4 394.9 L383.5 395.1 L386.3 396.3 L386.9 399.6 L387.0 402.9 L386.5 406.3 L387.0 409.7 L388.0 412.9 L391.2 414.2 L394.6 414.6 L397.2 412.8 L400.3 411.8 L402.6 409.5 L403.0 405.2 L401.8 401.1 L405.1 398.6 M413.6 321.8 L413.9 325.3 L415.3 328.5 L417.4 331.7 L418.6 335.3 L420.6 338.3 L423.7 340.4 L426.2 342.9 L423.1 343.9 L420.0 344.4 L416.9 345.4 L415.3 348.8 L420.3 351.3 L418.6 354.7 L421.5 356.2 L424.0 358.2 L426.2 360.6 L428.8 363.0 L431.3 365.6 L427.2 367.3 L422.9 368.2 L419.7 369.6 L416.8 371.7 L413.6 373.2 L410.9 375.1 L408.1 376.9 L405.1 378.3 L403.4 381.5 L400.9 384.2 L401.4 388.5 L402.6 392.7 L403.3 395.9 L405.1 398.6 M405.1 398.6 L409.3 398.1 L413.6 397.7 L416.9 396.0 L422.0 398.6 L425.2 401.3 L428.8 403.6 L432.3 401.7 L435.5 399.4 L440.6 401.1 L444.1 400.1 L447.3 398.6 L450.9 398.4 L454.1 396.9 L457.3 394.7 L460.0 391.8 L463.2 392.6 L465.9 394.4 L470.1 397.7 L474.4 401.1 L476.6 399.0 L479.4 397.7 L483.2 397.2 L487.0 396.9 L489.0 393.8 L491.2 391.0 L492.8 387.8 L492.9 384.2 L496.1 382.4 L498.8 380.0 L503.0 378.3 L507.3 380.0 M515.7 346.2 L516.6 351.3 L515.0 354.3 L512.3 356.4 L508.1 360.6 L509.8 365.6 L511.0 369.3 L513.2 372.4 L511.2 374.8 L509.8 377.5 L507.3 380.0 L510.0 382.5 L511.5 385.9 L510.7 391.0 L511.5 394.4 M511.5 394.4 L509.8 399.4 L508.0 400.0 L507.4 402.3 L505.1 405.8 L502.1 408.2 L500.4 412.3 L495.1 411.7 L493.4 416.9 L488.7 415.8 L484.0 416.4 L481.7 420.5 L478.9 422.3 L475.8 423.4 L471.0 426.4 L467.9 426.2 L465.1 424.7 L460.8 428.1 L461.7 434.0 L466.0 437.0 L470.0 438.0 L475.3 439.7 L474.7 443.2 L478.2 446.8 L481.1 449.1 L484.0 453.2 L485.2 456.7 L482.9 459.6 M394.6 414.6 L390.3 414.8 L386.3 416.2 L382.4 416.5 L378.5 416.4 L374.7 415.6 L371.4 416.4 L368.0 415.5 L364.7 415.5 L361.4 416.2 L359.8 419.4 L359.7 422.9 L362.9 424.8 L366.3 426.4 L369.7 427.9 L371.1 431.3 L373.0 434.5 L370.8 436.8 L368.5 438.9 L366.4 441.2 L364.4 444.8 L361.4 447.8 L358.8 449.7 L355.3 449.8 L352.4 451.1 L349.7 452.8 L346.6 455.7 L344.7 459.4 L343.9 460.0 L342.1 463.3 L341.0 466.9 L339.7 470.4 L338.8 474.1 L336.4 477.1 L335.6 480.8 M402.6 409.5 L404.2 412.1 L406.4 414.1 L408.5 416.3 L410.8 418.8 L414.1 420.2 L416.1 423.1 L416.1 426.5 L416.3 429.9 L416.9 433.2 L419.1 435.7 L421.2 438.2 L424.5 441.6 L423.1 444.3 L422.0 447.1 L420.3 449.6 L418.7 452.2 M418.7 452.2 L416.4 454.4 L413.9 456.3 L411.0 457.7 L408.9 461.1 L406.6 464.3 L406.4 467.4 L405.2 470.3 L404.3 473.2 L403.2 477.3 L401.0 480.9 L397.4 482.9 L393.8 484.9 L389.6 485.8 L385.5 487.0 L383.2 489.3 L380.3 490.8 L378.2 493.2 L378.9 496.7 L377.4 500.1 L378.2 503.6 L378.6 506.7 L379.4 509.8 L379.2 513.0 L382.9 513.9 L386.5 515.1 L385.5 519.2 L382.3 518.3 L379.2 517.1 L375.7 516.3 L373.0 514.0 L369.8 514.2 L366.8 515.1 L368.7 517.8 L370.9 520.3 L371.5 523.8 L372.1 527.2 L373.0 530.6 L373.4 535.0 L375.1 539.0 L374.1 543.2 L373.0 547.3 L370.2 549.3 L367.0 550.9 L364.7 553.5 L361.8 555.9 L360.2 559.4 L357.4 561.8 L356.9 565.6 L355.3 569.1 M418.7 452.2 L422.6 453.1 L426.5 453.3 L431.0 453.3 L435.3 454.4 L439.1 453.2 L443.1 453.3 L442.8 457.7 L442.0 462.1 L446.4 461.0 L449.6 462.2 L453.1 462.2 L456.4 463.2 L460.3 463.3 L464.1 462.1 L464.8 457.7 L465.2 453.3 L468.5 450.0 L470.0 452.0 L474.7 454.9 L479.3 457.3 L482.9 459.6 L487.5 461.9 L488.7 465.5 L492.2 465.5 L494.5 469.0 L498.6 471.3 L499.2 474.8 M335.6 480.8 L333.9 484.8 L333.5 489.1 L334.7 492.5 L334.5 496.1 L335.6 499.5 L334.5 502.9 L332.8 506.2 L332.5 509.9 L332.4 514.0 L332.5 518.2 L335.2 520.7 L337.7 523.4 L341.8 527.5 L337.7 531.7 L335.0 534.8 L331.4 536.9 L330.0 541.1 L328.3 545.2 M328.3 545.2 L330.7 547.3 L333.5 549.0 L335.6 551.4 L337.0 554.9 L339.7 557.7 L342.2 559.9 L344.9 561.8 L345.8 565.5 L347.0 569.1 L351.1 569.8 L355.3 569.1 L360.5 570.1 M360.5 570.1 L364.7 567.0 L368.7 565.3 L373.0 564.9 L375.7 563.5 L378.2 561.8 L378.7 558.7 L380.2 555.7 L380.3 552.5 L382.8 555.2 L385.5 557.7 L389.7 556.7 L393.8 555.6 L395.0 551.5 L394.8 547.3 L397.8 545.9 L401.0 545.1 L402.1 540.7 L405.2 538.9 L407.7 536.3 L410.5 538.4 L413.2 540.7 L415.8 543.1 L418.7 545.1 L424.3 544.0 L427.6 540.7 L430.7 539.7 L433.1 537.4 M192.5 429.9 L191.7 433.2 L190.7 436.5 L190.0 439.9 L189.1 443.8 L187.5 447.4 L185.0 450.1 L183.7 453.6 L184.0 458.0 L185.0 462.3 L188.3 463.4 M188.3 463.4 L190.4 465.0 L190.9 469.7 L193.5 472.3 L198.7 473.3 L202.2 474.5 L204.9 476.9 L210.1 478.8 L213.3 478.2 L216.4 479.0 L219.5 478.8 L222.6 478.2 L225.7 478.8 L229.4 480.1 L229.4 484.2 L231.9 486.8 L235.7 486.7 L239.2 485.3 L242.3 481.1 L242.7 478.0 L244.4 475.4 L247.5 473.0 L250.1 471.5 L252.7 469.9 L256.8 469.9 L260.8 470.4 L261.8 474.7 L263.9 478.7 L267.0 478.2 L270.1 478.4 L273.2 478.7 L276.6 477.1 L280.0 475.5 L283.6 474.5 L287.2 474.1 L290.5 475.1 L294.0 475.6 L296.5 473.6 L299.6 472.9 L302.3 471.4 L306.6 471.8 L310.6 473.5 L313.7 473.5 L316.9 473.9 L319.9 474.9 L323.1 474.5 L327.5 475.5 L331.4 477.7 L335.6 480.8 M108.4 395.4 L112.2 396.4 L116.2 396.0 L119.2 396.1 L122.2 395.5 L125.2 396.0 L129.5 397.0 L134.0 396.6 L137.0 397.6 L139.8 399.3 L142.9 400.0 L146.4 400.4 L149.7 401.6 L152.8 403.2 L156.2 400.0 L158.4 404.3 L160.1 407.1 L162.8 408.8 L163.9 414.3 L165.7 417.4 L168.3 419.8 L170.7 422.2 L171.7 425.4 L175.0 427.6 L178.3 429.8 L181.7 432.5 L184.9 435.3 L187.2 433.1 L189.6 431.2 L192.5 429.9 M188.3 463.4 L187.3 463.6 L182.3 465.9 L178.9 466.4 L175.9 468.2 L175.9 471.8 L175.0 476.4 L177.3 479.1 L175.7 481.8 L173.0 483.7 L171.4 486.4 L175.0 489.1 L177.8 493.7 L176.7 496.5 L175.0 499.1 L171.4 500.5 L166.8 499.1 L165.9 503.7 L164.1 509.1 L161.6 511.1 L159.6 513.7 L154.1 511.9 L151.2 510.7 L148.6 509.1 M259.7 555.6 L263.9 551.4 L266.1 548.7 L268.1 545.9 L270.1 543.1 L270.4 539.6 L271.1 536.2 L271.2 532.7 L274.3 530.6 L277.4 528.5 L280.5 526.5 L280.3 523.3 L280.7 520.2 L281.6 517.1 L284.6 518.3 L288.0 518.6 L290.8 520.5 L294.0 521.3 L296.7 523.1 L299.7 524.6 L302.3 526.5 L305.9 526.2 L309.2 524.9 L312.7 524.4 L316.4 526.4 L320.0 528.6 L319.5 532.1 L320.0 535.5 L320.0 539.0 L322.1 542.1 L324.2 545.2 L328.3 545.2 M171.6 619.7 L176.8 620.7 L179.9 621.8 L185.1 619.7 L187.1 615.6 L190.3 612.4 L188.9 609.7 L187.1 607.2 L186.2 604.1 L185.1 601.0 L188.4 598.3 L192.3 596.8 L195.1 594.7 L198.8 594.7 L201.7 592.7 L205.1 591.9 L208.6 591.0 L212.1 590.6 L215.3 589.8 L218.3 588.5 L218.7 585.0 L217.3 581.6 L217.3 578.1 L220.7 579.8 L224.5 580.2 L227.6 579.9 L230.8 580.9 L233.9 580.2 L235.7 577.2 L237.0 574.0 L240.0 570.1 L242.7 566.6 L246.2 563.9 L249.8 561.3 L252.5 557.7 L255.9 556.0 L259.7 555.6 M185.1 619.7 L184.7 623.9 L185.7 628.0 L185.8 632.2 L185.1 636.3 L183.5 639.4 L181.9 642.5 M259.7 555.6 L261.0 558.4 L262.1 561.3 L263.9 563.9 L263.7 567.1 L262.2 570.0 L261.7 573.2 L261.8 576.4 L266.0 578.4 L262.9 579.9 L260.8 582.6 L260.6 586.1 L261.1 589.5 L260.8 593.0 L259.7 597.1 L259.7 601.3 L262.3 604.1 L263.9 607.5 L262.8 611.6 L261.8 615.8 M261.8 615.8 L264.9 616.2 L268.1 616.2 L271.2 616.9 L274.8 616.2 L278.3 615.3 L281.6 613.8 L284.5 612.6 L286.8 610.3 L289.9 609.6 L292.9 608.2 L296.0 607.3 L299.4 607.2 L302.3 605.5 L303.1 602.4 L303.4 599.2 L306.5 597.9 L309.7 596.7 L312.7 595.1 L316.0 593.8 L319.7 594.0 L323.1 593.0 L325.2 587.8 L328.7 588.0 L332.1 587.3 L335.6 587.8 L339.7 586.0 L343.9 584.7 L346.6 583.2 L349.8 582.6 L352.2 580.5 L354.7 578.8 L357.4 577.4 L358.3 573.5 L360.5 570.1 M261.8 615.8 L257.7 615.9 L253.6 615.5 L251.7 618.5 L250.5 621.8 L252.2 625.8 L252.6 630.1 L251.4 634.4 L249.5 638.4 L245.3 638.4 L245.5 641.9 L244.7 645.3 L245.3 648.8 L247.2 651.5 L248.6 654.5 L249.5 657.7 L250.6 660.8 L250.7 664.0 L249.6 667.0 L254.8 669.1 L260.0 668.1 L262.1 671.2 L265.5 668.6 L269.4 667.0 L274.5 666.0 L275.8 668.8 L277.7 671.2 L279.7 674.3 L281.2 676.9 L282.9 679.5 L283.9 684.7 L280.8 686.8 L278.7 690.9 L282.9 695.1 M278.7 690.9 L282.9 695.1 L286.0 692.0 L289.1 687.8 L292.7 686.1 L296.4 684.7 L300.5 684.6 L304.7 684.7 L308.8 681.6 L312.1 681.7 L315.1 680.5 L318.6 679.0 L321.3 676.4 L325.5 673.2 L328.6 674.3 M278.7 690.9 L275.1 691.4 L271.4 691.9 L267.3 695.1 L263.1 698.2 L263.7 701.3 L264.2 704.4 L267.3 708.6 L263.1 712.7 L259.8 713.9 L256.9 715.8 L253.2 715.9 L249.6 716.9 L246.5 720.0 L243.4 720.3 L240.3 720.0 L235.1 722.1 L231.9 723.1 M200.8 693.0 L203.9 695.0 L207.0 697.1 L209.5 699.4 L211.2 702.3 L213.2 705.9 L216.4 708.6 L219.7 711.2 L223.6 712.7 L226.6 714.6 L229.9 715.8 L232.2 717.9 L235.1 719.0 L231.9 723.1 M231.9 723.1 L236.1 726.2 L240.3 730.4 L244.4 732.5 L244.7 736.1 L245.5 739.7 L246.3 743.9 L247.5 748.1 L250.0 750.7 L252.7 753.2 L255.8 756.4 L255.8 760.5 L255.8 764.7 L256.4 768.0 L257.9 770.9 L258.0 775.1 L256.9 779.2 L256.2 783.4 L254.8 787.5 L254.2 791.6 L253.8 795.8 L255.8 798.7 L256.9 802.1 L261.0 805.2 M248.0 286.0 L251.0 283.5 L255.5 283.5 L258.3 287.0 L257.5 292.0 L253.5 294.7 L249.0 293.0 L248.6 289.5 L248.0 286.0 M513.2 472.5 L513.8 469.0 L516.8 465.5 L516.8 460.8 L515.0 458.4 L511.5 457.3 L509.7 452.6 M513.1 330.5 L516.4 329.0 L520.0 328.5 L523.0 327.4 L526.0 326.5 L528.7 327.9 L531.6 328.8 M556.1 340.7 L557.3 343.9 L557.0 347.4 L554.4 352.5 L553.6 355.0 M610.2 335.7 L613.3 335.6 L616.1 334.1 L619.2 333.8 L622.3 333.7 L625.8 334.0 L629.4 333.5 L632.8 334.8 L636.4 334.7 L639.3 333.4 L642.4 333.2 L645.5 333.5 L648.5 332.7 L651.9 330.0 L654.6 326.6 L656.5 323.8 L659.2 321.7 L660.6 318.6 L664.1 318.6 L667.2 316.8 L670.7 316.6 L673.9 315.1 L677.6 315.1 L680.8 313.5 L684.3 312.5 L687.8 311.5 L690.9 309.5 L694.5 308.3 L698.3 308.5 L702.0 307.9 L700.7 311.8 L699.0 315.5 L700.0 318.5 L700.7 321.7 L702.0 324.6 L698.4 325.4 L694.9 326.6 L692.2 328.7 L688.9 329.7 L685.9 332.3 L683.8 335.7 L684.1 339.3 L684.9 342.8 M683.8 335.7 L680.3 336.7 L676.8 337.7 L674.4 339.7 L671.2 340.0 L668.7 341.8 L666.3 344.2 L663.1 345.5 L660.6 347.8 L659.3 351.3 L656.6 353.9 L654.9 356.8 L652.5 359.2 L650.5 362.0 L647.5 365.0 L645.0 367.2 L642.4 369.3 L640.5 372.1 L641.6 375.6 L642.5 379.1 M642.5 379.1 L644.9 376.9 L647.4 374.6 L649.5 372.1 L652.5 371.7 L655.6 371.3 L658.6 371.0 L661.6 370.4 L664.7 370.9 L667.7 370.0 L669.7 374.1 L670.7 375.1 M642.5 379.1 L640.0 380.7 L638.0 383.3 L637.1 386.4 L635.2 389.0 L634.3 392.1 L634.3 396.5 L632.9 400.7 L632.6 405.1 L631.4 409.3 L635.4 409.2 L639.3 410.0 M631.4 409.3 L630.6 406.1 L630.0 402.9 L626.4 401.4 L625.0 398.6 L622.9 403.6 L619.3 407.1 L615.7 407.1 M612.9 400.7 L613.6 405.0 L615.7 407.1 L614.8 410.3 L615.0 413.6 L613.8 416.7 L613.6 420.0 M556.1 364.3 L559.4 362.7 L563.1 362.5 L566.5 361.3 L569.7 362.3 L573.2 361.7 L576.4 363.0 L579.7 364.2 L582.9 365.8 L586.4 366.3 L590.0 364.0 L592.9 361.7 L596.1 359.9 L599.8 357.7 L604.1 356.9 L606.8 359.1 L610.2 359.9 L615.2 357.9 L613.3 361.5 L611.2 365.0 L614.5 367.9 L618.3 370.0 L621.1 372.8 L624.3 375.1 L626.4 380.0 L623.9 381.8 L620.8 382.7 L618.6 385.0" fill="none" stroke="#808080" stroke-width="1.5" stroke-linejoin="round" stroke-linecap="round"/>
<path d="M142.6 79.6 L144.3 75.4 L146.8 73.6 L149.4 72.0 L151.6 69.1 L153.6 66.1 L157.8 61.9 L163.7 61.0 L168.8 61.9 L173.0 60.2 L171.3 56.8 L177.2 57.7 L182.3 55.1 L185.9 54.4 L189.0 52.6 L194.1 50.9 L198.3 52.6 L203.4 53.4 L206.8 50.9 L210.1 51.8 L213.5 56.0 L215.6 58.9 L217.7 61.9 L221.9 66.1 L224.9 67.4 L227.9 68.6 L231.2 70.9 L234.6 72.9 L238.3 75.0 L241.4 77.9 L243.0 80.5 L244.7 83.0 L247.3 88.1 L253.2 88.9 L258.2 90.6 L260.8 94.0 L258.8 97.2 L263.2 97.4 L267.6 97.2 L271.0 96.4 L274.0 94.8 L278.8 92.4 L280.8 89.6 L283.6 87.6 L287.5 86.1 L291.6 85.2 L294.9 85.4 L298.0 86.8 L301.2 82.8 L305.2 82.8 L307.8 84.8 L310.8 86.0 L313.5 87.5 L316.4 88.4 L319.6 86.8 L323.6 90.8 L327.6 94.8 L328.3 98.4 L327.6 102.0 L326.1 105.9 L326.0 110.0 L324.4 115.6 L321.2 117.0 L318.8 119.6 L316.4 122.8 L315.6 126.8 L310.8 128.4 L310.8 133.2 L309.0 135.9 L307.6 138.8 L304.4 139.6 L300.4 139.4 L296.4 139.6 L294.8 142.0 L298.0 146.8 L298.8 150.0 L295.6 152.4 L296.4 157.2 L299.5 158.4 L302.0 160.4 L306.8 161.2 L308.4 164.4 L306.8 170.0 L309.2 174.0 L311.6 178.8 L310.0 182.0 L305.2 183.6 L300.4 186.0 L297.2 187.6 L294.0 185.2 L292.5 182.2 L292.4 178.8 L288.4 180.4 L284.4 182.0 L284.8 185.2 L285.2 188.4 L288.4 193.2 L290.5 196.3 L291.4 200.0 L292.2 203.1 L292.5 206.2 L292.5 209.4 L294.7 212.7 L295.6 216.6 L299.7 212.5 L301.8 215.6 L304.0 218.6 L306.0 221.8 L308.8 224.3 L312.2 226.0 L315.9 226.0 L319.5 226.0 L321.8 228.5 L324.4 230.8 L326.8 233.2 L329.4 235.1 L332.4 236.6 L335.1 238.4 L338.1 239.9 L340.4 242.7 L343.2 244.5 L346.5 245.7 L343.6 247.4 L341.3 249.9 L338.0 252.8 L335.1 256.1 L333.2 259.4 L330.9 262.3 L330.6 265.5 L329.8 268.6 L328.8 271.7 L328.0 274.8 L325.7 277.1 L324.7 280.0 L323.8 283.1 L322.6 286.2 L327.8 288.3 L330.8 289.4 L334.0 289.4 L337.2 291.3 L340.3 293.5 L342.7 295.8 L345.6 297.4 L348.6 298.7 L352.1 300.2 L354.8 302.9 L357.8 304.3 L360.0 306.9 L363.1 308.1 L367.3 309.1 L371.4 310.1 L373.8 312.1 L377.0 312.8 L379.7 314.3 L383.4 313.7 L387.0 314.3 L388.1 319.5 L392.2 320.7 L396.4 321.6 L401.6 322.6 L404.7 320.5 L408.7 322.0 L413.0 322.6 L416.5 321.0 L420.3 320.1 L424.3 321.2 L427.9 323.4 L430.6 325.4 L433.0 327.7 L433.8 331.9 L436.8 334.6 L440.6 336.1 L443.8 338.1 L447.3 339.5 L450.5 337.7 L454.1 336.9 L458.3 338.6 L460.0 342.9 L465.9 343.7 L470.2 344.2 L474.4 345.4 L478.0 346.1 L481.1 347.9 L485.1 346.0 L489.5 345.4 L492.1 347.9 L495.8 349.2 L499.7 349.6 L502.9 348.3 L506.4 347.9 L509.8 348.0 L513.2 347.9 L515.7 346.2 L515.6 340.6 L514.7 337.3 L513.5 334.0 L513.1 330.5 L513.8 327.2 L513.3 323.7 L514.2 320.4 L515.1 316.2 L515.6 311.9 L515.2 307.7 L520.6 306.0 L523.4 304.2 L526.6 303.5 L531.6 305.2 L533.3 310.3 L532.6 313.7 L531.6 317.0 L533.3 321.1 L534.2 325.5 L531.6 328.8 L534.2 333.9 L536.9 335.3 L539.2 337.3 L544.3 339.0 L547.7 339.3 L551.0 338.1 L556.1 340.7 L559.1 340.0 L561.6 338.2 L564.5 337.3 L569.6 336.4 L572.8 338.2 L576.4 339.0 L580.3 338.3 L584.3 338.2 L588.2 338.1 L592.6 338.8 L597.0 338.5 L600.9 337.7 L604.7 336.4 L610.2 335.7 L609.3 332.4 L610.3 328.9 L609.2 325.6 L605.6 324.0 L602.3 321.9 L599.1 319.6 L598.5 315.5 L597.1 311.5 L600.1 311.2 L603.1 311.2 L606.1 311.5 L609.3 310.2 L612.7 309.6 L616.2 309.5 L618.6 307.6 L620.7 305.1 L623.3 303.4 L626.1 302.0 L628.8 300.2 L631.6 298.8 L634.4 297.4 L637.5 294.2 L639.4 290.3 L642.9 289.8 L646.5 289.4 L650.1 289.3 L653.6 288.3 L655.0 285.5 L656.7 283.0 L659.4 281.1 L660.6 278.2 L663.2 276.5 L664.9 273.9 L667.1 271.8 L669.7 270.1 L672.5 272.9 L675.8 275.2 L678.9 276.6 L682.5 276.3 L685.5 278.1 L688.9 278.2 L692.3 275.6 L694.9 272.2 L698.3 270.6 L701.6 268.7 L705.0 267.1 L707.5 269.3 L709.1 272.2 L712.1 274.2 L710.0 276.7 L707.1 278.2 L708.1 281.2 L711.9 280.3 L715.1 278.2 L716.5 281.6 L717.1 285.3 L714.4 288.6 L712.1 292.3 L711.1 295.4 L715.2 295.0 L719.2 295.4 L722.4 296.9 L725.9 297.5 L729.3 298.4 L732.9 299.6 L736.3 301.4 L736.3 305.0 L735.3 308.5 L732.1 310.7 L729.3 313.5 L727.2 317.0 L724.2 319.6 L726.1 322.4 L727.2 325.6 L730.3 330.7 L725.2 328.7 L723.3 326.1 L721.2 323.6 L718.1 323.6 L715.1 324.6 L711.6 325.4 L708.1 326.6 L704.7 328.9 L701.0 330.7 L697.1 332.2 L693.9 334.7 L691.7 338.0 L688.9 340.8 L684.9 342.8 L683.8 347.8 L684.0 351.9 L682.8 355.9 L681.1 359.1 L678.8 362.0 L678.9 365.0 L678.8 368.0 L676.7 370.6 L673.8 372.1 L670.7 375.1 L672.2 378.5 L672.7 382.1 L671.9 386.2 L670.7 390.2 L668.8 393.2 L667.1 396.4 L666.2 399.9 L664.5 403.1 L662.9 406.4 L661.1 409.5 L659.8 412.8 L659.3 416.4 L654.3 414.3 L650.0 412.9 L644.3 412.9 L639.3 410.0 L640.7 412.1 L640.9 415.5 L641.3 418.8 L642.1 422.1 L641.7 425.4 L642.2 428.8 L641.4 432.1 L640.0 437.9 L635.0 437.9 L635.3 442.2 L634.3 446.4 L636.0 449.8 L636.4 453.6 L635.7 458.6 L633.4 461.5 L632.1 465.0 L631.4 462.9 L629.3 465.7 L627.4 463.3 L625.0 461.4 L622.1 465.0 L623.6 460.7 L622.1 455.0 L621.7 451.3 L620.0 447.9 L617.9 444.6 L617.1 440.7 L617.1 435.0 L616.6 431.4 L615.7 427.9 L614.6 424.0 L613.6 420.0 L610.7 420.7 L607.1 419.3 L607.1 424.3 L605.0 427.9 L602.1 431.4 L603.6 436.4 L599.3 439.3 L597.1 437.9 L596.4 434.9 L595.0 432.1 L592.9 435.7 L591.4 430.7 L590.1 427.9 L589.3 425.0 L587.9 419.3 L589.7 416.7 L590.0 413.6 L592.9 410.0 L598.6 409.3 L600.7 406.4 L605.0 407.1 L606.4 402.9 L610.7 401.4 L612.9 400.7 L613.6 395.0 L614.3 389.3 L619.3 388.6 L618.6 385.0 L615.7 383.6 L612.6 383.1 L610.0 381.4 L606.2 381.6 L602.4 381.5 L598.6 382.1 L595.2 381.3 L591.7 381.3 L588.3 381.1 L584.8 381.2 L581.4 381.0 L578.0 381.0 L574.7 382.0 L571.3 382.0 L568.0 380.9 L564.5 380.3 L560.4 378.9 L556.1 378.6 L555.8 372.7 L557.8 369.4 L556.1 364.3 L555.8 360.8 L554.4 357.5 L553.6 355.0 L551.0 360.1 L548.5 360.9 L544.3 358.4 L540.9 355.0 L537.5 352.5 L535.0 353.3 L531.6 351.6 L528.2 348.2 L524.0 346.6 L521.5 347.4 L520.6 350.8 L516.4 355.0 L514.7 359.2 L515.6 364.3 L518.2 366.8 L520.6 369.4 L523.8 371.4 L527.4 372.7 L531.6 372.7 L533.3 376.1 L535.8 378.6 L535.0 381.2 L531.5 381.1 L528.2 382.0 L523.2 384.6 L520.6 387.9 L516.4 391.3 L513.1 395.5 L516.8 400.0 L521.4 402.9 L524.3 403.9 L527.3 404.7 L530.2 405.8 L530.8 411.7 L527.3 416.4 L526.1 419.9 L528.4 423.4 L531.4 426.3 L529.0 429.8 L531.9 432.1 L536.6 432.7 L533.7 435.6 L534.3 440.9 L534.7 443.9 L535.5 446.8 L536.8 450.8 L537.8 454.9 L538.3 459.0 L539.0 463.1 L538.2 466.0 L537.8 469.0 L539.0 473.6 L534.3 475.4 L529.6 474.8 L524.9 476.0 L520.3 474.8 L516.8 473.6 L513.2 472.5 L508.6 473.1 L503.9 474.2 L499.2 474.8 L493.4 476.0 L488.7 479.5 L485.2 484.2 L484.3 489.8 L486.2 495.3 L490.7 497.1 L487.6 499.0 L484.0 499.8 L481.8 505.3 L479.4 507.9 L477.4 510.8 L474.7 512.5 L473.0 515.3 L469.8 515.9 L466.9 517.2 L464.1 518.6 L461.2 520.2 L458.1 521.2 L455.3 523.0 L452.3 524.7 L449.4 526.7 L446.4 528.5 L442.8 530.9 L439.8 534.1 L436.8 537.3 L433.1 539.6 L430.6 542.1 L428.7 545.1 L427.1 548.3 L424.3 550.7 L421.9 553.4 L419.8 556.2 L416.9 558.4 L414.2 560.9 L411.0 562.8 L407.8 565.2 L405.1 568.0 L402.1 570.6 L399.8 572.8 L397.2 574.8 L395.5 577.5 L392.8 580.3 L389.6 582.6 L387.3 585.3 L384.2 587.0 L381.3 588.8 L377.2 593.0 L376.4 596.1 L376.1 599.2 L373.4 600.9 L370.6 602.3 L367.3 602.5 L364.7 604.4 L361.2 605.2 L357.8 606.6 L354.3 607.5 L350.8 609.1 L348.0 611.7 L347.3 615.9 L346.0 620.0 L341.8 621.0 L339.7 617.9 L336.6 618.2 L333.5 619.0 L331.8 621.7 L329.4 623.9 L327.3 626.2 L324.6 630.1 L323.7 634.1 L323.7 638.3 L323.3 641.7 L323.6 645.0 L324.4 648.3 L324.8 651.4 L324.8 654.6 L325.5 657.7 L325.5 660.8 L326.8 664.1 L327.1 667.5 L327.3 671.0 L328.6 674.3 L328.6 678.0 L329.6 681.6 L328.8 685.7 L328.6 689.9 L326.4 693.8 L325.5 698.2 L324.4 701.1 L323.1 704.0 L321.3 706.5 L320.0 710.0 L318.8 713.6 L317.1 716.9 L317.2 720.4 L316.6 723.8 L316.1 727.3 L316.2 730.8 L316.8 734.2 L317.1 737.7 L318.2 741.8 L318.8 746.0 L318.0 749.6 L318.2 753.2 L314.0 752.5 L309.9 753.2 L307.3 755.4 L304.7 757.4 L302.6 761.4 L299.5 764.7 L299.1 768.5 L297.4 771.9 L300.5 776.1 L303.5 777.7 L306.8 778.2 L303.0 778.1 L299.5 776.7 L295.7 777.7 L292.2 779.2 L289.4 780.5 L286.8 782.3 L283.9 783.4 L279.7 786.5 L277.7 790.5 L276.6 794.8 L274.6 798.4 L271.4 801.0 L268.6 803.4 L265.2 804.8 L261.0 805.6 L257.9 804.4 L254.8 803.1 L251.2 800.5 L248.6 796.9 L246.9 793.5 L244.1 790.9 L242.3 787.5 L240.4 784.6 L238.9 781.6 L238.2 778.2 L237.4 775.0 L236.1 772.0 L235.1 768.8 L234.2 764.9 L233.2 761.1 L231.9 757.4 L231.1 753.9 L230.0 750.4 L228.3 747.2 L226.8 743.9 L225.1 740.9 L224.2 737.7 L222.5 734.7 L221.6 731.4 L219.4 728.9 L218.4 725.7 L217.2 722.7 L215.3 720.0 L212.5 717.2 L210.2 713.9 L208.1 710.6 L206.7 707.8 L205.9 704.6 L204.5 701.8 L203.4 698.8 L202.4 695.8 L200.8 693.0 L199.1 688.9 L197.7 684.7 L197.1 680.7 L196.2 676.9 L194.5 673.2 L192.5 670.3 L192.3 666.6 L190.3 663.7 L189.6 660.0 L187.6 656.7 L187.1 652.9 L185.3 649.5 L183.8 645.9 L181.9 642.5 L180.9 639.1 L178.8 636.3 L177.3 633.6 L176.2 630.7 L174.7 628.0 L173.7 623.7 L171.6 619.7 L170.4 615.4 L168.4 611.4 L167.3 607.6 L164.9 604.5 L163.2 601.0 L163.1 597.5 L162.1 594.1 L162.2 590.6 L161.8 587.1 L161.3 583.6 L160.1 580.2 L159.3 576.7 L158.3 573.2 L157.0 569.8 L156.2 566.4 L156.9 562.8 L156.0 559.4 L155.1 555.5 L152.9 552.1 L154.1 548.0 L153.9 543.8 L150.8 539.7 L150.2 535.9 L149.8 532.0 L148.7 528.2 L147.7 524.6 L147.8 520.8 L146.4 517.3 L147.6 513.7 L147.7 510.0 L148.9 507.2 L150.5 504.6 L150.3 500.9 L151.4 497.3 L150.4 494.3 L149.6 491.2 L148.6 488.2 L146.4 483.6 L145.5 480.0 L145.7 476.0 L145.0 472.1 L144.3 468.6 L143.6 465.0 L144.3 459.3 L141.4 455.7 L140.7 458.6 L138.6 462.1 L137.1 467.9 L137.8 471.4 L137.1 475.0 L135.3 478.0 L134.3 481.4 L131.9 484.4 L128.6 486.4 L125.5 487.4 L123.1 489.7 L120.0 490.7 L117.2 492.1 L114.1 492.7 L111.4 494.3 L107.6 495.9 L103.6 496.4 L99.5 495.9 L95.7 494.3 L92.2 492.1 L88.6 490.0 L86.4 487.8 L84.1 485.8 L81.4 484.3 L79.5 481.5 L77.7 478.6 L75.0 476.4 L72.9 474.0 L71.2 471.2 L68.6 469.3 L65.3 466.5 L62.9 462.9 L60.7 459.5 L59.3 455.7 L62.1 451.4 L65.7 455.7 L68.6 454.3 L71.4 452.9 L74.9 451.8 L78.6 451.4 L83.0 450.3 L87.1 448.6 L89.4 445.5 L91.4 442.1 L92.9 439.3 L95.7 437.1 L91.5 438.2 L86.9 440.2 L83.3 441.5 L79.8 442.8 L76.6 445.4 L74.0 444.1 L70.9 442.9 L67.5 442.8 L64.3 441.4 L61.0 440.2 L57.6 438.5 L54.5 436.3 L51.8 434.9 L49.3 433.1 L50.6 430.5 L48.0 426.6 L47.3 420.7 L42.8 421.4 L40.8 423.3 L40.2 420.1 L40.2 416.2 L42.8 414.2 L46.7 411.6 L49.3 413.6 L53.8 412.9 L54.3 409.0 L53.8 405.1 L55.8 404.5 L57.1 406.4 L60.2 406.6 L63.1 405.1 L66.2 405.1 L70.1 405.6 L74.0 405.1 L76.6 407.1 L80.4 408.1 L84.4 407.7 L86.3 405.1 L89.2 403.8 L92.1 402.5 L95.1 402.0 L98.0 401.2 L98.0 405.8 L103.8 405.8 L107.1 403.2 L110.3 401.9 L107.7 399.3 L108.4 395.4 L107.0 391.9 L104.7 388.3 L103.2 384.3 L101.8 380.4 L100.3 376.6 L99.8 373.2 L99.3 369.9 L93.6 369.0 L91.3 367.0 L88.8 365.2 L86.7 361.6 L86.0 357.6 L87.6 354.9 L87.9 351.8 L86.9 346.1 L82.2 345.2 L79.3 344.2 L76.4 343.2 L74.0 341.4 L71.7 339.4 L71.7 334.7 L73.5 332.0 L74.5 328.9 L76.8 326.1 L79.0 323.2 L81.2 320.4 L83.3 317.7 L84.5 314.3 L86.9 311.8 L89.8 309.4 L92.7 307.0 L97.4 307.0 L100.3 310.8 L102.2 314.6 L106.5 313.5 L110.8 312.7 L114.1 312.7 L117.3 312.1 L120.3 310.8 L123.1 309.5 L126.0 308.9 L128.9 308.0 L129.9 304.1 L131.9 301.4 L134.6 299.4 L136.1 296.2 L138.2 293.2 L139.4 289.8 L142.7 287.4 L145.1 284.1 L147.9 282.5 L150.7 280.7 L153.7 279.3 L155.7 276.2 L158.5 273.6 L159.9 270.5 L161.6 267.5 L162.3 264.1 L162.7 261.1 L164.6 258.5 L165.2 255.5 L167.1 253.0 L169.9 251.7 L175.5 250.1 L178.2 248.3 L176.4 245.6 L176.4 241.0 L177.9 238.3 L179.7 235.9 L181.9 233.7 L184.2 231.5 L186.0 228.7 L188.3 226.4 L192.8 222.8 L191.0 219.2 L191.7 215.2 L192.9 211.4 L191.4 207.1 L192.9 202.9 L195.1 200.9 L197.1 198.6 L201.4 195.7 L206.4 194.3 L210.7 192.1 L212.9 188.6 L208.6 186.4 L205.5 185.9 L202.9 184.3 L199.7 183.6 L196.4 183.6 L194.3 180.0 L194.1 176.7 L195.0 173.6 L193.6 176.4 L190.0 175.7 L187.2 174.6 L184.3 173.6 L180.5 172.1 L177.1 170.0 L173.3 168.6 L170.0 166.4 L169.0 163.2 L167.9 160.0 L168.2 156.4 L168.6 152.9 L168.1 149.3 L167.9 145.7 L167.0 141.4 L166.4 137.1 L165.4 133.5 L164.3 130.0 L164.3 125.0 L169.3 123.6 L170.7 120.7 L174.3 116.4 L179.3 113.6 L179.7 109.2 L176.4 105.8 L171.3 103.2 L173.0 98.2 L171.3 95.6 L167.8 95.3 L164.5 94.0 L161.3 92.7 L158.6 90.6 L156.9 87.2 L151.9 85.5 L147.7 86.9 L143.4 84.7Z" fill="none" stroke="#808080" stroke-width="1.6" stroke-linejoin="round"/>
<polygon points="534.9,446.8 537.2,454.9 539.0,463.1 537.8,469.0 539.0,473.6 534.3,475.4 529.6,474.8 524.9,476.0 520.3,474.8 516.8,473.6 517.9,469.0 521.4,467.2 526.1,465.5 527.3,459.6 530.8,456.1 533.1,450.3" fill="#858585"/>
<polygon points="40.2,416.2 42.8,414.2 46.7,411.6 49.3,413.6 53.2,414.2 53.8,416.8 49.3,418.8 46.7,420.7 42.8,421.4 40.8,423.3 40.2,420.1" fill="#808080"/>
<polygon points="631.0,671.1 633.2,673.3 634.3,679.4 633.2,684.9 631.6,689.3 627.7,689.9 626.0,687.7 626.6,681.0 628.2,675.5" fill="#dcdcdc" stroke="#8a8a8a" stroke-width="1.7" stroke-linejoin="round"/>
<polygon points="624.4,690.4 629.9,691.0 631.6,694.3 631.3,700.9 629.9,704.3 626.6,705.4 624.4,703.2 623.8,696.5 622.7,692.1" fill="#dcdcdc" stroke="#8a8a8a" stroke-width="1.7" stroke-linejoin="round"/>
<polygon points="623.3,706.5 627.1,705.9 627.7,709.8 626.6,715.3 626.0,722.0 624.4,726.4 622.2,728.1 620.5,724.2 620.5,717.5 619.9,714.2 621.6,709.8" fill="#dcdcdc" stroke="#8a8a8a" stroke-width="1.7" stroke-linejoin="round"/>
<polygon points="619.4,738.0 621.6,739.1 622.5,742.4 621.6,746.3 618.8,748.0 616.6,747.4 616.1,743.0 617.2,739.7" fill="#dcdcdc" stroke="#8a8a8a" stroke-width="1.7" stroke-linejoin="round"/>
<polygon points="633.2,704.3 634.9,704.3 634.3,708.7 633.8,713.1 633.2,716.4 631.6,716.4 631.0,712.0 629.9,710.9 631.6,707.6" fill="#8a8a8a" stroke="#8a8a8a" stroke-width="0.8" stroke-linejoin="round"/>
<circle cx="646.3" cy="641.7" r="0.8" fill="#808080" stroke="#808080" stroke-width="1"/>
<circle cx="651.5" cy="704.8" r="1.2" fill="#808080" stroke="#808080" stroke-width="1"/>
<circle cx="613.3" cy="722.5" r="1.3" fill="#808080" stroke="#808080" stroke-width="1"/>
<circle cx="626" cy="779.6" r="1.6" fill="#808080" stroke="#808080" stroke-width="1"/>
<circle cx="635" cy="801" r="1.6" fill="#808080" stroke="#808080" stroke-width="1"/>
<circle cx="646.3" cy="796.1" r="1" fill="#808080" stroke="#808080" stroke-width="1"/>
<circle cx="644" cy="804.4" r="2" fill="#808080" stroke="#808080" stroke-width="1"/>
<circle cx="640.6" cy="808.9" r="1.8" fill="#808080" stroke="#808080" stroke-width="1"/>
<circle cx="170.4" cy="741" r="1" fill="#808080" stroke="#808080" stroke-width="1"/>
<circle cx="146.5" cy="747" r="0.8" fill="#808080" stroke="#808080" stroke-width="1"/>
<circle cx="156" cy="801" r="0.8" fill="#808080" stroke="#808080" stroke-width="1"/>
</svg>
</body></html>
